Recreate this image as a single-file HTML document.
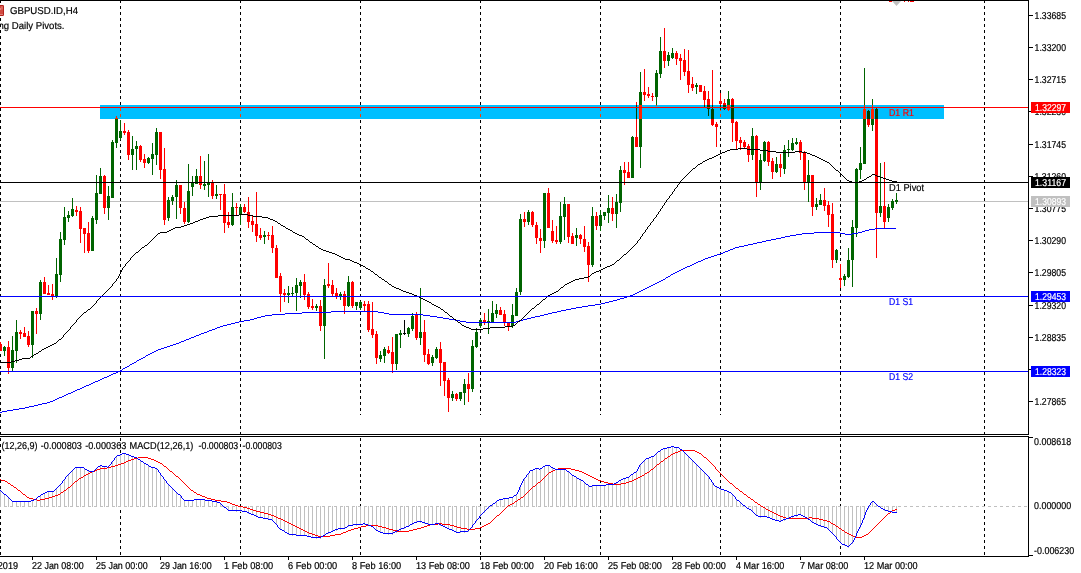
<!DOCTYPE html>
<html><head><meta charset="utf-8"><title>GBPUSD.ID,H4</title>
<style>
html,body{margin:0;padding:0;background:#fff;}
body{width:1081px;height:573px;overflow:hidden;font-family:"Liberation Sans",sans-serif;}
svg{display:block;will-change:transform;}
text{font-family:"Liberation Sans",sans-serif;stroke-width:0.2px;text-rendering:geometricPrecision;paint-order:stroke;}
</style></head><body>
<svg width="1081" height="573" viewBox="0 0 1081 573" shape-rendering="crispEdges" font-family="Liberation Sans, sans-serif">
<g id="grid"><rect x="0" y="1" width="1" height="2" fill="#000"/><rect x="0" y="6" width="1" height="3" fill="#000"/><rect x="0" y="12" width="1" height="3" fill="#000"/><rect x="0" y="18" width="1" height="3" fill="#000"/><rect x="0" y="24" width="1" height="3" fill="#000"/><rect x="0" y="30" width="1" height="3" fill="#000"/><rect x="0" y="36" width="1" height="3" fill="#000"/><rect x="0" y="42" width="1" height="3" fill="#000"/><rect x="0" y="48" width="1" height="3" fill="#000"/><rect x="0" y="54" width="1" height="3" fill="#000"/><rect x="0" y="60" width="1" height="3" fill="#000"/><rect x="0" y="66" width="1" height="3" fill="#000"/><rect x="0" y="72" width="1" height="3" fill="#000"/><rect x="0" y="78" width="1" height="3" fill="#000"/><rect x="0" y="84" width="1" height="3" fill="#000"/><rect x="0" y="90" width="1" height="3" fill="#000"/><rect x="0" y="96" width="1" height="3" fill="#000"/><rect x="0" y="102" width="1" height="3" fill="#000"/><rect x="0" y="108" width="1" height="3" fill="#000"/><rect x="0" y="114" width="1" height="3" fill="#000"/><rect x="0" y="120" width="1" height="3" fill="#000"/><rect x="0" y="126" width="1" height="3" fill="#000"/><rect x="0" y="132" width="1" height="3" fill="#000"/><rect x="0" y="138" width="1" height="3" fill="#000"/><rect x="0" y="144" width="1" height="3" fill="#000"/><rect x="0" y="150" width="1" height="3" fill="#000"/><rect x="0" y="156" width="1" height="3" fill="#000"/><rect x="0" y="162" width="1" height="3" fill="#000"/><rect x="0" y="168" width="1" height="3" fill="#000"/><rect x="0" y="174" width="1" height="3" fill="#000"/><rect x="0" y="180" width="1" height="3" fill="#000"/><rect x="0" y="186" width="1" height="3" fill="#000"/><rect x="0" y="192" width="1" height="3" fill="#000"/><rect x="0" y="198" width="1" height="3" fill="#000"/><rect x="0" y="204" width="1" height="3" fill="#000"/><rect x="0" y="210" width="1" height="3" fill="#000"/><rect x="0" y="216" width="1" height="3" fill="#000"/><rect x="0" y="222" width="1" height="3" fill="#000"/><rect x="0" y="228" width="1" height="3" fill="#000"/><rect x="0" y="234" width="1" height="3" fill="#000"/><rect x="0" y="240" width="1" height="3" fill="#000"/><rect x="0" y="246" width="1" height="3" fill="#000"/><rect x="0" y="252" width="1" height="3" fill="#000"/><rect x="0" y="258" width="1" height="3" fill="#000"/><rect x="0" y="264" width="1" height="3" fill="#000"/><rect x="0" y="270" width="1" height="3" fill="#000"/><rect x="0" y="276" width="1" height="3" fill="#000"/><rect x="0" y="282" width="1" height="3" fill="#000"/><rect x="0" y="288" width="1" height="3" fill="#000"/><rect x="0" y="294" width="1" height="3" fill="#000"/><rect x="0" y="300" width="1" height="3" fill="#000"/><rect x="0" y="306" width="1" height="3" fill="#000"/><rect x="0" y="312" width="1" height="3" fill="#000"/><rect x="0" y="318" width="1" height="3" fill="#000"/><rect x="0" y="324" width="1" height="3" fill="#000"/><rect x="0" y="330" width="1" height="3" fill="#000"/><rect x="0" y="336" width="1" height="3" fill="#000"/><rect x="0" y="342" width="1" height="3" fill="#000"/><rect x="0" y="348" width="1" height="3" fill="#000"/><rect x="0" y="354" width="1" height="3" fill="#000"/><rect x="0" y="360" width="1" height="3" fill="#000"/><rect x="0" y="366" width="1" height="3" fill="#000"/><rect x="0" y="372" width="1" height="3" fill="#000"/><rect x="0" y="378" width="1" height="3" fill="#000"/><rect x="0" y="384" width="1" height="3" fill="#000"/><rect x="0" y="390" width="1" height="3" fill="#000"/><rect x="0" y="396" width="1" height="3" fill="#000"/><rect x="0" y="402" width="1" height="3" fill="#000"/><rect x="0" y="408" width="1" height="3" fill="#000"/><rect x="0" y="414" width="1" height="3" fill="#000"/><rect x="0" y="420" width="1" height="3" fill="#000"/><rect x="0" y="426" width="1" height="3" fill="#000"/><rect x="0" y="432" width="1" height="2" fill="#000"/><rect x="120" y="1" width="1" height="2" fill="#000"/><rect x="120" y="6" width="1" height="3" fill="#000"/><rect x="120" y="12" width="1" height="3" fill="#000"/><rect x="120" y="18" width="1" height="3" fill="#000"/><rect x="120" y="24" width="1" height="3" fill="#000"/><rect x="120" y="30" width="1" height="3" fill="#000"/><rect x="120" y="36" width="1" height="3" fill="#000"/><rect x="120" y="42" width="1" height="3" fill="#000"/><rect x="120" y="48" width="1" height="3" fill="#000"/><rect x="120" y="54" width="1" height="3" fill="#000"/><rect x="120" y="60" width="1" height="3" fill="#000"/><rect x="120" y="66" width="1" height="3" fill="#000"/><rect x="120" y="72" width="1" height="3" fill="#000"/><rect x="120" y="78" width="1" height="3" fill="#000"/><rect x="120" y="84" width="1" height="3" fill="#000"/><rect x="120" y="90" width="1" height="3" fill="#000"/><rect x="120" y="96" width="1" height="3" fill="#000"/><rect x="120" y="102" width="1" height="3" fill="#000"/><rect x="120" y="108" width="1" height="3" fill="#000"/><rect x="120" y="114" width="1" height="3" fill="#000"/><rect x="120" y="120" width="1" height="3" fill="#000"/><rect x="120" y="126" width="1" height="3" fill="#000"/><rect x="120" y="132" width="1" height="3" fill="#000"/><rect x="120" y="138" width="1" height="3" fill="#000"/><rect x="120" y="144" width="1" height="3" fill="#000"/><rect x="120" y="150" width="1" height="3" fill="#000"/><rect x="120" y="156" width="1" height="3" fill="#000"/><rect x="120" y="162" width="1" height="3" fill="#000"/><rect x="120" y="168" width="1" height="3" fill="#000"/><rect x="120" y="174" width="1" height="3" fill="#000"/><rect x="120" y="180" width="1" height="3" fill="#000"/><rect x="120" y="186" width="1" height="3" fill="#000"/><rect x="120" y="192" width="1" height="3" fill="#000"/><rect x="120" y="198" width="1" height="3" fill="#000"/><rect x="120" y="204" width="1" height="3" fill="#000"/><rect x="120" y="210" width="1" height="3" fill="#000"/><rect x="120" y="216" width="1" height="3" fill="#000"/><rect x="120" y="222" width="1" height="3" fill="#000"/><rect x="120" y="228" width="1" height="3" fill="#000"/><rect x="120" y="234" width="1" height="3" fill="#000"/><rect x="120" y="240" width="1" height="3" fill="#000"/><rect x="120" y="246" width="1" height="3" fill="#000"/><rect x="120" y="252" width="1" height="3" fill="#000"/><rect x="120" y="258" width="1" height="3" fill="#000"/><rect x="120" y="264" width="1" height="3" fill="#000"/><rect x="120" y="270" width="1" height="3" fill="#000"/><rect x="120" y="276" width="1" height="3" fill="#000"/><rect x="120" y="282" width="1" height="3" fill="#000"/><rect x="120" y="288" width="1" height="3" fill="#000"/><rect x="120" y="294" width="1" height="3" fill="#000"/><rect x="120" y="300" width="1" height="3" fill="#000"/><rect x="120" y="306" width="1" height="3" fill="#000"/><rect x="120" y="312" width="1" height="3" fill="#000"/><rect x="120" y="318" width="1" height="3" fill="#000"/><rect x="120" y="324" width="1" height="3" fill="#000"/><rect x="120" y="330" width="1" height="3" fill="#000"/><rect x="120" y="336" width="1" height="3" fill="#000"/><rect x="120" y="342" width="1" height="3" fill="#000"/><rect x="120" y="348" width="1" height="3" fill="#000"/><rect x="120" y="354" width="1" height="3" fill="#000"/><rect x="120" y="360" width="1" height="3" fill="#000"/><rect x="120" y="366" width="1" height="3" fill="#000"/><rect x="120" y="372" width="1" height="3" fill="#000"/><rect x="120" y="378" width="1" height="3" fill="#000"/><rect x="120" y="384" width="1" height="3" fill="#000"/><rect x="120" y="390" width="1" height="3" fill="#000"/><rect x="120" y="396" width="1" height="3" fill="#000"/><rect x="120" y="402" width="1" height="3" fill="#000"/><rect x="120" y="408" width="1" height="3" fill="#000"/><rect x="120" y="414" width="1" height="3" fill="#000"/><rect x="120" y="420" width="1" height="3" fill="#000"/><rect x="120" y="426" width="1" height="3" fill="#000"/><rect x="120" y="432" width="1" height="2" fill="#000"/><rect x="240" y="1" width="1" height="2" fill="#000"/><rect x="240" y="6" width="1" height="3" fill="#000"/><rect x="240" y="12" width="1" height="3" fill="#000"/><rect x="240" y="18" width="1" height="3" fill="#000"/><rect x="240" y="24" width="1" height="3" fill="#000"/><rect x="240" y="30" width="1" height="3" fill="#000"/><rect x="240" y="36" width="1" height="3" fill="#000"/><rect x="240" y="42" width="1" height="3" fill="#000"/><rect x="240" y="48" width="1" height="3" fill="#000"/><rect x="240" y="54" width="1" height="3" fill="#000"/><rect x="240" y="60" width="1" height="3" fill="#000"/><rect x="240" y="66" width="1" height="3" fill="#000"/><rect x="240" y="72" width="1" height="3" fill="#000"/><rect x="240" y="78" width="1" height="3" fill="#000"/><rect x="240" y="84" width="1" height="3" fill="#000"/><rect x="240" y="90" width="1" height="3" fill="#000"/><rect x="240" y="96" width="1" height="3" fill="#000"/><rect x="240" y="102" width="1" height="3" fill="#000"/><rect x="240" y="108" width="1" height="3" fill="#000"/><rect x="240" y="114" width="1" height="3" fill="#000"/><rect x="240" y="120" width="1" height="3" fill="#000"/><rect x="240" y="126" width="1" height="3" fill="#000"/><rect x="240" y="132" width="1" height="3" fill="#000"/><rect x="240" y="138" width="1" height="3" fill="#000"/><rect x="240" y="144" width="1" height="3" fill="#000"/><rect x="240" y="150" width="1" height="3" fill="#000"/><rect x="240" y="156" width="1" height="3" fill="#000"/><rect x="240" y="162" width="1" height="3" fill="#000"/><rect x="240" y="168" width="1" height="3" fill="#000"/><rect x="240" y="174" width="1" height="3" fill="#000"/><rect x="240" y="180" width="1" height="3" fill="#000"/><rect x="240" y="186" width="1" height="3" fill="#000"/><rect x="240" y="192" width="1" height="3" fill="#000"/><rect x="240" y="198" width="1" height="3" fill="#000"/><rect x="240" y="204" width="1" height="3" fill="#000"/><rect x="240" y="210" width="1" height="3" fill="#000"/><rect x="240" y="216" width="1" height="3" fill="#000"/><rect x="240" y="222" width="1" height="3" fill="#000"/><rect x="240" y="228" width="1" height="3" fill="#000"/><rect x="240" y="234" width="1" height="3" fill="#000"/><rect x="240" y="240" width="1" height="3" fill="#000"/><rect x="240" y="246" width="1" height="3" fill="#000"/><rect x="240" y="252" width="1" height="3" fill="#000"/><rect x="240" y="258" width="1" height="3" fill="#000"/><rect x="240" y="264" width="1" height="3" fill="#000"/><rect x="240" y="270" width="1" height="3" fill="#000"/><rect x="240" y="276" width="1" height="3" fill="#000"/><rect x="240" y="282" width="1" height="3" fill="#000"/><rect x="240" y="288" width="1" height="3" fill="#000"/><rect x="240" y="294" width="1" height="3" fill="#000"/><rect x="240" y="300" width="1" height="3" fill="#000"/><rect x="240" y="306" width="1" height="3" fill="#000"/><rect x="240" y="312" width="1" height="3" fill="#000"/><rect x="240" y="318" width="1" height="3" fill="#000"/><rect x="240" y="324" width="1" height="3" fill="#000"/><rect x="240" y="330" width="1" height="3" fill="#000"/><rect x="240" y="336" width="1" height="3" fill="#000"/><rect x="240" y="342" width="1" height="3" fill="#000"/><rect x="240" y="348" width="1" height="3" fill="#000"/><rect x="240" y="354" width="1" height="3" fill="#000"/><rect x="240" y="360" width="1" height="3" fill="#000"/><rect x="240" y="366" width="1" height="3" fill="#000"/><rect x="240" y="372" width="1" height="3" fill="#000"/><rect x="240" y="378" width="1" height="3" fill="#000"/><rect x="240" y="384" width="1" height="3" fill="#000"/><rect x="240" y="390" width="1" height="3" fill="#000"/><rect x="240" y="396" width="1" height="3" fill="#000"/><rect x="240" y="402" width="1" height="3" fill="#000"/><rect x="240" y="408" width="1" height="3" fill="#000"/><rect x="240" y="414" width="1" height="3" fill="#000"/><rect x="240" y="420" width="1" height="3" fill="#000"/><rect x="240" y="426" width="1" height="3" fill="#000"/><rect x="240" y="432" width="1" height="2" fill="#000"/><rect x="360" y="1" width="1" height="2" fill="#000"/><rect x="360" y="6" width="1" height="3" fill="#000"/><rect x="360" y="12" width="1" height="3" fill="#000"/><rect x="360" y="18" width="1" height="3" fill="#000"/><rect x="360" y="24" width="1" height="3" fill="#000"/><rect x="360" y="30" width="1" height="3" fill="#000"/><rect x="360" y="36" width="1" height="3" fill="#000"/><rect x="360" y="42" width="1" height="3" fill="#000"/><rect x="360" y="48" width="1" height="3" fill="#000"/><rect x="360" y="54" width="1" height="3" fill="#000"/><rect x="360" y="60" width="1" height="3" fill="#000"/><rect x="360" y="66" width="1" height="3" fill="#000"/><rect x="360" y="72" width="1" height="3" fill="#000"/><rect x="360" y="78" width="1" height="3" fill="#000"/><rect x="360" y="84" width="1" height="3" fill="#000"/><rect x="360" y="90" width="1" height="3" fill="#000"/><rect x="360" y="96" width="1" height="3" fill="#000"/><rect x="360" y="102" width="1" height="3" fill="#000"/><rect x="360" y="108" width="1" height="3" fill="#000"/><rect x="360" y="114" width="1" height="3" fill="#000"/><rect x="360" y="120" width="1" height="3" fill="#000"/><rect x="360" y="126" width="1" height="3" fill="#000"/><rect x="360" y="132" width="1" height="3" fill="#000"/><rect x="360" y="138" width="1" height="3" fill="#000"/><rect x="360" y="144" width="1" height="3" fill="#000"/><rect x="360" y="150" width="1" height="3" fill="#000"/><rect x="360" y="156" width="1" height="3" fill="#000"/><rect x="360" y="162" width="1" height="3" fill="#000"/><rect x="360" y="168" width="1" height="3" fill="#000"/><rect x="360" y="174" width="1" height="3" fill="#000"/><rect x="360" y="180" width="1" height="3" fill="#000"/><rect x="360" y="186" width="1" height="3" fill="#000"/><rect x="360" y="192" width="1" height="3" fill="#000"/><rect x="360" y="198" width="1" height="3" fill="#000"/><rect x="360" y="204" width="1" height="3" fill="#000"/><rect x="360" y="210" width="1" height="3" fill="#000"/><rect x="360" y="216" width="1" height="3" fill="#000"/><rect x="360" y="222" width="1" height="3" fill="#000"/><rect x="360" y="228" width="1" height="3" fill="#000"/><rect x="360" y="234" width="1" height="3" fill="#000"/><rect x="360" y="240" width="1" height="3" fill="#000"/><rect x="360" y="246" width="1" height="3" fill="#000"/><rect x="360" y="252" width="1" height="3" fill="#000"/><rect x="360" y="258" width="1" height="3" fill="#000"/><rect x="360" y="264" width="1" height="3" fill="#000"/><rect x="360" y="270" width="1" height="3" fill="#000"/><rect x="360" y="276" width="1" height="3" fill="#000"/><rect x="360" y="282" width="1" height="3" fill="#000"/><rect x="360" y="288" width="1" height="3" fill="#000"/><rect x="360" y="294" width="1" height="3" fill="#000"/><rect x="360" y="300" width="1" height="3" fill="#000"/><rect x="360" y="306" width="1" height="3" fill="#000"/><rect x="360" y="312" width="1" height="3" fill="#000"/><rect x="360" y="318" width="1" height="3" fill="#000"/><rect x="360" y="324" width="1" height="3" fill="#000"/><rect x="360" y="330" width="1" height="3" fill="#000"/><rect x="360" y="336" width="1" height="3" fill="#000"/><rect x="360" y="342" width="1" height="3" fill="#000"/><rect x="360" y="348" width="1" height="3" fill="#000"/><rect x="360" y="354" width="1" height="3" fill="#000"/><rect x="360" y="360" width="1" height="3" fill="#000"/><rect x="360" y="366" width="1" height="3" fill="#000"/><rect x="360" y="372" width="1" height="3" fill="#000"/><rect x="360" y="378" width="1" height="3" fill="#000"/><rect x="360" y="384" width="1" height="3" fill="#000"/><rect x="360" y="390" width="1" height="3" fill="#000"/><rect x="360" y="396" width="1" height="3" fill="#000"/><rect x="360" y="402" width="1" height="3" fill="#000"/><rect x="360" y="408" width="1" height="3" fill="#000"/><rect x="360" y="414" width="1" height="1" fill="#000"/><rect x="480" y="1" width="1" height="2" fill="#000"/><rect x="480" y="6" width="1" height="3" fill="#000"/><rect x="480" y="12" width="1" height="3" fill="#000"/><rect x="480" y="18" width="1" height="3" fill="#000"/><rect x="480" y="24" width="1" height="3" fill="#000"/><rect x="480" y="30" width="1" height="3" fill="#000"/><rect x="480" y="36" width="1" height="3" fill="#000"/><rect x="480" y="42" width="1" height="3" fill="#000"/><rect x="480" y="48" width="1" height="3" fill="#000"/><rect x="480" y="54" width="1" height="3" fill="#000"/><rect x="480" y="60" width="1" height="3" fill="#000"/><rect x="480" y="66" width="1" height="3" fill="#000"/><rect x="480" y="72" width="1" height="3" fill="#000"/><rect x="480" y="78" width="1" height="3" fill="#000"/><rect x="480" y="84" width="1" height="3" fill="#000"/><rect x="480" y="90" width="1" height="3" fill="#000"/><rect x="480" y="96" width="1" height="3" fill="#000"/><rect x="480" y="102" width="1" height="3" fill="#000"/><rect x="480" y="108" width="1" height="3" fill="#000"/><rect x="480" y="114" width="1" height="3" fill="#000"/><rect x="480" y="120" width="1" height="3" fill="#000"/><rect x="480" y="126" width="1" height="3" fill="#000"/><rect x="480" y="132" width="1" height="3" fill="#000"/><rect x="480" y="138" width="1" height="3" fill="#000"/><rect x="480" y="144" width="1" height="3" fill="#000"/><rect x="480" y="150" width="1" height="3" fill="#000"/><rect x="480" y="156" width="1" height="3" fill="#000"/><rect x="480" y="162" width="1" height="3" fill="#000"/><rect x="480" y="168" width="1" height="3" fill="#000"/><rect x="480" y="174" width="1" height="3" fill="#000"/><rect x="480" y="180" width="1" height="3" fill="#000"/><rect x="480" y="186" width="1" height="3" fill="#000"/><rect x="480" y="192" width="1" height="3" fill="#000"/><rect x="480" y="198" width="1" height="3" fill="#000"/><rect x="480" y="204" width="1" height="3" fill="#000"/><rect x="480" y="210" width="1" height="3" fill="#000"/><rect x="480" y="216" width="1" height="3" fill="#000"/><rect x="480" y="222" width="1" height="3" fill="#000"/><rect x="480" y="228" width="1" height="3" fill="#000"/><rect x="480" y="234" width="1" height="3" fill="#000"/><rect x="480" y="240" width="1" height="3" fill="#000"/><rect x="480" y="246" width="1" height="3" fill="#000"/><rect x="480" y="252" width="1" height="3" fill="#000"/><rect x="480" y="258" width="1" height="3" fill="#000"/><rect x="480" y="264" width="1" height="3" fill="#000"/><rect x="480" y="270" width="1" height="3" fill="#000"/><rect x="480" y="276" width="1" height="3" fill="#000"/><rect x="480" y="282" width="1" height="3" fill="#000"/><rect x="480" y="288" width="1" height="3" fill="#000"/><rect x="480" y="294" width="1" height="3" fill="#000"/><rect x="480" y="300" width="1" height="3" fill="#000"/><rect x="480" y="306" width="1" height="3" fill="#000"/><rect x="480" y="312" width="1" height="3" fill="#000"/><rect x="480" y="318" width="1" height="3" fill="#000"/><rect x="480" y="324" width="1" height="3" fill="#000"/><rect x="480" y="330" width="1" height="3" fill="#000"/><rect x="480" y="336" width="1" height="3" fill="#000"/><rect x="480" y="342" width="1" height="3" fill="#000"/><rect x="480" y="348" width="1" height="3" fill="#000"/><rect x="480" y="354" width="1" height="3" fill="#000"/><rect x="480" y="360" width="1" height="3" fill="#000"/><rect x="480" y="366" width="1" height="3" fill="#000"/><rect x="480" y="372" width="1" height="3" fill="#000"/><rect x="480" y="378" width="1" height="3" fill="#000"/><rect x="480" y="384" width="1" height="3" fill="#000"/><rect x="480" y="390" width="1" height="3" fill="#000"/><rect x="480" y="396" width="1" height="3" fill="#000"/><rect x="480" y="402" width="1" height="3" fill="#000"/><rect x="480" y="408" width="1" height="3" fill="#000"/><rect x="480" y="414" width="1" height="1" fill="#000"/><rect x="600" y="1" width="1" height="2" fill="#000"/><rect x="600" y="6" width="1" height="3" fill="#000"/><rect x="600" y="12" width="1" height="3" fill="#000"/><rect x="600" y="18" width="1" height="3" fill="#000"/><rect x="600" y="24" width="1" height="3" fill="#000"/><rect x="600" y="30" width="1" height="3" fill="#000"/><rect x="600" y="36" width="1" height="3" fill="#000"/><rect x="600" y="42" width="1" height="3" fill="#000"/><rect x="600" y="48" width="1" height="3" fill="#000"/><rect x="600" y="54" width="1" height="3" fill="#000"/><rect x="600" y="60" width="1" height="3" fill="#000"/><rect x="600" y="66" width="1" height="3" fill="#000"/><rect x="600" y="72" width="1" height="3" fill="#000"/><rect x="600" y="78" width="1" height="3" fill="#000"/><rect x="600" y="84" width="1" height="3" fill="#000"/><rect x="600" y="90" width="1" height="3" fill="#000"/><rect x="600" y="96" width="1" height="3" fill="#000"/><rect x="600" y="102" width="1" height="3" fill="#000"/><rect x="600" y="108" width="1" height="3" fill="#000"/><rect x="600" y="114" width="1" height="3" fill="#000"/><rect x="600" y="120" width="1" height="3" fill="#000"/><rect x="600" y="126" width="1" height="3" fill="#000"/><rect x="600" y="132" width="1" height="3" fill="#000"/><rect x="600" y="138" width="1" height="3" fill="#000"/><rect x="600" y="144" width="1" height="3" fill="#000"/><rect x="600" y="150" width="1" height="3" fill="#000"/><rect x="600" y="156" width="1" height="3" fill="#000"/><rect x="600" y="162" width="1" height="3" fill="#000"/><rect x="600" y="168" width="1" height="3" fill="#000"/><rect x="600" y="174" width="1" height="3" fill="#000"/><rect x="600" y="180" width="1" height="3" fill="#000"/><rect x="600" y="186" width="1" height="3" fill="#000"/><rect x="600" y="192" width="1" height="3" fill="#000"/><rect x="600" y="198" width="1" height="3" fill="#000"/><rect x="600" y="204" width="1" height="3" fill="#000"/><rect x="600" y="210" width="1" height="3" fill="#000"/><rect x="600" y="216" width="1" height="3" fill="#000"/><rect x="600" y="222" width="1" height="3" fill="#000"/><rect x="600" y="228" width="1" height="3" fill="#000"/><rect x="600" y="234" width="1" height="3" fill="#000"/><rect x="600" y="240" width="1" height="3" fill="#000"/><rect x="600" y="246" width="1" height="3" fill="#000"/><rect x="600" y="252" width="1" height="3" fill="#000"/><rect x="600" y="258" width="1" height="3" fill="#000"/><rect x="600" y="264" width="1" height="3" fill="#000"/><rect x="600" y="270" width="1" height="3" fill="#000"/><rect x="600" y="276" width="1" height="3" fill="#000"/><rect x="600" y="282" width="1" height="3" fill="#000"/><rect x="600" y="288" width="1" height="3" fill="#000"/><rect x="600" y="294" width="1" height="3" fill="#000"/><rect x="600" y="300" width="1" height="3" fill="#000"/><rect x="600" y="306" width="1" height="3" fill="#000"/><rect x="600" y="312" width="1" height="3" fill="#000"/><rect x="600" y="318" width="1" height="3" fill="#000"/><rect x="600" y="324" width="1" height="3" fill="#000"/><rect x="600" y="330" width="1" height="3" fill="#000"/><rect x="600" y="336" width="1" height="3" fill="#000"/><rect x="600" y="342" width="1" height="3" fill="#000"/><rect x="600" y="348" width="1" height="3" fill="#000"/><rect x="600" y="354" width="1" height="3" fill="#000"/><rect x="600" y="360" width="1" height="3" fill="#000"/><rect x="600" y="366" width="1" height="3" fill="#000"/><rect x="600" y="372" width="1" height="3" fill="#000"/><rect x="600" y="378" width="1" height="3" fill="#000"/><rect x="600" y="384" width="1" height="3" fill="#000"/><rect x="600" y="390" width="1" height="3" fill="#000"/><rect x="600" y="396" width="1" height="3" fill="#000"/><rect x="600" y="402" width="1" height="3" fill="#000"/><rect x="600" y="408" width="1" height="3" fill="#000"/><rect x="600" y="414" width="1" height="1" fill="#000"/><rect x="720" y="1" width="1" height="2" fill="#000"/><rect x="720" y="6" width="1" height="3" fill="#000"/><rect x="720" y="12" width="1" height="3" fill="#000"/><rect x="720" y="18" width="1" height="3" fill="#000"/><rect x="720" y="24" width="1" height="3" fill="#000"/><rect x="720" y="30" width="1" height="3" fill="#000"/><rect x="720" y="36" width="1" height="3" fill="#000"/><rect x="720" y="42" width="1" height="3" fill="#000"/><rect x="720" y="48" width="1" height="3" fill="#000"/><rect x="720" y="54" width="1" height="3" fill="#000"/><rect x="720" y="60" width="1" height="3" fill="#000"/><rect x="720" y="66" width="1" height="3" fill="#000"/><rect x="720" y="72" width="1" height="3" fill="#000"/><rect x="720" y="78" width="1" height="3" fill="#000"/><rect x="720" y="84" width="1" height="3" fill="#000"/><rect x="720" y="90" width="1" height="3" fill="#000"/><rect x="720" y="96" width="1" height="3" fill="#000"/><rect x="720" y="102" width="1" height="3" fill="#000"/><rect x="720" y="108" width="1" height="3" fill="#000"/><rect x="720" y="114" width="1" height="3" fill="#000"/><rect x="720" y="120" width="1" height="3" fill="#000"/><rect x="720" y="126" width="1" height="3" fill="#000"/><rect x="720" y="132" width="1" height="3" fill="#000"/><rect x="720" y="138" width="1" height="3" fill="#000"/><rect x="720" y="144" width="1" height="3" fill="#000"/><rect x="720" y="150" width="1" height="3" fill="#000"/><rect x="720" y="156" width="1" height="3" fill="#000"/><rect x="720" y="162" width="1" height="3" fill="#000"/><rect x="720" y="168" width="1" height="3" fill="#000"/><rect x="720" y="174" width="1" height="3" fill="#000"/><rect x="720" y="180" width="1" height="3" fill="#000"/><rect x="720" y="186" width="1" height="3" fill="#000"/><rect x="720" y="192" width="1" height="3" fill="#000"/><rect x="720" y="198" width="1" height="3" fill="#000"/><rect x="720" y="204" width="1" height="3" fill="#000"/><rect x="720" y="210" width="1" height="3" fill="#000"/><rect x="720" y="216" width="1" height="3" fill="#000"/><rect x="720" y="222" width="1" height="3" fill="#000"/><rect x="720" y="228" width="1" height="3" fill="#000"/><rect x="720" y="234" width="1" height="3" fill="#000"/><rect x="720" y="240" width="1" height="3" fill="#000"/><rect x="720" y="246" width="1" height="3" fill="#000"/><rect x="720" y="252" width="1" height="3" fill="#000"/><rect x="720" y="258" width="1" height="3" fill="#000"/><rect x="720" y="264" width="1" height="3" fill="#000"/><rect x="720" y="270" width="1" height="3" fill="#000"/><rect x="720" y="276" width="1" height="3" fill="#000"/><rect x="720" y="282" width="1" height="3" fill="#000"/><rect x="720" y="288" width="1" height="3" fill="#000"/><rect x="720" y="294" width="1" height="3" fill="#000"/><rect x="720" y="300" width="1" height="3" fill="#000"/><rect x="720" y="306" width="1" height="3" fill="#000"/><rect x="720" y="312" width="1" height="3" fill="#000"/><rect x="720" y="318" width="1" height="3" fill="#000"/><rect x="720" y="324" width="1" height="3" fill="#000"/><rect x="720" y="330" width="1" height="3" fill="#000"/><rect x="720" y="336" width="1" height="3" fill="#000"/><rect x="720" y="342" width="1" height="3" fill="#000"/><rect x="720" y="348" width="1" height="3" fill="#000"/><rect x="720" y="354" width="1" height="3" fill="#000"/><rect x="720" y="360" width="1" height="3" fill="#000"/><rect x="720" y="366" width="1" height="3" fill="#000"/><rect x="720" y="372" width="1" height="3" fill="#000"/><rect x="720" y="378" width="1" height="3" fill="#000"/><rect x="720" y="384" width="1" height="3" fill="#000"/><rect x="720" y="390" width="1" height="3" fill="#000"/><rect x="720" y="396" width="1" height="3" fill="#000"/><rect x="720" y="402" width="1" height="3" fill="#000"/><rect x="720" y="408" width="1" height="3" fill="#000"/><rect x="720" y="414" width="1" height="1" fill="#000"/><rect x="840" y="1" width="1" height="2" fill="#000"/><rect x="840" y="6" width="1" height="3" fill="#000"/><rect x="840" y="12" width="1" height="3" fill="#000"/><rect x="840" y="18" width="1" height="3" fill="#000"/><rect x="840" y="24" width="1" height="3" fill="#000"/><rect x="840" y="30" width="1" height="3" fill="#000"/><rect x="840" y="36" width="1" height="3" fill="#000"/><rect x="840" y="42" width="1" height="3" fill="#000"/><rect x="840" y="48" width="1" height="3" fill="#000"/><rect x="840" y="54" width="1" height="3" fill="#000"/><rect x="840" y="60" width="1" height="3" fill="#000"/><rect x="840" y="66" width="1" height="3" fill="#000"/><rect x="840" y="72" width="1" height="3" fill="#000"/><rect x="840" y="78" width="1" height="3" fill="#000"/><rect x="840" y="84" width="1" height="3" fill="#000"/><rect x="840" y="90" width="1" height="3" fill="#000"/><rect x="840" y="96" width="1" height="3" fill="#000"/><rect x="840" y="102" width="1" height="3" fill="#000"/><rect x="840" y="108" width="1" height="3" fill="#000"/><rect x="840" y="114" width="1" height="3" fill="#000"/><rect x="840" y="120" width="1" height="3" fill="#000"/><rect x="840" y="126" width="1" height="3" fill="#000"/><rect x="840" y="132" width="1" height="3" fill="#000"/><rect x="840" y="138" width="1" height="3" fill="#000"/><rect x="840" y="144" width="1" height="3" fill="#000"/><rect x="840" y="150" width="1" height="3" fill="#000"/><rect x="840" y="156" width="1" height="3" fill="#000"/><rect x="840" y="162" width="1" height="3" fill="#000"/><rect x="840" y="168" width="1" height="3" fill="#000"/><rect x="840" y="174" width="1" height="3" fill="#000"/><rect x="840" y="180" width="1" height="3" fill="#000"/><rect x="840" y="186" width="1" height="3" fill="#000"/><rect x="840" y="192" width="1" height="3" fill="#000"/><rect x="840" y="198" width="1" height="3" fill="#000"/><rect x="840" y="204" width="1" height="3" fill="#000"/><rect x="840" y="210" width="1" height="3" fill="#000"/><rect x="840" y="216" width="1" height="3" fill="#000"/><rect x="840" y="222" width="1" height="3" fill="#000"/><rect x="840" y="228" width="1" height="3" fill="#000"/><rect x="840" y="234" width="1" height="3" fill="#000"/><rect x="840" y="240" width="1" height="3" fill="#000"/><rect x="840" y="246" width="1" height="3" fill="#000"/><rect x="840" y="252" width="1" height="3" fill="#000"/><rect x="840" y="258" width="1" height="3" fill="#000"/><rect x="840" y="264" width="1" height="3" fill="#000"/><rect x="840" y="270" width="1" height="3" fill="#000"/><rect x="840" y="276" width="1" height="3" fill="#000"/><rect x="840" y="282" width="1" height="3" fill="#000"/><rect x="840" y="288" width="1" height="3" fill="#000"/><rect x="840" y="294" width="1" height="3" fill="#000"/><rect x="840" y="300" width="1" height="3" fill="#000"/><rect x="840" y="306" width="1" height="3" fill="#000"/><rect x="840" y="312" width="1" height="3" fill="#000"/><rect x="840" y="318" width="1" height="3" fill="#000"/><rect x="840" y="324" width="1" height="3" fill="#000"/><rect x="840" y="330" width="1" height="3" fill="#000"/><rect x="840" y="336" width="1" height="3" fill="#000"/><rect x="840" y="342" width="1" height="3" fill="#000"/><rect x="840" y="348" width="1" height="3" fill="#000"/><rect x="840" y="354" width="1" height="3" fill="#000"/><rect x="840" y="360" width="1" height="3" fill="#000"/><rect x="840" y="366" width="1" height="3" fill="#000"/><rect x="840" y="372" width="1" height="3" fill="#000"/><rect x="840" y="378" width="1" height="3" fill="#000"/><rect x="840" y="384" width="1" height="3" fill="#000"/><rect x="840" y="390" width="1" height="3" fill="#000"/><rect x="840" y="396" width="1" height="3" fill="#000"/><rect x="840" y="402" width="1" height="3" fill="#000"/><rect x="840" y="408" width="1" height="3" fill="#000"/><rect x="840" y="414" width="1" height="3" fill="#000"/><rect x="840" y="420" width="1" height="3" fill="#000"/><rect x="840" y="426" width="1" height="3" fill="#000"/><rect x="840" y="432" width="1" height="2" fill="#000"/><rect x="984" y="1" width="1" height="2" fill="#000"/><rect x="984" y="6" width="1" height="3" fill="#000"/><rect x="984" y="12" width="1" height="3" fill="#000"/><rect x="984" y="18" width="1" height="3" fill="#000"/><rect x="984" y="24" width="1" height="3" fill="#000"/><rect x="984" y="30" width="1" height="3" fill="#000"/><rect x="984" y="36" width="1" height="3" fill="#000"/><rect x="984" y="42" width="1" height="3" fill="#000"/><rect x="984" y="48" width="1" height="3" fill="#000"/><rect x="984" y="54" width="1" height="3" fill="#000"/><rect x="984" y="60" width="1" height="3" fill="#000"/><rect x="984" y="66" width="1" height="3" fill="#000"/><rect x="984" y="72" width="1" height="3" fill="#000"/><rect x="984" y="78" width="1" height="3" fill="#000"/><rect x="984" y="84" width="1" height="3" fill="#000"/><rect x="984" y="90" width="1" height="3" fill="#000"/><rect x="984" y="96" width="1" height="3" fill="#000"/><rect x="984" y="102" width="1" height="3" fill="#000"/><rect x="984" y="108" width="1" height="3" fill="#000"/><rect x="984" y="114" width="1" height="3" fill="#000"/><rect x="984" y="120" width="1" height="3" fill="#000"/><rect x="984" y="126" width="1" height="3" fill="#000"/><rect x="984" y="132" width="1" height="3" fill="#000"/><rect x="984" y="138" width="1" height="3" fill="#000"/><rect x="984" y="144" width="1" height="3" fill="#000"/><rect x="984" y="150" width="1" height="3" fill="#000"/><rect x="984" y="156" width="1" height="3" fill="#000"/><rect x="984" y="162" width="1" height="3" fill="#000"/><rect x="984" y="168" width="1" height="3" fill="#000"/><rect x="984" y="174" width="1" height="3" fill="#000"/><rect x="984" y="180" width="1" height="3" fill="#000"/><rect x="984" y="186" width="1" height="3" fill="#000"/><rect x="984" y="192" width="1" height="3" fill="#000"/><rect x="984" y="198" width="1" height="3" fill="#000"/><rect x="984" y="204" width="1" height="3" fill="#000"/><rect x="984" y="210" width="1" height="3" fill="#000"/><rect x="984" y="216" width="1" height="3" fill="#000"/><rect x="984" y="222" width="1" height="3" fill="#000"/><rect x="984" y="228" width="1" height="3" fill="#000"/><rect x="984" y="234" width="1" height="3" fill="#000"/><rect x="984" y="240" width="1" height="3" fill="#000"/><rect x="984" y="246" width="1" height="3" fill="#000"/><rect x="984" y="252" width="1" height="3" fill="#000"/><rect x="984" y="258" width="1" height="3" fill="#000"/><rect x="984" y="264" width="1" height="3" fill="#000"/><rect x="984" y="270" width="1" height="3" fill="#000"/><rect x="984" y="276" width="1" height="3" fill="#000"/><rect x="984" y="282" width="1" height="3" fill="#000"/><rect x="984" y="288" width="1" height="3" fill="#000"/><rect x="984" y="294" width="1" height="3" fill="#000"/><rect x="984" y="300" width="1" height="3" fill="#000"/><rect x="984" y="306" width="1" height="3" fill="#000"/><rect x="984" y="312" width="1" height="3" fill="#000"/><rect x="984" y="318" width="1" height="3" fill="#000"/><rect x="984" y="324" width="1" height="3" fill="#000"/><rect x="984" y="330" width="1" height="3" fill="#000"/><rect x="984" y="336" width="1" height="3" fill="#000"/><rect x="984" y="342" width="1" height="3" fill="#000"/><rect x="984" y="348" width="1" height="3" fill="#000"/><rect x="984" y="354" width="1" height="3" fill="#000"/><rect x="984" y="360" width="1" height="3" fill="#000"/><rect x="984" y="366" width="1" height="3" fill="#000"/><rect x="984" y="372" width="1" height="3" fill="#000"/><rect x="984" y="378" width="1" height="3" fill="#000"/><rect x="984" y="384" width="1" height="3" fill="#000"/><rect x="984" y="390" width="1" height="3" fill="#000"/><rect x="984" y="396" width="1" height="3" fill="#000"/><rect x="984" y="402" width="1" height="3" fill="#000"/><rect x="984" y="408" width="1" height="3" fill="#000"/><rect x="984" y="414" width="1" height="3" fill="#000"/><rect x="984" y="420" width="1" height="3" fill="#000"/><rect x="984" y="426" width="1" height="3" fill="#000"/><rect x="984" y="432" width="1" height="2" fill="#000"/></g>
<g id="subgrid"><rect x="0" y="438" width="1" height="3" fill="#000"/><rect x="0" y="444" width="1" height="3" fill="#000"/><rect x="0" y="450" width="1" height="3" fill="#000"/><rect x="0" y="456" width="1" height="3" fill="#000"/><rect x="0" y="462" width="1" height="3" fill="#000"/><rect x="0" y="468" width="1" height="3" fill="#000"/><rect x="0" y="474" width="1" height="3" fill="#000"/><rect x="0" y="480" width="1" height="3" fill="#000"/><rect x="0" y="486" width="1" height="3" fill="#000"/><rect x="0" y="492" width="1" height="3" fill="#000"/><rect x="0" y="498" width="1" height="3" fill="#000"/><rect x="0" y="504" width="1" height="3" fill="#000"/><rect x="0" y="510" width="1" height="3" fill="#000"/><rect x="0" y="516" width="1" height="3" fill="#000"/><rect x="0" y="522" width="1" height="3" fill="#000"/><rect x="0" y="528" width="1" height="3" fill="#000"/><rect x="0" y="534" width="1" height="3" fill="#000"/><rect x="0" y="540" width="1" height="3" fill="#000"/><rect x="0" y="546" width="1" height="3" fill="#000"/><rect x="0" y="552" width="1" height="3" fill="#000"/><rect x="120" y="438" width="1" height="3" fill="#000"/><rect x="120" y="444" width="1" height="3" fill="#000"/><rect x="120" y="450" width="1" height="3" fill="#000"/><rect x="120" y="456" width="1" height="3" fill="#000"/><rect x="120" y="462" width="1" height="3" fill="#000"/><rect x="120" y="468" width="1" height="3" fill="#000"/><rect x="120" y="474" width="1" height="3" fill="#000"/><rect x="120" y="480" width="1" height="3" fill="#000"/><rect x="120" y="486" width="1" height="3" fill="#000"/><rect x="120" y="492" width="1" height="3" fill="#000"/><rect x="120" y="498" width="1" height="3" fill="#000"/><rect x="120" y="504" width="1" height="3" fill="#000"/><rect x="120" y="510" width="1" height="3" fill="#000"/><rect x="120" y="516" width="1" height="3" fill="#000"/><rect x="120" y="522" width="1" height="3" fill="#000"/><rect x="120" y="528" width="1" height="3" fill="#000"/><rect x="120" y="534" width="1" height="3" fill="#000"/><rect x="120" y="540" width="1" height="3" fill="#000"/><rect x="120" y="546" width="1" height="3" fill="#000"/><rect x="120" y="552" width="1" height="3" fill="#000"/><rect x="240" y="438" width="1" height="3" fill="#000"/><rect x="240" y="444" width="1" height="3" fill="#000"/><rect x="240" y="450" width="1" height="3" fill="#000"/><rect x="240" y="456" width="1" height="3" fill="#000"/><rect x="240" y="462" width="1" height="3" fill="#000"/><rect x="240" y="468" width="1" height="3" fill="#000"/><rect x="240" y="474" width="1" height="3" fill="#000"/><rect x="240" y="480" width="1" height="3" fill="#000"/><rect x="240" y="486" width="1" height="3" fill="#000"/><rect x="240" y="492" width="1" height="3" fill="#000"/><rect x="240" y="498" width="1" height="3" fill="#000"/><rect x="240" y="504" width="1" height="3" fill="#000"/><rect x="240" y="510" width="1" height="3" fill="#000"/><rect x="240" y="516" width="1" height="3" fill="#000"/><rect x="240" y="522" width="1" height="3" fill="#000"/><rect x="240" y="528" width="1" height="3" fill="#000"/><rect x="240" y="534" width="1" height="3" fill="#000"/><rect x="240" y="540" width="1" height="3" fill="#000"/><rect x="240" y="546" width="1" height="3" fill="#000"/><rect x="240" y="552" width="1" height="3" fill="#000"/><rect x="360" y="438" width="1" height="3" fill="#000"/><rect x="360" y="444" width="1" height="3" fill="#000"/><rect x="360" y="450" width="1" height="3" fill="#000"/><rect x="360" y="456" width="1" height="3" fill="#000"/><rect x="360" y="462" width="1" height="3" fill="#000"/><rect x="360" y="468" width="1" height="3" fill="#000"/><rect x="360" y="474" width="1" height="3" fill="#000"/><rect x="360" y="480" width="1" height="3" fill="#000"/><rect x="360" y="486" width="1" height="3" fill="#000"/><rect x="360" y="492" width="1" height="3" fill="#000"/><rect x="360" y="498" width="1" height="3" fill="#000"/><rect x="360" y="504" width="1" height="3" fill="#000"/><rect x="360" y="510" width="1" height="3" fill="#000"/><rect x="360" y="516" width="1" height="3" fill="#000"/><rect x="360" y="522" width="1" height="3" fill="#000"/><rect x="360" y="528" width="1" height="3" fill="#000"/><rect x="360" y="534" width="1" height="3" fill="#000"/><rect x="360" y="540" width="1" height="3" fill="#000"/><rect x="360" y="546" width="1" height="3" fill="#000"/><rect x="360" y="552" width="1" height="3" fill="#000"/><rect x="480" y="438" width="1" height="3" fill="#000"/><rect x="480" y="444" width="1" height="3" fill="#000"/><rect x="480" y="450" width="1" height="3" fill="#000"/><rect x="480" y="456" width="1" height="3" fill="#000"/><rect x="480" y="462" width="1" height="3" fill="#000"/><rect x="480" y="468" width="1" height="3" fill="#000"/><rect x="480" y="474" width="1" height="3" fill="#000"/><rect x="480" y="480" width="1" height="3" fill="#000"/><rect x="480" y="486" width="1" height="3" fill="#000"/><rect x="480" y="492" width="1" height="3" fill="#000"/><rect x="480" y="498" width="1" height="3" fill="#000"/><rect x="480" y="504" width="1" height="3" fill="#000"/><rect x="480" y="510" width="1" height="3" fill="#000"/><rect x="480" y="516" width="1" height="3" fill="#000"/><rect x="480" y="522" width="1" height="3" fill="#000"/><rect x="480" y="528" width="1" height="3" fill="#000"/><rect x="480" y="534" width="1" height="3" fill="#000"/><rect x="480" y="540" width="1" height="3" fill="#000"/><rect x="480" y="546" width="1" height="3" fill="#000"/><rect x="480" y="552" width="1" height="3" fill="#000"/><rect x="600" y="438" width="1" height="3" fill="#000"/><rect x="600" y="444" width="1" height="3" fill="#000"/><rect x="600" y="450" width="1" height="3" fill="#000"/><rect x="600" y="456" width="1" height="3" fill="#000"/><rect x="600" y="462" width="1" height="3" fill="#000"/><rect x="600" y="468" width="1" height="3" fill="#000"/><rect x="600" y="474" width="1" height="3" fill="#000"/><rect x="600" y="480" width="1" height="3" fill="#000"/><rect x="600" y="486" width="1" height="3" fill="#000"/><rect x="600" y="492" width="1" height="3" fill="#000"/><rect x="600" y="498" width="1" height="3" fill="#000"/><rect x="600" y="504" width="1" height="3" fill="#000"/><rect x="600" y="510" width="1" height="3" fill="#000"/><rect x="600" y="516" width="1" height="3" fill="#000"/><rect x="600" y="522" width="1" height="3" fill="#000"/><rect x="600" y="528" width="1" height="3" fill="#000"/><rect x="600" y="534" width="1" height="3" fill="#000"/><rect x="600" y="540" width="1" height="3" fill="#000"/><rect x="600" y="546" width="1" height="3" fill="#000"/><rect x="600" y="552" width="1" height="3" fill="#000"/><rect x="720" y="438" width="1" height="3" fill="#000"/><rect x="720" y="444" width="1" height="3" fill="#000"/><rect x="720" y="450" width="1" height="3" fill="#000"/><rect x="720" y="456" width="1" height="3" fill="#000"/><rect x="720" y="462" width="1" height="3" fill="#000"/><rect x="720" y="468" width="1" height="3" fill="#000"/><rect x="720" y="474" width="1" height="3" fill="#000"/><rect x="720" y="480" width="1" height="3" fill="#000"/><rect x="720" y="486" width="1" height="3" fill="#000"/><rect x="720" y="492" width="1" height="3" fill="#000"/><rect x="720" y="498" width="1" height="3" fill="#000"/><rect x="720" y="504" width="1" height="3" fill="#000"/><rect x="720" y="510" width="1" height="3" fill="#000"/><rect x="720" y="516" width="1" height="3" fill="#000"/><rect x="720" y="522" width="1" height="3" fill="#000"/><rect x="720" y="528" width="1" height="3" fill="#000"/><rect x="720" y="534" width="1" height="3" fill="#000"/><rect x="720" y="540" width="1" height="3" fill="#000"/><rect x="720" y="546" width="1" height="3" fill="#000"/><rect x="720" y="552" width="1" height="3" fill="#000"/><rect x="840" y="438" width="1" height="3" fill="#000"/><rect x="840" y="444" width="1" height="3" fill="#000"/><rect x="840" y="450" width="1" height="3" fill="#000"/><rect x="840" y="456" width="1" height="3" fill="#000"/><rect x="840" y="462" width="1" height="3" fill="#000"/><rect x="840" y="468" width="1" height="3" fill="#000"/><rect x="840" y="474" width="1" height="3" fill="#000"/><rect x="840" y="480" width="1" height="3" fill="#000"/><rect x="840" y="486" width="1" height="3" fill="#000"/><rect x="840" y="492" width="1" height="3" fill="#000"/><rect x="840" y="498" width="1" height="3" fill="#000"/><rect x="840" y="504" width="1" height="3" fill="#000"/><rect x="840" y="510" width="1" height="3" fill="#000"/><rect x="840" y="516" width="1" height="3" fill="#000"/><rect x="840" y="522" width="1" height="3" fill="#000"/><rect x="840" y="528" width="1" height="3" fill="#000"/><rect x="840" y="534" width="1" height="3" fill="#000"/><rect x="840" y="540" width="1" height="3" fill="#000"/><rect x="840" y="546" width="1" height="3" fill="#000"/><rect x="840" y="552" width="1" height="3" fill="#000"/><rect x="984" y="438" width="1" height="3" fill="#000"/><rect x="984" y="444" width="1" height="3" fill="#000"/><rect x="984" y="450" width="1" height="3" fill="#000"/><rect x="984" y="456" width="1" height="3" fill="#000"/><rect x="984" y="462" width="1" height="3" fill="#000"/><rect x="984" y="468" width="1" height="3" fill="#000"/><rect x="984" y="474" width="1" height="3" fill="#000"/><rect x="984" y="480" width="1" height="3" fill="#000"/><rect x="984" y="486" width="1" height="3" fill="#000"/><rect x="984" y="492" width="1" height="3" fill="#000"/><rect x="984" y="498" width="1" height="3" fill="#000"/><rect x="984" y="504" width="1" height="3" fill="#000"/><rect x="984" y="510" width="1" height="3" fill="#000"/><rect x="984" y="516" width="1" height="3" fill="#000"/><rect x="984" y="522" width="1" height="3" fill="#000"/><rect x="984" y="528" width="1" height="3" fill="#000"/><rect x="984" y="534" width="1" height="3" fill="#000"/><rect x="984" y="540" width="1" height="3" fill="#000"/><rect x="984" y="546" width="1" height="3" fill="#000"/><rect x="984" y="552" width="1" height="3" fill="#000"/></g>
<rect x="0" y="201" width="1028" height="1" fill="#c0c0c0"/>
<g id="candles"><rect x="0" y="342" width="1" height="9" fill="#ff0000"/>
<rect x="-1" y="344" width="3" height="7" fill="#ff0000"/>
<rect x="4" y="346" width="1" height="10" fill="#006400"/>
<rect x="3" y="347" width="3" height="4" fill="#006400"/>
<rect x="8" y="341" width="1" height="33" fill="#ff0000"/>
<rect x="7" y="347" width="3" height="21" fill="#ff0000"/>
<rect x="12" y="336" width="1" height="35" fill="#006400"/>
<rect x="11" y="350" width="3" height="18" fill="#006400"/>
<rect x="16" y="320" width="1" height="43" fill="#006400"/>
<rect x="15" y="332" width="3" height="19" fill="#006400"/>
<rect x="20" y="330" width="1" height="9" fill="#ff0000"/>
<rect x="19" y="332" width="3" height="2" fill="#ff0000"/>
<rect x="24" y="327" width="1" height="10" fill="#ff0000"/>
<rect x="23" y="333" width="3" height="4" fill="#ff0000"/>
<rect x="28" y="331" width="1" height="16" fill="#ff0000"/>
<rect x="27" y="336" width="3" height="9" fill="#ff0000"/>
<rect x="32" y="311" width="1" height="47" fill="#006400"/>
<rect x="31" y="311" width="3" height="34" fill="#006400"/>
<rect x="36" y="308" width="1" height="26" fill="#ff0000"/>
<rect x="35" y="311" width="3" height="3" fill="#ff0000"/>
<rect x="40" y="280" width="1" height="40" fill="#006400"/>
<rect x="39" y="282" width="3" height="32" fill="#006400"/>
<rect x="44" y="277" width="1" height="17" fill="#ff0000"/>
<rect x="43" y="282" width="3" height="12" fill="#ff0000"/>
<rect x="48" y="285" width="1" height="10" fill="#ff0000"/>
<rect x="47" y="293" width="3" height="2" fill="#ff0000"/>
<rect x="52" y="284" width="1" height="16" fill="#ff0000"/>
<rect x="51" y="294" width="3" height="2" fill="#ff0000"/>
<rect x="56" y="258" width="1" height="40" fill="#006400"/>
<rect x="55" y="274" width="3" height="22" fill="#006400"/>
<rect x="60" y="232" width="1" height="50" fill="#006400"/>
<rect x="59" y="239" width="3" height="36" fill="#006400"/>
<rect x="64" y="207" width="1" height="38" fill="#006400"/>
<rect x="63" y="217" width="3" height="23" fill="#006400"/>
<rect x="68" y="211" width="1" height="11" fill="#006400"/>
<rect x="67" y="215" width="3" height="3" fill="#006400"/>
<rect x="72" y="198" width="1" height="19" fill="#006400"/>
<rect x="71" y="209" width="3" height="7" fill="#006400"/>
<rect x="76" y="206" width="1" height="10" fill="#ff0000"/>
<rect x="75" y="210" width="3" height="2" fill="#ff0000"/>
<rect x="80" y="207" width="1" height="36" fill="#ff0000"/>
<rect x="79" y="211" width="3" height="18" fill="#ff0000"/>
<rect x="84" y="228" width="1" height="25" fill="#ff0000"/>
<rect x="83" y="228" width="3" height="6" fill="#ff0000"/>
<rect x="88" y="222" width="1" height="31" fill="#ff0000"/>
<rect x="87" y="233" width="3" height="18" fill="#ff0000"/>
<rect x="92" y="216" width="1" height="35" fill="#006400"/>
<rect x="91" y="218" width="3" height="33" fill="#006400"/>
<rect x="96" y="175" width="1" height="49" fill="#006400"/>
<rect x="95" y="193" width="3" height="27" fill="#006400"/>
<rect x="100" y="168" width="1" height="26" fill="#006400"/>
<rect x="99" y="176" width="3" height="18" fill="#006400"/>
<rect x="104" y="175" width="1" height="39" fill="#ff0000"/>
<rect x="103" y="176" width="3" height="32" fill="#ff0000"/>
<rect x="108" y="186" width="1" height="34" fill="#006400"/>
<rect x="107" y="196" width="3" height="12" fill="#006400"/>
<rect x="112" y="140" width="1" height="58" fill="#006400"/>
<rect x="111" y="142" width="3" height="56" fill="#006400"/>
<rect x="116" y="116" width="1" height="32" fill="#006400"/>
<rect x="115" y="118" width="3" height="25" fill="#006400"/>
<rect x="120" y="120" width="1" height="20" fill="#006400"/>
<rect x="119" y="131" width="3" height="7" fill="#006400"/>
<rect x="124" y="123" width="1" height="12" fill="#ff0000"/>
<rect x="123" y="131" width="3" height="2" fill="#ff0000"/>
<rect x="128" y="130" width="1" height="30" fill="#ff0000"/>
<rect x="127" y="132" width="3" height="23" fill="#ff0000"/>
<rect x="132" y="136" width="1" height="34" fill="#006400"/>
<rect x="131" y="149" width="3" height="6" fill="#006400"/>
<rect x="136" y="141" width="1" height="29" fill="#006400"/>
<rect x="135" y="146" width="3" height="3" fill="#006400"/>
<rect x="140" y="145" width="1" height="17" fill="#ff0000"/>
<rect x="139" y="146" width="3" height="14" fill="#ff0000"/>
<rect x="144" y="154" width="1" height="14" fill="#ff0000"/>
<rect x="143" y="159" width="3" height="4" fill="#ff0000"/>
<rect x="148" y="157" width="1" height="7" fill="#006400"/>
<rect x="147" y="158" width="3" height="5" fill="#006400"/>
<rect x="152" y="143" width="1" height="32" fill="#006400"/>
<rect x="151" y="154" width="3" height="5" fill="#006400"/>
<rect x="156" y="128" width="1" height="37" fill="#006400"/>
<rect x="155" y="132" width="3" height="23" fill="#006400"/>
<rect x="160" y="132" width="1" height="47" fill="#ff0000"/>
<rect x="159" y="132" width="3" height="38" fill="#ff0000"/>
<rect x="164" y="148" width="1" height="77" fill="#ff0000"/>
<rect x="163" y="169" width="3" height="51" fill="#ff0000"/>
<rect x="168" y="197" width="1" height="24" fill="#006400"/>
<rect x="167" y="200" width="3" height="18" fill="#006400"/>
<rect x="172" y="195" width="1" height="10" fill="#006400"/>
<rect x="171" y="197" width="3" height="4" fill="#006400"/>
<rect x="176" y="180" width="1" height="39" fill="#006400"/>
<rect x="175" y="185" width="3" height="12" fill="#006400"/>
<rect x="180" y="185" width="1" height="29" fill="#ff0000"/>
<rect x="179" y="185" width="3" height="23" fill="#ff0000"/>
<rect x="184" y="202" width="1" height="22" fill="#ff0000"/>
<rect x="183" y="208" width="3" height="14" fill="#ff0000"/>
<rect x="188" y="164" width="1" height="59" fill="#006400"/>
<rect x="187" y="191" width="3" height="31" fill="#006400"/>
<rect x="192" y="176" width="1" height="20" fill="#006400"/>
<rect x="191" y="183" width="3" height="4" fill="#006400"/>
<rect x="196" y="169" width="1" height="15" fill="#006400"/>
<rect x="195" y="176" width="3" height="8" fill="#006400"/>
<rect x="200" y="156" width="1" height="33" fill="#ff0000"/>
<rect x="199" y="176" width="3" height="9" fill="#ff0000"/>
<rect x="204" y="161" width="1" height="29" fill="#006400"/>
<rect x="203" y="184" width="3" height="2" fill="#006400"/>
<rect x="208" y="154" width="1" height="43" fill="#006400"/>
<rect x="207" y="183" width="3" height="2" fill="#006400"/>
<rect x="212" y="180" width="1" height="19" fill="#ff0000"/>
<rect x="211" y="183" width="3" height="13" fill="#ff0000"/>
<rect x="216" y="185" width="1" height="14" fill="#006400"/>
<rect x="215" y="194" width="3" height="2" fill="#006400"/>
<rect x="220" y="194" width="1" height="16" fill="#ff0000"/>
<rect x="219" y="194" width="3" height="1" fill="#ff0000"/>
<rect x="224" y="184" width="1" height="49" fill="#ff0000"/>
<rect x="223" y="194" width="3" height="29" fill="#ff0000"/>
<rect x="228" y="212" width="1" height="16" fill="#ff0000"/>
<rect x="227" y="222" width="3" height="3" fill="#ff0000"/>
<rect x="232" y="193" width="1" height="33" fill="#006400"/>
<rect x="231" y="207" width="3" height="18" fill="#006400"/>
<rect x="236" y="203" width="1" height="12" fill="#ff0000"/>
<rect x="235" y="207" width="3" height="1" fill="#ff0000"/>
<rect x="240" y="204" width="1" height="21" fill="#006400"/>
<rect x="239" y="207" width="3" height="7" fill="#006400"/>
<rect x="244" y="204" width="1" height="9" fill="#ff0000"/>
<rect x="243" y="207" width="3" height="5" fill="#ff0000"/>
<rect x="248" y="197" width="1" height="31" fill="#ff0000"/>
<rect x="247" y="212" width="3" height="10" fill="#ff0000"/>
<rect x="252" y="216" width="1" height="16" fill="#ff0000"/>
<rect x="251" y="221" width="3" height="4" fill="#ff0000"/>
<rect x="256" y="192" width="1" height="50" fill="#ff0000"/>
<rect x="255" y="224" width="3" height="12" fill="#ff0000"/>
<rect x="260" y="228" width="1" height="12" fill="#ff0000"/>
<rect x="259" y="235" width="3" height="3" fill="#ff0000"/>
<rect x="264" y="231" width="1" height="13" fill="#006400"/>
<rect x="263" y="235" width="3" height="2" fill="#006400"/>
<rect x="268" y="232" width="1" height="8" fill="#ff0000"/>
<rect x="267" y="235" width="3" height="1" fill="#ff0000"/>
<rect x="272" y="226" width="1" height="27" fill="#ff0000"/>
<rect x="271" y="235" width="3" height="13" fill="#ff0000"/>
<rect x="276" y="245" width="1" height="33" fill="#ff0000"/>
<rect x="275" y="248" width="3" height="30" fill="#ff0000"/>
<rect x="280" y="273" width="1" height="39" fill="#ff0000"/>
<rect x="279" y="276" width="3" height="18" fill="#ff0000"/>
<rect x="284" y="289" width="1" height="13" fill="#ff0000"/>
<rect x="283" y="293" width="3" height="2" fill="#ff0000"/>
<rect x="288" y="286" width="1" height="17" fill="#006400"/>
<rect x="287" y="293" width="3" height="2" fill="#006400"/>
<rect x="292" y="287" width="1" height="9" fill="#006400"/>
<rect x="291" y="293" width="3" height="1" fill="#006400"/>
<rect x="296" y="278" width="1" height="33" fill="#006400"/>
<rect x="295" y="285" width="3" height="8" fill="#006400"/>
<rect x="300" y="280" width="1" height="18" fill="#006400"/>
<rect x="299" y="282" width="3" height="4" fill="#006400"/>
<rect x="304" y="274" width="1" height="26" fill="#ff0000"/>
<rect x="303" y="282" width="3" height="13" fill="#ff0000"/>
<rect x="308" y="292" width="1" height="17" fill="#ff0000"/>
<rect x="307" y="294" width="3" height="13" fill="#ff0000"/>
<rect x="312" y="299" width="1" height="11" fill="#ff0000"/>
<rect x="311" y="306" width="3" height="2" fill="#ff0000"/>
<rect x="316" y="304" width="1" height="7" fill="#006400"/>
<rect x="315" y="306" width="3" height="2" fill="#006400"/>
<rect x="320" y="300" width="1" height="31" fill="#ff0000"/>
<rect x="319" y="306" width="3" height="20" fill="#ff0000"/>
<rect x="324" y="279" width="1" height="80" fill="#006400"/>
<rect x="323" y="285" width="3" height="41" fill="#006400"/>
<rect x="328" y="263" width="1" height="25" fill="#ff0000"/>
<rect x="327" y="284" width="3" height="2" fill="#ff0000"/>
<rect x="332" y="280" width="1" height="16" fill="#ff0000"/>
<rect x="331" y="285" width="3" height="9" fill="#ff0000"/>
<rect x="336" y="288" width="1" height="11" fill="#ff0000"/>
<rect x="335" y="293" width="3" height="3" fill="#ff0000"/>
<rect x="340" y="292" width="1" height="8" fill="#006400"/>
<rect x="339" y="294" width="3" height="2" fill="#006400"/>
<rect x="344" y="291" width="1" height="23" fill="#ff0000"/>
<rect x="343" y="294" width="3" height="12" fill="#ff0000"/>
<rect x="348" y="276" width="1" height="31" fill="#006400"/>
<rect x="347" y="282" width="3" height="24" fill="#006400"/>
<rect x="352" y="281" width="1" height="27" fill="#ff0000"/>
<rect x="351" y="282" width="3" height="24" fill="#ff0000"/>
<rect x="356" y="302" width="1" height="8" fill="#006400"/>
<rect x="355" y="302" width="3" height="4" fill="#006400"/>
<rect x="360" y="301" width="1" height="9" fill="#006400"/>
<rect x="359" y="302" width="3" height="6" fill="#006400"/>
<rect x="364" y="301" width="1" height="11" fill="#ff0000"/>
<rect x="363" y="304" width="3" height="2" fill="#ff0000"/>
<rect x="368" y="301" width="1" height="31" fill="#ff0000"/>
<rect x="367" y="304" width="3" height="26" fill="#ff0000"/>
<rect x="372" y="302" width="1" height="36" fill="#ff0000"/>
<rect x="371" y="329" width="3" height="6" fill="#ff0000"/>
<rect x="376" y="331" width="1" height="33" fill="#ff0000"/>
<rect x="375" y="334" width="3" height="24" fill="#ff0000"/>
<rect x="380" y="351" width="1" height="11" fill="#006400"/>
<rect x="379" y="355" width="3" height="4" fill="#006400"/>
<rect x="384" y="347" width="1" height="16" fill="#006400"/>
<rect x="383" y="349" width="3" height="7" fill="#006400"/>
<rect x="388" y="346" width="1" height="8" fill="#ff0000"/>
<rect x="387" y="350" width="3" height="3" fill="#ff0000"/>
<rect x="392" y="337" width="1" height="36" fill="#ff0000"/>
<rect x="391" y="352" width="3" height="12" fill="#ff0000"/>
<rect x="396" y="334" width="1" height="36" fill="#006400"/>
<rect x="395" y="334" width="3" height="30" fill="#006400"/>
<rect x="400" y="330" width="1" height="18" fill="#006400"/>
<rect x="399" y="333" width="3" height="2" fill="#006400"/>
<rect x="404" y="320" width="1" height="15" fill="#000"/>
<rect x="403" y="333" width="3" height="1" fill="#000"/>
<rect x="408" y="327" width="1" height="10" fill="#006400"/>
<rect x="407" y="328" width="3" height="6" fill="#006400"/>
<rect x="412" y="313" width="1" height="18" fill="#006400"/>
<rect x="411" y="316" width="3" height="13" fill="#006400"/>
<rect x="416" y="312" width="1" height="28" fill="#ff0000"/>
<rect x="415" y="315" width="3" height="23" fill="#ff0000"/>
<rect x="420" y="288" width="1" height="57" fill="#006400"/>
<rect x="419" y="332" width="3" height="6" fill="#006400"/>
<rect x="424" y="320" width="1" height="42" fill="#ff0000"/>
<rect x="423" y="332" width="3" height="23" fill="#ff0000"/>
<rect x="428" y="349" width="1" height="16" fill="#ff0000"/>
<rect x="427" y="354" width="3" height="10" fill="#ff0000"/>
<rect x="432" y="355" width="1" height="11" fill="#006400"/>
<rect x="431" y="357" width="3" height="6" fill="#006400"/>
<rect x="436" y="347" width="1" height="12" fill="#006400"/>
<rect x="435" y="349" width="3" height="9" fill="#006400"/>
<rect x="440" y="342" width="1" height="44" fill="#ff0000"/>
<rect x="439" y="349" width="3" height="14" fill="#ff0000"/>
<rect x="444" y="362" width="1" height="34" fill="#ff0000"/>
<rect x="443" y="362" width="3" height="19" fill="#ff0000"/>
<rect x="448" y="378" width="1" height="34" fill="#ff0000"/>
<rect x="447" y="380" width="3" height="18" fill="#ff0000"/>
<rect x="452" y="391" width="1" height="10" fill="#006400"/>
<rect x="451" y="394" width="3" height="4" fill="#006400"/>
<rect x="456" y="393" width="1" height="8" fill="#ff0000"/>
<rect x="455" y="394" width="3" height="5" fill="#ff0000"/>
<rect x="460" y="392" width="1" height="9" fill="#006400"/>
<rect x="459" y="392" width="3" height="7" fill="#006400"/>
<rect x="464" y="379" width="1" height="26" fill="#006400"/>
<rect x="463" y="384" width="3" height="9" fill="#006400"/>
<rect x="468" y="373" width="1" height="29" fill="#ff0000"/>
<rect x="467" y="384" width="3" height="5" fill="#ff0000"/>
<rect x="472" y="340" width="1" height="52" fill="#006400"/>
<rect x="471" y="346" width="3" height="43" fill="#006400"/>
<rect x="476" y="328" width="1" height="20" fill="#006400"/>
<rect x="475" y="332" width="3" height="15" fill="#006400"/>
<rect x="480" y="318" width="1" height="10" fill="#006400"/>
<rect x="479" y="320" width="3" height="6" fill="#006400"/>
<rect x="484" y="313" width="1" height="12" fill="#ff0000"/>
<rect x="483" y="320" width="3" height="3" fill="#ff0000"/>
<rect x="488" y="309" width="1" height="25" fill="#006400"/>
<rect x="487" y="321" width="3" height="2" fill="#006400"/>
<rect x="492" y="301" width="1" height="21" fill="#006400"/>
<rect x="491" y="313" width="3" height="9" fill="#006400"/>
<rect x="496" y="304" width="1" height="14" fill="#006400"/>
<rect x="495" y="310" width="3" height="4" fill="#006400"/>
<rect x="500" y="307" width="1" height="8" fill="#ff0000"/>
<rect x="499" y="310" width="3" height="5" fill="#ff0000"/>
<rect x="504" y="310" width="1" height="16" fill="#ff0000"/>
<rect x="503" y="314" width="3" height="9" fill="#ff0000"/>
<rect x="508" y="323" width="1" height="8" fill="#ff0000"/>
<rect x="507" y="323" width="3" height="3" fill="#ff0000"/>
<rect x="512" y="304" width="1" height="24" fill="#006400"/>
<rect x="511" y="315" width="3" height="11" fill="#006400"/>
<rect x="516" y="288" width="1" height="28" fill="#006400"/>
<rect x="515" y="292" width="3" height="24" fill="#006400"/>
<rect x="520" y="214" width="1" height="81" fill="#006400"/>
<rect x="519" y="219" width="3" height="73" fill="#006400"/>
<rect x="524" y="212" width="1" height="15" fill="#ff0000"/>
<rect x="523" y="219" width="3" height="3" fill="#ff0000"/>
<rect x="528" y="210" width="1" height="15" fill="#006400"/>
<rect x="527" y="212" width="3" height="10" fill="#006400"/>
<rect x="532" y="211" width="1" height="16" fill="#ff0000"/>
<rect x="531" y="212" width="3" height="13" fill="#ff0000"/>
<rect x="536" y="222" width="1" height="22" fill="#ff0000"/>
<rect x="535" y="225" width="3" height="13" fill="#ff0000"/>
<rect x="540" y="229" width="1" height="24" fill="#ff0000"/>
<rect x="539" y="238" width="3" height="3" fill="#ff0000"/>
<rect x="544" y="193" width="1" height="55" fill="#006400"/>
<rect x="543" y="193" width="3" height="48" fill="#006400"/>
<rect x="548" y="188" width="1" height="40" fill="#ff0000"/>
<rect x="547" y="193" width="3" height="35" fill="#ff0000"/>
<rect x="552" y="220" width="1" height="23" fill="#ff0000"/>
<rect x="551" y="231" width="3" height="10" fill="#ff0000"/>
<rect x="556" y="226" width="1" height="18" fill="#ff0000"/>
<rect x="555" y="240" width="3" height="2" fill="#ff0000"/>
<rect x="560" y="202" width="1" height="42" fill="#006400"/>
<rect x="559" y="216" width="3" height="26" fill="#006400"/>
<rect x="564" y="197" width="1" height="43" fill="#006400"/>
<rect x="563" y="204" width="3" height="13" fill="#006400"/>
<rect x="568" y="204" width="1" height="39" fill="#ff0000"/>
<rect x="567" y="204" width="3" height="33" fill="#ff0000"/>
<rect x="572" y="233" width="1" height="11" fill="#ff0000"/>
<rect x="571" y="236" width="3" height="8" fill="#ff0000"/>
<rect x="576" y="228" width="1" height="18" fill="#006400"/>
<rect x="575" y="235" width="3" height="3" fill="#006400"/>
<rect x="580" y="234" width="1" height="10" fill="#ff0000"/>
<rect x="579" y="235" width="3" height="4" fill="#ff0000"/>
<rect x="584" y="226" width="1" height="26" fill="#ff0000"/>
<rect x="583" y="239" width="3" height="8" fill="#ff0000"/>
<rect x="588" y="242" width="1" height="40" fill="#ff0000"/>
<rect x="587" y="246" width="3" height="19" fill="#ff0000"/>
<rect x="592" y="207" width="1" height="60" fill="#006400"/>
<rect x="591" y="216" width="3" height="49" fill="#006400"/>
<rect x="596" y="212" width="1" height="18" fill="#ff0000"/>
<rect x="595" y="216" width="3" height="10" fill="#ff0000"/>
<rect x="600" y="210" width="1" height="21" fill="#006400"/>
<rect x="599" y="215" width="3" height="11" fill="#006400"/>
<rect x="604" y="212" width="1" height="8" fill="#006400"/>
<rect x="603" y="212" width="3" height="4" fill="#006400"/>
<rect x="608" y="195" width="1" height="28" fill="#006400"/>
<rect x="607" y="208" width="3" height="5" fill="#006400"/>
<rect x="612" y="197" width="1" height="24" fill="#ff0000"/>
<rect x="611" y="208" width="3" height="6" fill="#ff0000"/>
<rect x="616" y="194" width="1" height="34" fill="#006400"/>
<rect x="615" y="202" width="3" height="12" fill="#006400"/>
<rect x="620" y="166" width="1" height="46" fill="#006400"/>
<rect x="619" y="170" width="3" height="33" fill="#006400"/>
<rect x="624" y="162" width="1" height="23" fill="#ff0000"/>
<rect x="623" y="170" width="3" height="3" fill="#ff0000"/>
<rect x="628" y="162" width="1" height="16" fill="#ff0000"/>
<rect x="627" y="172" width="3" height="6" fill="#ff0000"/>
<rect x="632" y="136" width="1" height="42" fill="#006400"/>
<rect x="631" y="137" width="3" height="41" fill="#006400"/>
<rect x="636" y="102" width="1" height="45" fill="#ff0000"/>
<rect x="635" y="137" width="3" height="10" fill="#ff0000"/>
<rect x="640" y="72" width="1" height="96" fill="#006400"/>
<rect x="639" y="92" width="3" height="55" fill="#006400"/>
<rect x="644" y="69" width="1" height="32" fill="#ff0000"/>
<rect x="643" y="92" width="3" height="3" fill="#ff0000"/>
<rect x="648" y="87" width="1" height="11" fill="#ff0000"/>
<rect x="647" y="94" width="3" height="2" fill="#ff0000"/>
<rect x="652" y="93" width="1" height="8" fill="#ff0000"/>
<rect x="651" y="96" width="3" height="1" fill="#ff0000"/>
<rect x="656" y="70" width="1" height="36" fill="#006400"/>
<rect x="655" y="73" width="3" height="24" fill="#006400"/>
<rect x="660" y="37" width="1" height="41" fill="#006400"/>
<rect x="659" y="51" width="3" height="23" fill="#006400"/>
<rect x="664" y="28" width="1" height="40" fill="#ff0000"/>
<rect x="663" y="51" width="3" height="10" fill="#ff0000"/>
<rect x="668" y="52" width="1" height="14" fill="#006400"/>
<rect x="667" y="55" width="3" height="6" fill="#006400"/>
<rect x="672" y="48" width="1" height="11" fill="#006400"/>
<rect x="671" y="53" width="3" height="5" fill="#006400"/>
<rect x="676" y="51" width="1" height="14" fill="#ff0000"/>
<rect x="675" y="53" width="3" height="6" fill="#ff0000"/>
<rect x="680" y="54" width="1" height="26" fill="#ff0000"/>
<rect x="679" y="58" width="3" height="3" fill="#ff0000"/>
<rect x="684" y="49" width="1" height="27" fill="#ff0000"/>
<rect x="683" y="60" width="3" height="12" fill="#ff0000"/>
<rect x="688" y="50" width="1" height="43" fill="#ff0000"/>
<rect x="687" y="71" width="3" height="14" fill="#ff0000"/>
<rect x="692" y="77" width="1" height="14" fill="#ff0000"/>
<rect x="691" y="84" width="3" height="4" fill="#ff0000"/>
<rect x="696" y="83" width="1" height="11" fill="#006400"/>
<rect x="695" y="85" width="3" height="2" fill="#006400"/>
<rect x="700" y="85" width="1" height="7" fill="#ff0000"/>
<rect x="699" y="85" width="3" height="7" fill="#ff0000"/>
<rect x="704" y="86" width="1" height="21" fill="#ff0000"/>
<rect x="703" y="91" width="3" height="9" fill="#ff0000"/>
<rect x="708" y="91" width="1" height="25" fill="#ff0000"/>
<rect x="707" y="99" width="3" height="10" fill="#ff0000"/>
<rect x="712" y="70" width="1" height="56" fill="#ff0000"/>
<rect x="711" y="109" width="3" height="16" fill="#ff0000"/>
<rect x="716" y="122" width="1" height="25" fill="#ff0000"/>
<rect x="715" y="124" width="3" height="3" fill="#ff0000"/>
<rect x="720" y="93" width="1" height="17" fill="#ff0000"/>
<rect x="719" y="101" width="3" height="3" fill="#ff0000"/>
<rect x="724" y="99" width="1" height="11" fill="#ff0000"/>
<rect x="723" y="103" width="3" height="6" fill="#ff0000"/>
<rect x="728" y="91" width="1" height="20" fill="#006400"/>
<rect x="727" y="99" width="3" height="11" fill="#006400"/>
<rect x="732" y="98" width="1" height="44" fill="#ff0000"/>
<rect x="731" y="99" width="3" height="24" fill="#ff0000"/>
<rect x="736" y="121" width="1" height="29" fill="#ff0000"/>
<rect x="735" y="122" width="3" height="19" fill="#ff0000"/>
<rect x="740" y="137" width="1" height="13" fill="#ff0000"/>
<rect x="739" y="140" width="3" height="3" fill="#ff0000"/>
<rect x="744" y="140" width="1" height="9" fill="#ff0000"/>
<rect x="743" y="142" width="3" height="5" fill="#ff0000"/>
<rect x="748" y="144" width="1" height="18" fill="#ff0000"/>
<rect x="747" y="146" width="3" height="9" fill="#ff0000"/>
<rect x="752" y="128" width="1" height="32" fill="#006400"/>
<rect x="751" y="136" width="3" height="19" fill="#006400"/>
<rect x="756" y="135" width="1" height="62" fill="#ff0000"/>
<rect x="755" y="136" width="3" height="46" fill="#ff0000"/>
<rect x="760" y="154" width="1" height="36" fill="#006400"/>
<rect x="759" y="160" width="3" height="22" fill="#006400"/>
<rect x="764" y="141" width="1" height="21" fill="#006400"/>
<rect x="763" y="142" width="3" height="19" fill="#006400"/>
<rect x="768" y="141" width="1" height="25" fill="#ff0000"/>
<rect x="767" y="142" width="3" height="20" fill="#ff0000"/>
<rect x="772" y="158" width="1" height="21" fill="#ff0000"/>
<rect x="771" y="161" width="3" height="11" fill="#ff0000"/>
<rect x="776" y="157" width="1" height="16" fill="#006400"/>
<rect x="775" y="164" width="3" height="8" fill="#006400"/>
<rect x="780" y="154" width="1" height="23" fill="#ff0000"/>
<rect x="779" y="164" width="3" height="4" fill="#ff0000"/>
<rect x="784" y="145" width="1" height="29" fill="#006400"/>
<rect x="783" y="150" width="3" height="19" fill="#006400"/>
<rect x="788" y="140" width="1" height="17" fill="#006400"/>
<rect x="787" y="149" width="3" height="1" fill="#006400"/>
<rect x="792" y="138" width="1" height="13" fill="#006400"/>
<rect x="791" y="143" width="3" height="7" fill="#006400"/>
<rect x="796" y="138" width="1" height="7" fill="#006400"/>
<rect x="795" y="142" width="3" height="2" fill="#006400"/>
<rect x="800" y="140" width="1" height="20" fill="#ff0000"/>
<rect x="799" y="142" width="3" height="11" fill="#ff0000"/>
<rect x="804" y="151" width="1" height="39" fill="#ff0000"/>
<rect x="803" y="152" width="3" height="30" fill="#ff0000"/>
<rect x="808" y="160" width="1" height="42" fill="#006400"/>
<rect x="807" y="175" width="3" height="7" fill="#006400"/>
<rect x="812" y="175" width="1" height="41" fill="#ff0000"/>
<rect x="811" y="175" width="3" height="32" fill="#ff0000"/>
<rect x="816" y="198" width="1" height="12" fill="#006400"/>
<rect x="815" y="204" width="3" height="3" fill="#006400"/>
<rect x="820" y="194" width="1" height="11" fill="#006400"/>
<rect x="819" y="200" width="3" height="5" fill="#006400"/>
<rect x="824" y="188" width="1" height="23" fill="#ff0000"/>
<rect x="823" y="200" width="3" height="6" fill="#ff0000"/>
<rect x="828" y="201" width="1" height="26" fill="#ff0000"/>
<rect x="827" y="205" width="3" height="10" fill="#ff0000"/>
<rect x="832" y="203" width="1" height="65" fill="#ff0000"/>
<rect x="831" y="214" width="3" height="46" fill="#ff0000"/>
<rect x="836" y="249" width="1" height="14" fill="#006400"/>
<rect x="835" y="250" width="3" height="10" fill="#006400"/>
<rect x="840" y="264" width="1" height="24" fill="#ff0000"/>
<rect x="839" y="278" width="3" height="2" fill="#ff0000"/>
<rect x="844" y="274" width="1" height="12" fill="#006400"/>
<rect x="843" y="276" width="3" height="4" fill="#006400"/>
<rect x="848" y="248" width="1" height="30" fill="#006400"/>
<rect x="847" y="260" width="3" height="17" fill="#006400"/>
<rect x="852" y="220" width="1" height="67" fill="#006400"/>
<rect x="851" y="227" width="3" height="33" fill="#006400"/>
<rect x="856" y="168" width="1" height="69" fill="#006400"/>
<rect x="855" y="169" width="3" height="59" fill="#006400"/>
<rect x="860" y="147" width="1" height="32" fill="#006400"/>
<rect x="859" y="163" width="3" height="7" fill="#006400"/>
<rect x="864" y="68" width="1" height="96" fill="#006400"/>
<rect x="863" y="109" width="3" height="55" fill="#006400"/>
<rect x="868" y="110" width="1" height="17" fill="#ff0000"/>
<rect x="867" y="111" width="3" height="14" fill="#ff0000"/>
<rect x="872" y="99" width="1" height="32" fill="#006400"/>
<rect x="871" y="109" width="3" height="16" fill="#006400"/>
<rect x="876" y="108" width="1" height="150" fill="#ff0000"/>
<rect x="875" y="109" width="3" height="104" fill="#ff0000"/>
<rect x="880" y="163" width="1" height="54" fill="#006400"/>
<rect x="879" y="206" width="3" height="7" fill="#006400"/>
<rect x="884" y="162" width="1" height="66" fill="#ff0000"/>
<rect x="883" y="206" width="3" height="16" fill="#ff0000"/>
<rect x="888" y="204" width="1" height="18" fill="#006400"/>
<rect x="887" y="207" width="3" height="11" fill="#006400"/>
<rect x="892" y="199" width="1" height="11" fill="#006400"/>
<rect x="891" y="201" width="3" height="7" fill="#006400"/>
<rect x="896" y="193" width="1" height="11" fill="#006400"/>
<rect x="895" y="200" width="3" height="2" fill="#006400"/></g>
<path d="M0.5,412v1M1.5,412v1M2.5,411v1M3.5,411v1M4.5,411v1M5.5,411v1M6.5,411v1M7.5,410v1M8.5,410v1M9.5,410v1M10.5,410v1M11.5,410v1M12.5,410v1M13.5,409v1M14.5,409v1M15.5,409v1M16.5,409v1M17.5,409v1M18.5,409v1M19.5,408v1M20.5,408v1M21.5,408v1M22.5,408v1M23.5,408v1M24.5,408v1M25.5,407v1M26.5,407v1M27.5,407v1M28.5,407v1M29.5,406v1M30.5,406v1M31.5,406v1M32.5,406v1M33.5,406v1M34.5,405v1M35.5,405v1M36.5,405v1M37.5,405v1M38.5,404v1M39.5,404v1M40.5,404v1M41.5,404v1M42.5,403v1M43.5,403v1M44.5,403v1M45.5,403v1M46.5,403v1M47.5,402v1M48.5,402v1M49.5,402v1M50.5,401v1M51.5,401v1M52.5,401v1M53.5,400v1M54.5,400v1M55.5,399v1M56.5,399v1M57.5,398v1M58.5,398v1M59.5,397v1M60.5,397v1M61.5,397v1M62.5,396v1M63.5,396v1M64.5,395v1M65.5,395v1M66.5,394v1M67.5,394v1M68.5,393v1M69.5,393v1M70.5,393v1M71.5,392v1M72.5,392v1M73.5,391v1M74.5,391v1M75.5,390v1M76.5,390v1M77.5,389v1M78.5,389v1M79.5,389v1M80.5,388v1M81.5,388v1M82.5,387v1M83.5,387v1M84.5,386v1M85.5,386v1M86.5,385v1M87.5,385v1M88.5,385v1M89.5,384v1M90.5,384v1M91.5,383v1M92.5,383v1M93.5,382v1M94.5,382v1M95.5,381v1M96.5,381v1M97.5,381v1M98.5,380v1M99.5,380v1M100.5,379v1M101.5,379v1M102.5,378v1M103.5,378v1M104.5,377v1M105.5,377v1M106.5,377v1M107.5,376v1M108.5,376v1M109.5,375v1M110.5,375v1M111.5,374v1M112.5,374v1M113.5,373v1M114.5,373v1M115.5,373v1M116.5,372v1M117.5,372v1M118.5,371v1M119.5,371v1M120.5,370v1M121.5,370v1M122.5,369v1M123.5,368v1M124.5,368v1M125.5,367v1M126.5,367v1M127.5,366v1M128.5,366v1M129.5,365v1M130.5,364v1M131.5,364v1M132.5,363v1M133.5,363v1M134.5,362v1M135.5,362v1M136.5,361v1M137.5,360v1M138.5,360v1M139.5,359v1M140.5,359v1M141.5,358v1M142.5,358v1M143.5,357v1M144.5,357v1M145.5,356v1M146.5,355v1M147.5,355v1M148.5,354v1M149.5,354v1M150.5,353v1M151.5,353v1M152.5,352v1M153.5,352v1M154.5,351v1M155.5,351v1M156.5,350v1M157.5,350v1M158.5,349v1M159.5,349v1M160.5,349v1M161.5,348v1M162.5,348v1M163.5,348v1M164.5,347v1M165.5,347v1M166.5,347v1M167.5,346v1M168.5,346v1M169.5,346v1M170.5,345v1M171.5,345v1M172.5,345v1M173.5,344v1M174.5,344v1M175.5,344v1M176.5,343v1M177.5,343v1M178.5,343v1M179.5,342v1M180.5,342v1M181.5,341v1M182.5,341v1M183.5,341v1M184.5,340v1M185.5,340v1M186.5,339v1M187.5,339v1M188.5,339v1M189.5,338v1M190.5,338v1M191.5,337v1M192.5,337v1M193.5,337v1M194.5,336v1M195.5,336v1M196.5,335v1M197.5,335v1M198.5,335v1M199.5,334v1M200.5,334v1M201.5,333v1M202.5,333v1M203.5,333v1M204.5,332v1M205.5,332v1M206.5,332v1M207.5,331v1M208.5,331v1M209.5,330v1M210.5,330v1M211.5,330v1M212.5,329v1M213.5,329v1M214.5,329v1M215.5,328v1M216.5,328v1M217.5,327v1M218.5,327v1M219.5,327v1M220.5,326v1M221.5,326v1M222.5,326v1M223.5,325v1M224.5,325v1M225.5,325v1M226.5,325v1M227.5,324v1M228.5,324v1M229.5,324v1M230.5,324v1M231.5,323v1M232.5,323v1M233.5,323v1M234.5,323v1M235.5,322v1M236.5,322v1M237.5,322v1M238.5,322v1M239.5,321v1M240.5,321v1M241.5,321v1M242.5,321v1M243.5,321v1M244.5,320v1M245.5,320v1M246.5,320v1M247.5,320v1M248.5,320v1M249.5,320v1M250.5,319v1M251.5,319v1M252.5,319v1M253.5,319v1M254.5,318v1M255.5,318v1M256.5,318v1M257.5,317v1M258.5,317v1M259.5,317v1M260.5,317v1M261.5,316v1M262.5,316v1M263.5,316v1M264.5,316v1M265.5,315v1M266.5,315v1M267.5,315v1M268.5,315v1M269.5,315v1M270.5,315v1M271.5,315v1M272.5,314v1M273.5,314v1M274.5,314v1M275.5,314v1M276.5,314v1M277.5,314v1M278.5,314v1M279.5,314v1M280.5,314v1M281.5,314v1M282.5,314v1M283.5,314v1M284.5,314v1M285.5,313v1M286.5,313v1M287.5,313v1M288.5,313v1M289.5,313v1M290.5,313v1M291.5,313v1M292.5,313v1M293.5,313v1M294.5,313v1M295.5,313v1M296.5,313v1M297.5,313v1M298.5,313v1M299.5,313v1M300.5,313v1M301.5,313v1M302.5,312v1M303.5,312v1M304.5,312v1M305.5,312v1M306.5,312v1M307.5,312v1M308.5,312v1M309.5,312v1M310.5,312v1M311.5,312v1M312.5,312v1M313.5,312v1M314.5,312v1M315.5,312v1M316.5,312v1M317.5,312v1M318.5,312v1M319.5,312v1M320.5,312v1M321.5,312v1M322.5,312v1M323.5,312v1M324.5,312v1M325.5,312v1M326.5,312v1M327.5,312v1M328.5,312v1M329.5,312v1M330.5,312v1M331.5,311v1M332.5,311v1M333.5,311v1M334.5,311v1M335.5,311v1M336.5,311v1M337.5,311v1M338.5,311v1M339.5,311v1M340.5,311v1M341.5,311v1M342.5,311v1M343.5,311v1M344.5,311v1M345.5,311v1M346.5,311v1M347.5,311v1M348.5,311v1M349.5,311v1M350.5,311v1M351.5,311v1M352.5,311v1M353.5,311v1M354.5,311v1M355.5,311v1M356.5,311v1M357.5,311v1M358.5,311v1M359.5,311v1M360.5,311v1M361.5,311v1M362.5,311v1M363.5,311v1M364.5,311v1M365.5,311v1M366.5,311v1M367.5,311v1M368.5,311v1M369.5,311v1M370.5,311v1M371.5,311v1M372.5,311v1M373.5,311v1M374.5,311v1M375.5,311v1M376.5,311v1M377.5,311v1M378.5,312v1M379.5,312v1M380.5,312v1M381.5,312v1M382.5,312v1M383.5,312v1M384.5,313v1M385.5,313v1M386.5,313v1M387.5,313v1M388.5,313v1M389.5,314v1M390.5,314v1M391.5,314v1M392.5,314v1M393.5,314v1M394.5,314v1M395.5,314v1M396.5,314v1M397.5,314v1M398.5,314v1M399.5,314v1M400.5,314v1M401.5,314v1M402.5,314v1M403.5,314v1M404.5,314v1M405.5,314v1M406.5,314v1M407.5,314v1M408.5,314v1M409.5,314v1M410.5,314v1M411.5,314v1M412.5,314v1M413.5,314v1M414.5,314v1M415.5,314v1M416.5,314v1M417.5,314v1M418.5,314v1M419.5,314v1M420.5,314v1M421.5,314v1M422.5,314v1M423.5,315v1M424.5,315v1M425.5,315v1M426.5,315v1M427.5,315v1M428.5,315v1M429.5,315v1M430.5,316v1M431.5,316v1M432.5,316v1M433.5,316v1M434.5,316v1M435.5,316v1M436.5,316v1M437.5,317v1M438.5,317v1M439.5,317v1M440.5,317v1M441.5,317v1M442.5,317v1M443.5,318v1M444.5,318v1M445.5,318v1M446.5,318v1M447.5,318v1M448.5,318v1M449.5,319v1M450.5,319v1M451.5,319v1M452.5,319v1M453.5,319v1M454.5,319v1M455.5,320v1M456.5,320v1M457.5,320v1M458.5,320v1M459.5,320v1M460.5,321v1M461.5,321v1M462.5,321v1M463.5,321v1M464.5,321v1M465.5,321v1M466.5,322v1M467.5,322v1M468.5,322v1M469.5,322v1M470.5,322v1M471.5,322v1M472.5,322v1M473.5,322v1M474.5,322v1M475.5,322v1M476.5,322v1M477.5,322v1M478.5,322v1M479.5,322v1M480.5,322v1M481.5,322v1M482.5,322v1M483.5,322v1M484.5,322v1M485.5,322v1M486.5,322v1M487.5,322v1M488.5,322v1M489.5,322v1M490.5,322v1M491.5,322v1M492.5,322v1M493.5,322v1M494.5,322v1M495.5,322v1M496.5,322v1M497.5,322v1M498.5,322v1M499.5,322v1M500.5,322v1M501.5,322v1M502.5,322v1M503.5,322v1M504.5,322v1M505.5,322v1M506.5,322v1M507.5,322v1M508.5,322v1M509.5,322v1M510.5,322v1M511.5,322v1M512.5,322v1M513.5,322v1M514.5,322v1M515.5,322v1M516.5,321v1M517.5,321v1M518.5,321v1M519.5,320v1M520.5,320v1M521.5,320v1M522.5,320v1M523.5,319v1M524.5,319v1M525.5,319v1M526.5,319v1M527.5,318v1M528.5,318v1M529.5,318v1M530.5,318v1M531.5,317v1M532.5,317v1M533.5,317v1M534.5,317v1M535.5,316v1M536.5,316v1M537.5,316v1M538.5,316v1M539.5,316v1M540.5,315v1M541.5,315v1M542.5,315v1M543.5,315v1M544.5,314v1M545.5,314v1M546.5,314v1M547.5,314v1M548.5,313v1M549.5,313v1M550.5,313v1M551.5,313v1M552.5,312v1M553.5,312v1M554.5,312v1M555.5,312v1M556.5,312v1M557.5,311v1M558.5,311v1M559.5,311v1M560.5,311v1M561.5,310v1M562.5,310v1M563.5,310v1M564.5,310v1M565.5,310v1M566.5,309v1M567.5,309v1M568.5,309v1M569.5,309v1M570.5,309v1M571.5,308v1M572.5,308v1M573.5,308v1M574.5,308v1M575.5,308v1M576.5,307v1M577.5,307v1M578.5,307v1M579.5,307v1M580.5,307v1M581.5,307v1M582.5,306v1M583.5,306v1M584.5,306v1M585.5,306v1M586.5,306v1M587.5,306v1M588.5,305v1M589.5,305v1M590.5,305v1M591.5,305v1M592.5,305v1M593.5,305v1M594.5,305v1M595.5,304v1M596.5,304v1M597.5,304v1M598.5,304v1M599.5,304v1M600.5,304v1M601.5,303v1M602.5,303v1M603.5,303v1M604.5,303v1M605.5,302v1M606.5,302v1M607.5,302v1M608.5,302v1M609.5,301v1M610.5,301v1M611.5,301v1M612.5,301v1M613.5,300v1M614.5,300v1M615.5,300v1M616.5,300v1M617.5,299v1M618.5,299v1M619.5,299v1M620.5,298v1M621.5,298v1M622.5,298v1M623.5,298v1M624.5,297v1M625.5,297v1M626.5,297v1M627.5,296v1M628.5,296v1M629.5,296v1M630.5,295v1M631.5,295v1M632.5,295v1M633.5,294v1M634.5,294v1M635.5,293v1M636.5,293v1M637.5,292v1M638.5,292v1M639.5,291v1M640.5,291v1M641.5,290v1M642.5,290v1M643.5,289v1M644.5,289v1M645.5,288v1M646.5,288v1M647.5,287v1M648.5,287v1M649.5,286v1M650.5,286v1M651.5,285v1M652.5,285v1M653.5,284v1M654.5,284v1M655.5,283v1M656.5,283v1M657.5,282v1M658.5,282v1M659.5,281v1M660.5,281v1M661.5,280v1M662.5,280v1M663.5,279v1M664.5,279v1M665.5,278v1M666.5,277v1M667.5,277v1M668.5,276v1M669.5,276v1M670.5,275v1M671.5,274v1M672.5,274v1M673.5,273v1M674.5,273v1M675.5,272v1M676.5,272v1M677.5,271v1M678.5,271v1M679.5,270v1M680.5,270v1M681.5,269v1M682.5,269v1M683.5,268v1M684.5,268v1M685.5,267v1M686.5,267v1M687.5,266v1M688.5,266v1M689.5,266v1M690.5,265v1M691.5,265v1M692.5,264v1M693.5,264v1M694.5,263v1M695.5,263v1M696.5,262v1M697.5,262v1M698.5,261v1M699.5,261v1M700.5,261v1M701.5,260v1M702.5,260v1M703.5,259v1M704.5,259v1M705.5,258v1M706.5,258v1M707.5,258v1M708.5,257v1M709.5,257v1M710.5,257v1M711.5,256v1M712.5,256v1M713.5,256v1M714.5,255v1M715.5,255v1M716.5,255v1M717.5,254v1M718.5,254v1M719.5,254v1M720.5,253v1M721.5,253v1M722.5,253v1M723.5,252v1M724.5,252v1M725.5,251v1M726.5,251v1M727.5,251v1M728.5,250v1M729.5,250v1M730.5,249v1M731.5,249v1M732.5,249v1M733.5,248v1M734.5,248v1M735.5,247v1M736.5,247v1M737.5,247v1M738.5,247v1M739.5,246v1M740.5,246v1M741.5,246v1M742.5,246v1M743.5,246v1M744.5,245v1M745.5,245v1M746.5,245v1M747.5,245v1M748.5,244v1M749.5,244v1M750.5,244v1M751.5,244v1M752.5,244v1M753.5,243v1M754.5,243v1M755.5,243v1M756.5,243v1M757.5,242v1M758.5,242v1M759.5,242v1M760.5,242v1M761.5,242v1M762.5,241v1M763.5,241v1M764.5,241v1M765.5,241v1M766.5,240v1M767.5,240v1M768.5,240v1M769.5,240v1M770.5,240v1M771.5,239v1M772.5,239v1M773.5,239v1M774.5,239v1M775.5,239v1M776.5,238v1M777.5,238v1M778.5,238v1M779.5,238v1M780.5,238v1M781.5,237v1M782.5,237v1M783.5,237v1M784.5,237v1M785.5,236v1M786.5,236v1M787.5,236v1M788.5,236v1M789.5,236v1M790.5,235v1M791.5,235v1M792.5,235v1M793.5,235v1M794.5,235v1M795.5,235v1M796.5,234v1M797.5,234v1M798.5,234v1M799.5,234v1M800.5,234v1M801.5,234v1M802.5,233v1M803.5,233v1M804.5,233v1M805.5,233v1M806.5,233v1M807.5,233v1M808.5,233v1M809.5,233v1M810.5,233v1M811.5,233v1M812.5,233v1M813.5,233v1M814.5,232v1M815.5,232v1M816.5,232v1M817.5,232v1M818.5,232v1M819.5,232v1M820.5,232v1M821.5,232v1M822.5,232v1M823.5,232v1M824.5,232v1M825.5,232v1M826.5,232v1M827.5,232v1M828.5,232v1M829.5,232v1M830.5,232v1M831.5,232v1M832.5,232v1M833.5,232v1M834.5,232v1M835.5,232v1M836.5,232v1M837.5,232v1M838.5,232v1M839.5,232v1M840.5,233v1M841.5,233v1M842.5,233v1M843.5,233v1M844.5,233v1M845.5,234v1M846.5,234v1M847.5,234v1M848.5,234v1M849.5,234v1M850.5,234v1M851.5,234v1M852.5,233v1M853.5,233v1M854.5,233v1M855.5,233v1M856.5,233v1M857.5,233v1M858.5,232v1M859.5,232v1M860.5,232v1M861.5,232v1M862.5,231v1M863.5,231v1M864.5,231v1M865.5,230v1M866.5,230v1M867.5,230v1M868.5,230v1M869.5,229v1M870.5,229v1M871.5,229v1M872.5,229v1M873.5,229v1M874.5,229v1M875.5,228v1M876.5,228v1M877.5,228v1M878.5,228v1M879.5,228v1M880.5,228v1M881.5,228v1M882.5,228v1M883.5,228v1M884.5,228v1M885.5,228v1M886.5,228v1M887.5,228v1M888.5,228v1M889.5,228v1M890.5,228v1M891.5,228v1M892.5,228v1M893.5,228v1M894.5,228v1M895.5,228v1" fill="none" stroke="#0000ff" stroke-width="1"/>
<path d="M0.5,362v1M1.5,362v1M2.5,362v1M3.5,362v1M4.5,362v1M5.5,362v1M6.5,362v1M7.5,362v1M8.5,362v1M9.5,362v1M10.5,362v1M11.5,361v1M12.5,361v1M13.5,361v1M14.5,361v1M15.5,360v1M16.5,360v1M17.5,360v1M18.5,360v1M19.5,359v1M20.5,359v1M21.5,359v1M22.5,358v1M23.5,358v1M24.5,358v1M25.5,358v1M26.5,358v1M27.5,358v1M28.5,358v1M29.5,358v1M30.5,357v1M31.5,356v1M32.5,356v1M33.5,355v1M34.5,354v1M35.5,354v1M36.5,353v1M37.5,353v1M38.5,352v1M39.5,351v1M40.5,351v1M41.5,350v1M42.5,349v1M43.5,349v1M44.5,348v1M45.5,348v1M46.5,347v1M47.5,347v1M48.5,346v1M49.5,346v1M50.5,345v1M51.5,345v1M52.5,344v1M53.5,344v1M54.5,343v1M55.5,343v1M56.5,342v1M57.5,341v1M58.5,340v1M59.5,339v1M60.5,339v1M61.5,338v1M62.5,337v1M63.5,335v2M64.5,334v1M65.5,333v1M66.5,332v1M67.5,331v1M68.5,330v1M69.5,329v1M70.5,327v2M71.5,326v1M72.5,325v1M73.5,324v1M74.5,323v1M75.5,322v1M76.5,320v2M77.5,319v1M78.5,318v1M79.5,317v1M80.5,316v1M81.5,315v1M82.5,314v1M83.5,313v1M84.5,312v1M85.5,312v1M86.5,311v1M87.5,310v1M88.5,309v1M89.5,309v1M90.5,308v1M91.5,307v1M92.5,306v1M93.5,305v1M94.5,304v1M95.5,303v1M96.5,301v2M97.5,300v1M98.5,299v1M99.5,298v1M100.5,297v1M101.5,296v1M102.5,295v1M103.5,294v1M104.5,293v1M105.5,292v1M106.5,291v1M107.5,290v1M108.5,289v1M109.5,288v1M110.5,287v1M111.5,286v1M112.5,284v2M113.5,283v1M114.5,282v1M115.5,281v1M116.5,279v2M117.5,278v1M118.5,276v2M119.5,274v2M120.5,272v2M121.5,270v2M122.5,268v2M123.5,267v1M124.5,266v1M125.5,264v2M126.5,263v1M127.5,262v1M128.5,261v1M129.5,260v1M130.5,258v2M131.5,257v1M132.5,256v1M133.5,255v1M134.5,254v1M135.5,253v1M136.5,252v1M137.5,252v1M138.5,251v1M139.5,250v1M140.5,249v1M141.5,248v1M142.5,247v1M143.5,247v1M144.5,246v1M145.5,245v1M146.5,245v1M147.5,244v1M148.5,243v1M149.5,242v1M150.5,241v1M151.5,240v1M152.5,239v1M153.5,238v1M154.5,237v1M155.5,236v1M156.5,235v1M157.5,234v1M158.5,233v1M159.5,233v1M160.5,232v1M161.5,232v1M162.5,232v1M163.5,232v1M164.5,232v1M165.5,232v1M166.5,232v1M167.5,231v1M168.5,231v1M169.5,230v1M170.5,230v1M171.5,229v1M172.5,229v1M173.5,228v1M174.5,228v1M175.5,227v1M176.5,227v1M177.5,227v1M178.5,227v1M179.5,227v1M180.5,227v1M181.5,226v1M182.5,226v1M183.5,226v1M184.5,225v1M185.5,225v1M186.5,225v1M187.5,224v1M188.5,224v1M189.5,224v1M190.5,223v1M191.5,223v1M192.5,223v1M193.5,222v1M194.5,222v1M195.5,221v1M196.5,221v1M197.5,221v1M198.5,220v1M199.5,220v1M200.5,219v1M201.5,219v1M202.5,219v1M203.5,218v1M204.5,218v1M205.5,218v1M206.5,217v1M207.5,217v1M208.5,217v1M209.5,216v1M210.5,216v1M211.5,216v1M212.5,216v1M213.5,216v1M214.5,216v1M215.5,216v1M216.5,216v1M217.5,216v1M218.5,215v1M219.5,215v1M220.5,215v1M221.5,215v1M222.5,215v1M223.5,215v1M224.5,215v1M225.5,215v1M226.5,215v1M227.5,215v1M228.5,215v1M229.5,215v1M230.5,215v1M231.5,215v1M232.5,215v1M233.5,215v1M234.5,215v1M235.5,215v1M236.5,215v1M237.5,215v1M238.5,215v1M239.5,214v1M240.5,214v1M241.5,214v1M242.5,214v1M243.5,214v1M244.5,214v1M245.5,214v1M246.5,214v1M247.5,214v1M248.5,215v1M249.5,215v1M250.5,215v1M251.5,215v1M252.5,215v1M253.5,216v1M254.5,216v1M255.5,216v1M256.5,216v1M257.5,216v1M258.5,216v1M259.5,216v1M260.5,216v1M261.5,216v1M262.5,217v1M263.5,217v1M264.5,217v1M265.5,217v1M266.5,217v1M267.5,217v1M268.5,218v1M269.5,218v1M270.5,219v1M271.5,219v1M272.5,219v1M273.5,220v1M274.5,220v1M275.5,221v1M276.5,221v1M277.5,222v1M278.5,223v1M279.5,223v1M280.5,224v1M281.5,225v1M282.5,225v1M283.5,226v1M284.5,226v1M285.5,227v1M286.5,228v1M287.5,228v1M288.5,229v1M289.5,229v1M290.5,230v1M291.5,230v1M292.5,231v1M293.5,232v1M294.5,232v1M295.5,233v1M296.5,233v1M297.5,234v1M298.5,234v1M299.5,235v1M300.5,235v1M301.5,235v1M302.5,236v1M303.5,236v1M304.5,237v1M305.5,238v1M306.5,239v1M307.5,239v1M308.5,240v1M309.5,241v1M310.5,242v1M311.5,242v1M312.5,243v1M313.5,244v1M314.5,244v1M315.5,245v1M316.5,246v1M317.5,246v1M318.5,247v1M319.5,248v1M320.5,248v1M321.5,249v1M322.5,249v1M323.5,250v1M324.5,250v1M325.5,250v1M326.5,251v1M327.5,251v1M328.5,251v1M329.5,252v1M330.5,252v1M331.5,252v1M332.5,253v1M333.5,253v1M334.5,253v1M335.5,254v1M336.5,254v1M337.5,255v1M338.5,255v1M339.5,256v1M340.5,256v1M341.5,257v1M342.5,257v1M343.5,258v1M344.5,258v1M345.5,259v1M346.5,259v1M347.5,259v1M348.5,259v1M349.5,259v1M350.5,260v1M351.5,260v1M352.5,261v1M353.5,261v1M354.5,262v1M355.5,262v1M356.5,262v1M357.5,263v1M358.5,263v1M359.5,264v1M360.5,264v1M361.5,265v1M362.5,265v1M363.5,266v1M364.5,266v1M365.5,267v1M366.5,268v1M367.5,268v1M368.5,269v1M369.5,269v1M370.5,270v1M371.5,271v1M372.5,271v1M373.5,272v1M374.5,273v1M375.5,274v1M376.5,274v1M377.5,275v1M378.5,276v1M379.5,277v1M380.5,277v1M381.5,278v1M382.5,279v1M383.5,279v1M384.5,280v1M385.5,281v1M386.5,281v1M387.5,282v1M388.5,283v1M389.5,284v1M390.5,284v1M391.5,285v1M392.5,286v1M393.5,286v1M394.5,287v1M395.5,287v1M396.5,288v1M397.5,288v1M398.5,288v1M399.5,289v1M400.5,289v1M401.5,290v1M402.5,290v1M403.5,291v1M404.5,291v1M405.5,291v1M406.5,292v1M407.5,292v1M408.5,292v1M409.5,293v1M410.5,293v1M411.5,293v1M412.5,294v1M413.5,294v1M414.5,295v1M415.5,295v1M416.5,295v1M417.5,296v1M418.5,296v1M419.5,297v1M420.5,297v1M421.5,298v1M422.5,298v1M423.5,299v1M424.5,299v1M425.5,300v1M426.5,300v1M427.5,301v1M428.5,301v1M429.5,302v1M430.5,302v1M431.5,303v1M432.5,304v1M433.5,304v1M434.5,305v1M435.5,305v1M436.5,306v1M437.5,306v1M438.5,307v1M439.5,307v1M440.5,308v1M441.5,309v1M442.5,309v1M443.5,310v1M444.5,311v1M445.5,312v1M446.5,312v1M447.5,313v1M448.5,314v1M449.5,315v1M450.5,316v1M451.5,316v1M452.5,317v1M453.5,318v1M454.5,319v1M455.5,319v1M456.5,320v1M457.5,321v1M458.5,322v1M459.5,322v1M460.5,323v1M461.5,324v1M462.5,325v1M463.5,325v1M464.5,326v1M465.5,326v1M466.5,327v1M467.5,327v1M468.5,327v1M469.5,328v1M470.5,328v1M471.5,329v1M472.5,329v1M473.5,329v1M474.5,329v1M475.5,329v1M476.5,329v1M477.5,329v1M478.5,329v1M479.5,329v1M480.5,329v1M481.5,329v1M482.5,329v1M483.5,328v1M484.5,328v1M485.5,328v1M486.5,328v1M487.5,328v1M488.5,328v1M489.5,328v1M490.5,327v1M491.5,327v1M492.5,327v1M493.5,327v1M494.5,327v1M495.5,327v1M496.5,327v1M497.5,327v1M498.5,327v1M499.5,327v1M500.5,327v1M501.5,327v1M502.5,327v1M503.5,327v1M504.5,327v1M505.5,326v1M506.5,326v1M507.5,326v1M508.5,326v1M509.5,326v1M510.5,326v1M511.5,326v1M512.5,326v1M513.5,325v1M514.5,325v1M515.5,324v1M516.5,323v1M517.5,322v1M518.5,321v1M519.5,321v1M520.5,320v1M521.5,319v1M522.5,318v1M523.5,317v1M524.5,316v1M525.5,315v1M526.5,314v1M527.5,313v1M528.5,312v1M529.5,311v1M530.5,310v1M531.5,309v1M532.5,308v1M533.5,308v1M534.5,307v1M535.5,306v1M536.5,305v1M537.5,304v1M538.5,304v1M539.5,303v1M540.5,302v1M541.5,301v1M542.5,300v1M543.5,299v1M544.5,299v1M545.5,298v1M546.5,297v1M547.5,296v1M548.5,295v1M549.5,295v1M550.5,294v1M551.5,294v1M552.5,293v1M553.5,293v1M554.5,292v1M555.5,292v1M556.5,291v1M557.5,291v1M558.5,290v1M559.5,289v1M560.5,288v1M561.5,287v1M562.5,287v1M563.5,286v1M564.5,285v1M565.5,284v1M566.5,284v1M567.5,283v1M568.5,283v1M569.5,282v1M570.5,282v1M571.5,281v1M572.5,281v1M573.5,280v1M574.5,280v1M575.5,279v1M576.5,279v1M577.5,279v1M578.5,279v1M579.5,278v1M580.5,278v1M581.5,278v1M582.5,278v1M583.5,278v1M584.5,277v1M585.5,277v1M586.5,277v1M587.5,277v1M588.5,276v1M589.5,276v1M590.5,275v1M591.5,274v1M592.5,273v1M593.5,273v1M594.5,272v1M595.5,272v1M596.5,271v1M597.5,271v1M598.5,271v1M599.5,270v1M600.5,270v1M601.5,269v1M602.5,269v1M603.5,268v1M604.5,268v1M605.5,267v1M606.5,267v1M607.5,266v1M608.5,266v1M609.5,266v1M610.5,265v1M611.5,265v1M612.5,264v1M613.5,264v1M614.5,263v1M615.5,262v1M616.5,261v1M617.5,260v1M618.5,260v1M619.5,259v1M620.5,258v1M621.5,257v1M622.5,256v1M623.5,255v1M624.5,254v1M625.5,254v1M626.5,253v1M627.5,252v1M628.5,251v1M629.5,250v1M630.5,249v1M631.5,248v1M632.5,247v1M633.5,246v1M634.5,245v1M635.5,244v1M636.5,243v1M637.5,241v2M638.5,240v1M639.5,239v1M640.5,237v2M641.5,236v1M642.5,234v2M643.5,233v1M644.5,232v1M645.5,230v2M646.5,229v1M647.5,227v2M648.5,226v1M649.5,225v1M650.5,223v2M651.5,222v1M652.5,221v1M653.5,219v2M654.5,218v1M655.5,217v1M656.5,215v2M657.5,214v1M658.5,212v2M659.5,211v1M660.5,209v2M661.5,208v1M662.5,206v2M663.5,205v1M664.5,203v2M665.5,202v1M666.5,200v2M667.5,199v1M668.5,198v1M669.5,196v2M670.5,195v1M671.5,194v1M672.5,192v2M673.5,191v1M674.5,189v2M675.5,188v1M676.5,187v1M677.5,185v2M678.5,184v1M679.5,182v2M680.5,181v1M681.5,180v1M682.5,179v1M683.5,178v1M684.5,177v1M685.5,176v1M686.5,175v1M687.5,174v1M688.5,173v1M689.5,172v1M690.5,171v1M691.5,170v1M692.5,169v1M693.5,168v1M694.5,168v1M695.5,167v1M696.5,166v1M697.5,165v1M698.5,164v1M699.5,164v1M700.5,163v1M701.5,163v1M702.5,162v1M703.5,161v1M704.5,161v1M705.5,160v1M706.5,160v1M707.5,159v1M708.5,159v1M709.5,158v1M710.5,158v1M711.5,158v1M712.5,157v1M713.5,157v1M714.5,156v1M715.5,156v1M716.5,155v1M717.5,155v1M718.5,154v1M719.5,154v1M720.5,153v1M721.5,153v1M722.5,152v1M723.5,152v1M724.5,152v1M725.5,151v1M726.5,151v1M727.5,150v1M728.5,150v1M729.5,150v1M730.5,149v1M731.5,149v1M732.5,149v1M733.5,149v1M734.5,149v1M735.5,149v1M736.5,149v1M737.5,149v1M738.5,148v1M739.5,148v1M740.5,148v1M741.5,148v1M742.5,148v1M743.5,148v1M744.5,148v1M745.5,148v1M746.5,148v1M747.5,149v1M748.5,149v1M749.5,149v1M750.5,149v1M751.5,149v1M752.5,149v1M753.5,149v1M754.5,149v1M755.5,149v1M756.5,149v1M757.5,149v1M758.5,149v1M759.5,149v1M760.5,150v1M761.5,150v1M762.5,150v1M763.5,150v1M764.5,150v1M765.5,150v1M766.5,150v1M767.5,150v1M768.5,151v1M769.5,151v1M770.5,151v1M771.5,151v1M772.5,151v1M773.5,151v1M774.5,151v1M775.5,151v1M776.5,152v1M777.5,152v1M778.5,152v1M779.5,152v1M780.5,152v1M781.5,152v1M782.5,152v1M783.5,152v1M784.5,152v1M785.5,152v1M786.5,152v1M787.5,152v1M788.5,152v1M789.5,152v1M790.5,152v1M791.5,152v1M792.5,152v1M793.5,152v1M794.5,152v1M795.5,151v1M796.5,151v1M797.5,151v1M798.5,151v1M799.5,151v1M800.5,151v1M801.5,151v1M802.5,152v1M803.5,152v1M804.5,152v1M805.5,152v1M806.5,152v1M807.5,153v1M808.5,153v1M809.5,153v1M810.5,154v1M811.5,154v1M812.5,155v1M813.5,155v1M814.5,155v1M815.5,156v1M816.5,156v1M817.5,157v1M818.5,157v1M819.5,158v1M820.5,158v1M821.5,159v1M822.5,159v1M823.5,160v1M824.5,160v1M825.5,161v1M826.5,161v1M827.5,162v1M828.5,162v1M829.5,163v1M830.5,164v1M831.5,165v1M832.5,166v1M833.5,167v1M834.5,168v1M835.5,169v1M836.5,170v1M837.5,170v1M838.5,171v1M839.5,172v1M840.5,173v1M841.5,174v1M842.5,175v1M843.5,176v1M844.5,177v1M845.5,178v1M846.5,179v1M847.5,180v1M848.5,180v1M849.5,181v1M850.5,181v1M851.5,181v1M852.5,182v1M853.5,182v1M854.5,182v1M855.5,182v1M856.5,182v1M857.5,182v1M858.5,182v1M859.5,181v1M860.5,181v1M861.5,181v1M862.5,180v1M863.5,180v1M864.5,179v1M865.5,179v1M866.5,178v1M867.5,177v1M868.5,177v1M869.5,176v1M870.5,176v1M871.5,175v1M872.5,174v1M873.5,174v1M874.5,174v1M875.5,175v1M876.5,175v1M877.5,176v1M878.5,176v1M879.5,176v1M880.5,177v1M881.5,177v1M882.5,177v1M883.5,178v1M884.5,178v1M885.5,178v1M886.5,179v1M887.5,179v1M888.5,179v1M889.5,180v1M890.5,180v1M891.5,180v1M892.5,181v1M893.5,181v1M894.5,181v1M895.5,181v1M896.5,181v1" fill="none" stroke="#000" stroke-width="1"/>
<rect x="100" y="105" width="844" height="14" fill="#00bfff"/>
<clipPath id="bandclip"><rect x="100" y="105" width="844" height="14"/></clipPath>
<g clip-path="url(#bandclip)"><rect x="0" y="1" width="1" height="2" fill="#ff4000"/><rect x="0" y="6" width="1" height="3" fill="#ff4000"/><rect x="0" y="12" width="1" height="3" fill="#ff4000"/><rect x="0" y="18" width="1" height="3" fill="#ff4000"/><rect x="0" y="24" width="1" height="3" fill="#ff4000"/><rect x="0" y="30" width="1" height="3" fill="#ff4000"/><rect x="0" y="36" width="1" height="3" fill="#ff4000"/><rect x="0" y="42" width="1" height="3" fill="#ff4000"/><rect x="0" y="48" width="1" height="3" fill="#ff4000"/><rect x="0" y="54" width="1" height="3" fill="#ff4000"/><rect x="0" y="60" width="1" height="3" fill="#ff4000"/><rect x="0" y="66" width="1" height="3" fill="#ff4000"/><rect x="0" y="72" width="1" height="3" fill="#ff4000"/><rect x="0" y="78" width="1" height="3" fill="#ff4000"/><rect x="0" y="84" width="1" height="3" fill="#ff4000"/><rect x="0" y="90" width="1" height="3" fill="#ff4000"/><rect x="0" y="96" width="1" height="3" fill="#ff4000"/><rect x="0" y="102" width="1" height="3" fill="#ff4000"/><rect x="0" y="108" width="1" height="3" fill="#ff4000"/><rect x="0" y="114" width="1" height="3" fill="#ff4000"/><rect x="0" y="120" width="1" height="3" fill="#ff4000"/><rect x="0" y="126" width="1" height="3" fill="#ff4000"/><rect x="0" y="132" width="1" height="3" fill="#ff4000"/><rect x="0" y="138" width="1" height="3" fill="#ff4000"/><rect x="0" y="144" width="1" height="3" fill="#ff4000"/><rect x="0" y="150" width="1" height="3" fill="#ff4000"/><rect x="0" y="156" width="1" height="3" fill="#ff4000"/><rect x="0" y="162" width="1" height="3" fill="#ff4000"/><rect x="0" y="168" width="1" height="3" fill="#ff4000"/><rect x="0" y="174" width="1" height="3" fill="#ff4000"/><rect x="0" y="180" width="1" height="3" fill="#ff4000"/><rect x="0" y="186" width="1" height="3" fill="#ff4000"/><rect x="0" y="192" width="1" height="3" fill="#ff4000"/><rect x="0" y="198" width="1" height="3" fill="#ff4000"/><rect x="0" y="204" width="1" height="3" fill="#ff4000"/><rect x="0" y="210" width="1" height="3" fill="#ff4000"/><rect x="0" y="216" width="1" height="3" fill="#ff4000"/><rect x="0" y="222" width="1" height="3" fill="#ff4000"/><rect x="0" y="228" width="1" height="3" fill="#ff4000"/><rect x="0" y="234" width="1" height="3" fill="#ff4000"/><rect x="0" y="240" width="1" height="3" fill="#ff4000"/><rect x="0" y="246" width="1" height="3" fill="#ff4000"/><rect x="0" y="252" width="1" height="3" fill="#ff4000"/><rect x="0" y="258" width="1" height="3" fill="#ff4000"/><rect x="0" y="264" width="1" height="3" fill="#ff4000"/><rect x="0" y="270" width="1" height="3" fill="#ff4000"/><rect x="0" y="276" width="1" height="3" fill="#ff4000"/><rect x="0" y="282" width="1" height="3" fill="#ff4000"/><rect x="0" y="288" width="1" height="3" fill="#ff4000"/><rect x="0" y="294" width="1" height="3" fill="#ff4000"/><rect x="0" y="300" width="1" height="3" fill="#ff4000"/><rect x="0" y="306" width="1" height="3" fill="#ff4000"/><rect x="0" y="312" width="1" height="3" fill="#ff4000"/><rect x="0" y="318" width="1" height="3" fill="#ff4000"/><rect x="0" y="324" width="1" height="3" fill="#ff4000"/><rect x="0" y="330" width="1" height="3" fill="#ff4000"/><rect x="0" y="336" width="1" height="3" fill="#ff4000"/><rect x="0" y="342" width="1" height="3" fill="#ff4000"/><rect x="0" y="348" width="1" height="3" fill="#ff4000"/><rect x="0" y="354" width="1" height="3" fill="#ff4000"/><rect x="0" y="360" width="1" height="3" fill="#ff4000"/><rect x="0" y="366" width="1" height="3" fill="#ff4000"/><rect x="0" y="372" width="1" height="3" fill="#ff4000"/><rect x="0" y="378" width="1" height="3" fill="#ff4000"/><rect x="0" y="384" width="1" height="3" fill="#ff4000"/><rect x="0" y="390" width="1" height="3" fill="#ff4000"/><rect x="0" y="396" width="1" height="3" fill="#ff4000"/><rect x="0" y="402" width="1" height="3" fill="#ff4000"/><rect x="0" y="408" width="1" height="3" fill="#ff4000"/><rect x="0" y="414" width="1" height="3" fill="#ff4000"/><rect x="0" y="420" width="1" height="3" fill="#ff4000"/><rect x="0" y="426" width="1" height="3" fill="#ff4000"/><rect x="0" y="432" width="1" height="2" fill="#ff4000"/><rect x="120" y="1" width="1" height="2" fill="#ff4000"/><rect x="120" y="6" width="1" height="3" fill="#ff4000"/><rect x="120" y="12" width="1" height="3" fill="#ff4000"/><rect x="120" y="18" width="1" height="3" fill="#ff4000"/><rect x="120" y="24" width="1" height="3" fill="#ff4000"/><rect x="120" y="30" width="1" height="3" fill="#ff4000"/><rect x="120" y="36" width="1" height="3" fill="#ff4000"/><rect x="120" y="42" width="1" height="3" fill="#ff4000"/><rect x="120" y="48" width="1" height="3" fill="#ff4000"/><rect x="120" y="54" width="1" height="3" fill="#ff4000"/><rect x="120" y="60" width="1" height="3" fill="#ff4000"/><rect x="120" y="66" width="1" height="3" fill="#ff4000"/><rect x="120" y="72" width="1" height="3" fill="#ff4000"/><rect x="120" y="78" width="1" height="3" fill="#ff4000"/><rect x="120" y="84" width="1" height="3" fill="#ff4000"/><rect x="120" y="90" width="1" height="3" fill="#ff4000"/><rect x="120" y="96" width="1" height="3" fill="#ff4000"/><rect x="120" y="102" width="1" height="3" fill="#ff4000"/><rect x="120" y="108" width="1" height="3" fill="#ff4000"/><rect x="120" y="114" width="1" height="3" fill="#ff4000"/><rect x="120" y="120" width="1" height="3" fill="#ff4000"/><rect x="120" y="126" width="1" height="3" fill="#ff4000"/><rect x="120" y="132" width="1" height="3" fill="#ff4000"/><rect x="120" y="138" width="1" height="3" fill="#ff4000"/><rect x="120" y="144" width="1" height="3" fill="#ff4000"/><rect x="120" y="150" width="1" height="3" fill="#ff4000"/><rect x="120" y="156" width="1" height="3" fill="#ff4000"/><rect x="120" y="162" width="1" height="3" fill="#ff4000"/><rect x="120" y="168" width="1" height="3" fill="#ff4000"/><rect x="120" y="174" width="1" height="3" fill="#ff4000"/><rect x="120" y="180" width="1" height="3" fill="#ff4000"/><rect x="120" y="186" width="1" height="3" fill="#ff4000"/><rect x="120" y="192" width="1" height="3" fill="#ff4000"/><rect x="120" y="198" width="1" height="3" fill="#ff4000"/><rect x="120" y="204" width="1" height="3" fill="#ff4000"/><rect x="120" y="210" width="1" height="3" fill="#ff4000"/><rect x="120" y="216" width="1" height="3" fill="#ff4000"/><rect x="120" y="222" width="1" height="3" fill="#ff4000"/><rect x="120" y="228" width="1" height="3" fill="#ff4000"/><rect x="120" y="234" width="1" height="3" fill="#ff4000"/><rect x="120" y="240" width="1" height="3" fill="#ff4000"/><rect x="120" y="246" width="1" height="3" fill="#ff4000"/><rect x="120" y="252" width="1" height="3" fill="#ff4000"/><rect x="120" y="258" width="1" height="3" fill="#ff4000"/><rect x="120" y="264" width="1" height="3" fill="#ff4000"/><rect x="120" y="270" width="1" height="3" fill="#ff4000"/><rect x="120" y="276" width="1" height="3" fill="#ff4000"/><rect x="120" y="282" width="1" height="3" fill="#ff4000"/><rect x="120" y="288" width="1" height="3" fill="#ff4000"/><rect x="120" y="294" width="1" height="3" fill="#ff4000"/><rect x="120" y="300" width="1" height="3" fill="#ff4000"/><rect x="120" y="306" width="1" height="3" fill="#ff4000"/><rect x="120" y="312" width="1" height="3" fill="#ff4000"/><rect x="120" y="318" width="1" height="3" fill="#ff4000"/><rect x="120" y="324" width="1" height="3" fill="#ff4000"/><rect x="120" y="330" width="1" height="3" fill="#ff4000"/><rect x="120" y="336" width="1" height="3" fill="#ff4000"/><rect x="120" y="342" width="1" height="3" fill="#ff4000"/><rect x="120" y="348" width="1" height="3" fill="#ff4000"/><rect x="120" y="354" width="1" height="3" fill="#ff4000"/><rect x="120" y="360" width="1" height="3" fill="#ff4000"/><rect x="120" y="366" width="1" height="3" fill="#ff4000"/><rect x="120" y="372" width="1" height="3" fill="#ff4000"/><rect x="120" y="378" width="1" height="3" fill="#ff4000"/><rect x="120" y="384" width="1" height="3" fill="#ff4000"/><rect x="120" y="390" width="1" height="3" fill="#ff4000"/><rect x="120" y="396" width="1" height="3" fill="#ff4000"/><rect x="120" y="402" width="1" height="3" fill="#ff4000"/><rect x="120" y="408" width="1" height="3" fill="#ff4000"/><rect x="120" y="414" width="1" height="3" fill="#ff4000"/><rect x="120" y="420" width="1" height="3" fill="#ff4000"/><rect x="120" y="426" width="1" height="3" fill="#ff4000"/><rect x="120" y="432" width="1" height="2" fill="#ff4000"/><rect x="240" y="1" width="1" height="2" fill="#ff4000"/><rect x="240" y="6" width="1" height="3" fill="#ff4000"/><rect x="240" y="12" width="1" height="3" fill="#ff4000"/><rect x="240" y="18" width="1" height="3" fill="#ff4000"/><rect x="240" y="24" width="1" height="3" fill="#ff4000"/><rect x="240" y="30" width="1" height="3" fill="#ff4000"/><rect x="240" y="36" width="1" height="3" fill="#ff4000"/><rect x="240" y="42" width="1" height="3" fill="#ff4000"/><rect x="240" y="48" width="1" height="3" fill="#ff4000"/><rect x="240" y="54" width="1" height="3" fill="#ff4000"/><rect x="240" y="60" width="1" height="3" fill="#ff4000"/><rect x="240" y="66" width="1" height="3" fill="#ff4000"/><rect x="240" y="72" width="1" height="3" fill="#ff4000"/><rect x="240" y="78" width="1" height="3" fill="#ff4000"/><rect x="240" y="84" width="1" height="3" fill="#ff4000"/><rect x="240" y="90" width="1" height="3" fill="#ff4000"/><rect x="240" y="96" width="1" height="3" fill="#ff4000"/><rect x="240" y="102" width="1" height="3" fill="#ff4000"/><rect x="240" y="108" width="1" height="3" fill="#ff4000"/><rect x="240" y="114" width="1" height="3" fill="#ff4000"/><rect x="240" y="120" width="1" height="3" fill="#ff4000"/><rect x="240" y="126" width="1" height="3" fill="#ff4000"/><rect x="240" y="132" width="1" height="3" fill="#ff4000"/><rect x="240" y="138" width="1" height="3" fill="#ff4000"/><rect x="240" y="144" width="1" height="3" fill="#ff4000"/><rect x="240" y="150" width="1" height="3" fill="#ff4000"/><rect x="240" y="156" width="1" height="3" fill="#ff4000"/><rect x="240" y="162" width="1" height="3" fill="#ff4000"/><rect x="240" y="168" width="1" height="3" fill="#ff4000"/><rect x="240" y="174" width="1" height="3" fill="#ff4000"/><rect x="240" y="180" width="1" height="3" fill="#ff4000"/><rect x="240" y="186" width="1" height="3" fill="#ff4000"/><rect x="240" y="192" width="1" height="3" fill="#ff4000"/><rect x="240" y="198" width="1" height="3" fill="#ff4000"/><rect x="240" y="204" width="1" height="3" fill="#ff4000"/><rect x="240" y="210" width="1" height="3" fill="#ff4000"/><rect x="240" y="216" width="1" height="3" fill="#ff4000"/><rect x="240" y="222" width="1" height="3" fill="#ff4000"/><rect x="240" y="228" width="1" height="3" fill="#ff4000"/><rect x="240" y="234" width="1" height="3" fill="#ff4000"/><rect x="240" y="240" width="1" height="3" fill="#ff4000"/><rect x="240" y="246" width="1" height="3" fill="#ff4000"/><rect x="240" y="252" width="1" height="3" fill="#ff4000"/><rect x="240" y="258" width="1" height="3" fill="#ff4000"/><rect x="240" y="264" width="1" height="3" fill="#ff4000"/><rect x="240" y="270" width="1" height="3" fill="#ff4000"/><rect x="240" y="276" width="1" height="3" fill="#ff4000"/><rect x="240" y="282" width="1" height="3" fill="#ff4000"/><rect x="240" y="288" width="1" height="3" fill="#ff4000"/><rect x="240" y="294" width="1" height="3" fill="#ff4000"/><rect x="240" y="300" width="1" height="3" fill="#ff4000"/><rect x="240" y="306" width="1" height="3" fill="#ff4000"/><rect x="240" y="312" width="1" height="3" fill="#ff4000"/><rect x="240" y="318" width="1" height="3" fill="#ff4000"/><rect x="240" y="324" width="1" height="3" fill="#ff4000"/><rect x="240" y="330" width="1" height="3" fill="#ff4000"/><rect x="240" y="336" width="1" height="3" fill="#ff4000"/><rect x="240" y="342" width="1" height="3" fill="#ff4000"/><rect x="240" y="348" width="1" height="3" fill="#ff4000"/><rect x="240" y="354" width="1" height="3" fill="#ff4000"/><rect x="240" y="360" width="1" height="3" fill="#ff4000"/><rect x="240" y="366" width="1" height="3" fill="#ff4000"/><rect x="240" y="372" width="1" height="3" fill="#ff4000"/><rect x="240" y="378" width="1" height="3" fill="#ff4000"/><rect x="240" y="384" width="1" height="3" fill="#ff4000"/><rect x="240" y="390" width="1" height="3" fill="#ff4000"/><rect x="240" y="396" width="1" height="3" fill="#ff4000"/><rect x="240" y="402" width="1" height="3" fill="#ff4000"/><rect x="240" y="408" width="1" height="3" fill="#ff4000"/><rect x="240" y="414" width="1" height="3" fill="#ff4000"/><rect x="240" y="420" width="1" height="3" fill="#ff4000"/><rect x="240" y="426" width="1" height="3" fill="#ff4000"/><rect x="240" y="432" width="1" height="2" fill="#ff4000"/><rect x="360" y="1" width="1" height="2" fill="#ff4000"/><rect x="360" y="6" width="1" height="3" fill="#ff4000"/><rect x="360" y="12" width="1" height="3" fill="#ff4000"/><rect x="360" y="18" width="1" height="3" fill="#ff4000"/><rect x="360" y="24" width="1" height="3" fill="#ff4000"/><rect x="360" y="30" width="1" height="3" fill="#ff4000"/><rect x="360" y="36" width="1" height="3" fill="#ff4000"/><rect x="360" y="42" width="1" height="3" fill="#ff4000"/><rect x="360" y="48" width="1" height="3" fill="#ff4000"/><rect x="360" y="54" width="1" height="3" fill="#ff4000"/><rect x="360" y="60" width="1" height="3" fill="#ff4000"/><rect x="360" y="66" width="1" height="3" fill="#ff4000"/><rect x="360" y="72" width="1" height="3" fill="#ff4000"/><rect x="360" y="78" width="1" height="3" fill="#ff4000"/><rect x="360" y="84" width="1" height="3" fill="#ff4000"/><rect x="360" y="90" width="1" height="3" fill="#ff4000"/><rect x="360" y="96" width="1" height="3" fill="#ff4000"/><rect x="360" y="102" width="1" height="3" fill="#ff4000"/><rect x="360" y="108" width="1" height="3" fill="#ff4000"/><rect x="360" y="114" width="1" height="3" fill="#ff4000"/><rect x="360" y="120" width="1" height="3" fill="#ff4000"/><rect x="360" y="126" width="1" height="3" fill="#ff4000"/><rect x="360" y="132" width="1" height="3" fill="#ff4000"/><rect x="360" y="138" width="1" height="3" fill="#ff4000"/><rect x="360" y="144" width="1" height="3" fill="#ff4000"/><rect x="360" y="150" width="1" height="3" fill="#ff4000"/><rect x="360" y="156" width="1" height="3" fill="#ff4000"/><rect x="360" y="162" width="1" height="3" fill="#ff4000"/><rect x="360" y="168" width="1" height="3" fill="#ff4000"/><rect x="360" y="174" width="1" height="3" fill="#ff4000"/><rect x="360" y="180" width="1" height="3" fill="#ff4000"/><rect x="360" y="186" width="1" height="3" fill="#ff4000"/><rect x="360" y="192" width="1" height="3" fill="#ff4000"/><rect x="360" y="198" width="1" height="3" fill="#ff4000"/><rect x="360" y="204" width="1" height="3" fill="#ff4000"/><rect x="360" y="210" width="1" height="3" fill="#ff4000"/><rect x="360" y="216" width="1" height="3" fill="#ff4000"/><rect x="360" y="222" width="1" height="3" fill="#ff4000"/><rect x="360" y="228" width="1" height="3" fill="#ff4000"/><rect x="360" y="234" width="1" height="3" fill="#ff4000"/><rect x="360" y="240" width="1" height="3" fill="#ff4000"/><rect x="360" y="246" width="1" height="3" fill="#ff4000"/><rect x="360" y="252" width="1" height="3" fill="#ff4000"/><rect x="360" y="258" width="1" height="3" fill="#ff4000"/><rect x="360" y="264" width="1" height="3" fill="#ff4000"/><rect x="360" y="270" width="1" height="3" fill="#ff4000"/><rect x="360" y="276" width="1" height="3" fill="#ff4000"/><rect x="360" y="282" width="1" height="3" fill="#ff4000"/><rect x="360" y="288" width="1" height="3" fill="#ff4000"/><rect x="360" y="294" width="1" height="3" fill="#ff4000"/><rect x="360" y="300" width="1" height="3" fill="#ff4000"/><rect x="360" y="306" width="1" height="3" fill="#ff4000"/><rect x="360" y="312" width="1" height="3" fill="#ff4000"/><rect x="360" y="318" width="1" height="3" fill="#ff4000"/><rect x="360" y="324" width="1" height="3" fill="#ff4000"/><rect x="360" y="330" width="1" height="3" fill="#ff4000"/><rect x="360" y="336" width="1" height="3" fill="#ff4000"/><rect x="360" y="342" width="1" height="3" fill="#ff4000"/><rect x="360" y="348" width="1" height="3" fill="#ff4000"/><rect x="360" y="354" width="1" height="3" fill="#ff4000"/><rect x="360" y="360" width="1" height="3" fill="#ff4000"/><rect x="360" y="366" width="1" height="3" fill="#ff4000"/><rect x="360" y="372" width="1" height="3" fill="#ff4000"/><rect x="360" y="378" width="1" height="3" fill="#ff4000"/><rect x="360" y="384" width="1" height="3" fill="#ff4000"/><rect x="360" y="390" width="1" height="3" fill="#ff4000"/><rect x="360" y="396" width="1" height="3" fill="#ff4000"/><rect x="360" y="402" width="1" height="3" fill="#ff4000"/><rect x="360" y="408" width="1" height="3" fill="#ff4000"/><rect x="360" y="414" width="1" height="1" fill="#ff4000"/><rect x="480" y="1" width="1" height="2" fill="#ff4000"/><rect x="480" y="6" width="1" height="3" fill="#ff4000"/><rect x="480" y="12" width="1" height="3" fill="#ff4000"/><rect x="480" y="18" width="1" height="3" fill="#ff4000"/><rect x="480" y="24" width="1" height="3" fill="#ff4000"/><rect x="480" y="30" width="1" height="3" fill="#ff4000"/><rect x="480" y="36" width="1" height="3" fill="#ff4000"/><rect x="480" y="42" width="1" height="3" fill="#ff4000"/><rect x="480" y="48" width="1" height="3" fill="#ff4000"/><rect x="480" y="54" width="1" height="3" fill="#ff4000"/><rect x="480" y="60" width="1" height="3" fill="#ff4000"/><rect x="480" y="66" width="1" height="3" fill="#ff4000"/><rect x="480" y="72" width="1" height="3" fill="#ff4000"/><rect x="480" y="78" width="1" height="3" fill="#ff4000"/><rect x="480" y="84" width="1" height="3" fill="#ff4000"/><rect x="480" y="90" width="1" height="3" fill="#ff4000"/><rect x="480" y="96" width="1" height="3" fill="#ff4000"/><rect x="480" y="102" width="1" height="3" fill="#ff4000"/><rect x="480" y="108" width="1" height="3" fill="#ff4000"/><rect x="480" y="114" width="1" height="3" fill="#ff4000"/><rect x="480" y="120" width="1" height="3" fill="#ff4000"/><rect x="480" y="126" width="1" height="3" fill="#ff4000"/><rect x="480" y="132" width="1" height="3" fill="#ff4000"/><rect x="480" y="138" width="1" height="3" fill="#ff4000"/><rect x="480" y="144" width="1" height="3" fill="#ff4000"/><rect x="480" y="150" width="1" height="3" fill="#ff4000"/><rect x="480" y="156" width="1" height="3" fill="#ff4000"/><rect x="480" y="162" width="1" height="3" fill="#ff4000"/><rect x="480" y="168" width="1" height="3" fill="#ff4000"/><rect x="480" y="174" width="1" height="3" fill="#ff4000"/><rect x="480" y="180" width="1" height="3" fill="#ff4000"/><rect x="480" y="186" width="1" height="3" fill="#ff4000"/><rect x="480" y="192" width="1" height="3" fill="#ff4000"/><rect x="480" y="198" width="1" height="3" fill="#ff4000"/><rect x="480" y="204" width="1" height="3" fill="#ff4000"/><rect x="480" y="210" width="1" height="3" fill="#ff4000"/><rect x="480" y="216" width="1" height="3" fill="#ff4000"/><rect x="480" y="222" width="1" height="3" fill="#ff4000"/><rect x="480" y="228" width="1" height="3" fill="#ff4000"/><rect x="480" y="234" width="1" height="3" fill="#ff4000"/><rect x="480" y="240" width="1" height="3" fill="#ff4000"/><rect x="480" y="246" width="1" height="3" fill="#ff4000"/><rect x="480" y="252" width="1" height="3" fill="#ff4000"/><rect x="480" y="258" width="1" height="3" fill="#ff4000"/><rect x="480" y="264" width="1" height="3" fill="#ff4000"/><rect x="480" y="270" width="1" height="3" fill="#ff4000"/><rect x="480" y="276" width="1" height="3" fill="#ff4000"/><rect x="480" y="282" width="1" height="3" fill="#ff4000"/><rect x="480" y="288" width="1" height="3" fill="#ff4000"/><rect x="480" y="294" width="1" height="3" fill="#ff4000"/><rect x="480" y="300" width="1" height="3" fill="#ff4000"/><rect x="480" y="306" width="1" height="3" fill="#ff4000"/><rect x="480" y="312" width="1" height="3" fill="#ff4000"/><rect x="480" y="318" width="1" height="3" fill="#ff4000"/><rect x="480" y="324" width="1" height="3" fill="#ff4000"/><rect x="480" y="330" width="1" height="3" fill="#ff4000"/><rect x="480" y="336" width="1" height="3" fill="#ff4000"/><rect x="480" y="342" width="1" height="3" fill="#ff4000"/><rect x="480" y="348" width="1" height="3" fill="#ff4000"/><rect x="480" y="354" width="1" height="3" fill="#ff4000"/><rect x="480" y="360" width="1" height="3" fill="#ff4000"/><rect x="480" y="366" width="1" height="3" fill="#ff4000"/><rect x="480" y="372" width="1" height="3" fill="#ff4000"/><rect x="480" y="378" width="1" height="3" fill="#ff4000"/><rect x="480" y="384" width="1" height="3" fill="#ff4000"/><rect x="480" y="390" width="1" height="3" fill="#ff4000"/><rect x="480" y="396" width="1" height="3" fill="#ff4000"/><rect x="480" y="402" width="1" height="3" fill="#ff4000"/><rect x="480" y="408" width="1" height="3" fill="#ff4000"/><rect x="480" y="414" width="1" height="1" fill="#ff4000"/><rect x="600" y="1" width="1" height="2" fill="#ff4000"/><rect x="600" y="6" width="1" height="3" fill="#ff4000"/><rect x="600" y="12" width="1" height="3" fill="#ff4000"/><rect x="600" y="18" width="1" height="3" fill="#ff4000"/><rect x="600" y="24" width="1" height="3" fill="#ff4000"/><rect x="600" y="30" width="1" height="3" fill="#ff4000"/><rect x="600" y="36" width="1" height="3" fill="#ff4000"/><rect x="600" y="42" width="1" height="3" fill="#ff4000"/><rect x="600" y="48" width="1" height="3" fill="#ff4000"/><rect x="600" y="54" width="1" height="3" fill="#ff4000"/><rect x="600" y="60" width="1" height="3" fill="#ff4000"/><rect x="600" y="66" width="1" height="3" fill="#ff4000"/><rect x="600" y="72" width="1" height="3" fill="#ff4000"/><rect x="600" y="78" width="1" height="3" fill="#ff4000"/><rect x="600" y="84" width="1" height="3" fill="#ff4000"/><rect x="600" y="90" width="1" height="3" fill="#ff4000"/><rect x="600" y="96" width="1" height="3" fill="#ff4000"/><rect x="600" y="102" width="1" height="3" fill="#ff4000"/><rect x="600" y="108" width="1" height="3" fill="#ff4000"/><rect x="600" y="114" width="1" height="3" fill="#ff4000"/><rect x="600" y="120" width="1" height="3" fill="#ff4000"/><rect x="600" y="126" width="1" height="3" fill="#ff4000"/><rect x="600" y="132" width="1" height="3" fill="#ff4000"/><rect x="600" y="138" width="1" height="3" fill="#ff4000"/><rect x="600" y="144" width="1" height="3" fill="#ff4000"/><rect x="600" y="150" width="1" height="3" fill="#ff4000"/><rect x="600" y="156" width="1" height="3" fill="#ff4000"/><rect x="600" y="162" width="1" height="3" fill="#ff4000"/><rect x="600" y="168" width="1" height="3" fill="#ff4000"/><rect x="600" y="174" width="1" height="3" fill="#ff4000"/><rect x="600" y="180" width="1" height="3" fill="#ff4000"/><rect x="600" y="186" width="1" height="3" fill="#ff4000"/><rect x="600" y="192" width="1" height="3" fill="#ff4000"/><rect x="600" y="198" width="1" height="3" fill="#ff4000"/><rect x="600" y="204" width="1" height="3" fill="#ff4000"/><rect x="600" y="210" width="1" height="3" fill="#ff4000"/><rect x="600" y="216" width="1" height="3" fill="#ff4000"/><rect x="600" y="222" width="1" height="3" fill="#ff4000"/><rect x="600" y="228" width="1" height="3" fill="#ff4000"/><rect x="600" y="234" width="1" height="3" fill="#ff4000"/><rect x="600" y="240" width="1" height="3" fill="#ff4000"/><rect x="600" y="246" width="1" height="3" fill="#ff4000"/><rect x="600" y="252" width="1" height="3" fill="#ff4000"/><rect x="600" y="258" width="1" height="3" fill="#ff4000"/><rect x="600" y="264" width="1" height="3" fill="#ff4000"/><rect x="600" y="270" width="1" height="3" fill="#ff4000"/><rect x="600" y="276" width="1" height="3" fill="#ff4000"/><rect x="600" y="282" width="1" height="3" fill="#ff4000"/><rect x="600" y="288" width="1" height="3" fill="#ff4000"/><rect x="600" y="294" width="1" height="3" fill="#ff4000"/><rect x="600" y="300" width="1" height="3" fill="#ff4000"/><rect x="600" y="306" width="1" height="3" fill="#ff4000"/><rect x="600" y="312" width="1" height="3" fill="#ff4000"/><rect x="600" y="318" width="1" height="3" fill="#ff4000"/><rect x="600" y="324" width="1" height="3" fill="#ff4000"/><rect x="600" y="330" width="1" height="3" fill="#ff4000"/><rect x="600" y="336" width="1" height="3" fill="#ff4000"/><rect x="600" y="342" width="1" height="3" fill="#ff4000"/><rect x="600" y="348" width="1" height="3" fill="#ff4000"/><rect x="600" y="354" width="1" height="3" fill="#ff4000"/><rect x="600" y="360" width="1" height="3" fill="#ff4000"/><rect x="600" y="366" width="1" height="3" fill="#ff4000"/><rect x="600" y="372" width="1" height="3" fill="#ff4000"/><rect x="600" y="378" width="1" height="3" fill="#ff4000"/><rect x="600" y="384" width="1" height="3" fill="#ff4000"/><rect x="600" y="390" width="1" height="3" fill="#ff4000"/><rect x="600" y="396" width="1" height="3" fill="#ff4000"/><rect x="600" y="402" width="1" height="3" fill="#ff4000"/><rect x="600" y="408" width="1" height="3" fill="#ff4000"/><rect x="600" y="414" width="1" height="1" fill="#ff4000"/><rect x="720" y="1" width="1" height="2" fill="#ff4000"/><rect x="720" y="6" width="1" height="3" fill="#ff4000"/><rect x="720" y="12" width="1" height="3" fill="#ff4000"/><rect x="720" y="18" width="1" height="3" fill="#ff4000"/><rect x="720" y="24" width="1" height="3" fill="#ff4000"/><rect x="720" y="30" width="1" height="3" fill="#ff4000"/><rect x="720" y="36" width="1" height="3" fill="#ff4000"/><rect x="720" y="42" width="1" height="3" fill="#ff4000"/><rect x="720" y="48" width="1" height="3" fill="#ff4000"/><rect x="720" y="54" width="1" height="3" fill="#ff4000"/><rect x="720" y="60" width="1" height="3" fill="#ff4000"/><rect x="720" y="66" width="1" height="3" fill="#ff4000"/><rect x="720" y="72" width="1" height="3" fill="#ff4000"/><rect x="720" y="78" width="1" height="3" fill="#ff4000"/><rect x="720" y="84" width="1" height="3" fill="#ff4000"/><rect x="720" y="90" width="1" height="3" fill="#ff4000"/><rect x="720" y="96" width="1" height="3" fill="#ff4000"/><rect x="720" y="102" width="1" height="3" fill="#ff4000"/><rect x="720" y="108" width="1" height="3" fill="#ff4000"/><rect x="720" y="114" width="1" height="3" fill="#ff4000"/><rect x="720" y="120" width="1" height="3" fill="#ff4000"/><rect x="720" y="126" width="1" height="3" fill="#ff4000"/><rect x="720" y="132" width="1" height="3" fill="#ff4000"/><rect x="720" y="138" width="1" height="3" fill="#ff4000"/><rect x="720" y="144" width="1" height="3" fill="#ff4000"/><rect x="720" y="150" width="1" height="3" fill="#ff4000"/><rect x="720" y="156" width="1" height="3" fill="#ff4000"/><rect x="720" y="162" width="1" height="3" fill="#ff4000"/><rect x="720" y="168" width="1" height="3" fill="#ff4000"/><rect x="720" y="174" width="1" height="3" fill="#ff4000"/><rect x="720" y="180" width="1" height="3" fill="#ff4000"/><rect x="720" y="186" width="1" height="3" fill="#ff4000"/><rect x="720" y="192" width="1" height="3" fill="#ff4000"/><rect x="720" y="198" width="1" height="3" fill="#ff4000"/><rect x="720" y="204" width="1" height="3" fill="#ff4000"/><rect x="720" y="210" width="1" height="3" fill="#ff4000"/><rect x="720" y="216" width="1" height="3" fill="#ff4000"/><rect x="720" y="222" width="1" height="3" fill="#ff4000"/><rect x="720" y="228" width="1" height="3" fill="#ff4000"/><rect x="720" y="234" width="1" height="3" fill="#ff4000"/><rect x="720" y="240" width="1" height="3" fill="#ff4000"/><rect x="720" y="246" width="1" height="3" fill="#ff4000"/><rect x="720" y="252" width="1" height="3" fill="#ff4000"/><rect x="720" y="258" width="1" height="3" fill="#ff4000"/><rect x="720" y="264" width="1" height="3" fill="#ff4000"/><rect x="720" y="270" width="1" height="3" fill="#ff4000"/><rect x="720" y="276" width="1" height="3" fill="#ff4000"/><rect x="720" y="282" width="1" height="3" fill="#ff4000"/><rect x="720" y="288" width="1" height="3" fill="#ff4000"/><rect x="720" y="294" width="1" height="3" fill="#ff4000"/><rect x="720" y="300" width="1" height="3" fill="#ff4000"/><rect x="720" y="306" width="1" height="3" fill="#ff4000"/><rect x="720" y="312" width="1" height="3" fill="#ff4000"/><rect x="720" y="318" width="1" height="3" fill="#ff4000"/><rect x="720" y="324" width="1" height="3" fill="#ff4000"/><rect x="720" y="330" width="1" height="3" fill="#ff4000"/><rect x="720" y="336" width="1" height="3" fill="#ff4000"/><rect x="720" y="342" width="1" height="3" fill="#ff4000"/><rect x="720" y="348" width="1" height="3" fill="#ff4000"/><rect x="720" y="354" width="1" height="3" fill="#ff4000"/><rect x="720" y="360" width="1" height="3" fill="#ff4000"/><rect x="720" y="366" width="1" height="3" fill="#ff4000"/><rect x="720" y="372" width="1" height="3" fill="#ff4000"/><rect x="720" y="378" width="1" height="3" fill="#ff4000"/><rect x="720" y="384" width="1" height="3" fill="#ff4000"/><rect x="720" y="390" width="1" height="3" fill="#ff4000"/><rect x="720" y="396" width="1" height="3" fill="#ff4000"/><rect x="720" y="402" width="1" height="3" fill="#ff4000"/><rect x="720" y="408" width="1" height="3" fill="#ff4000"/><rect x="720" y="414" width="1" height="1" fill="#ff4000"/><rect x="840" y="1" width="1" height="2" fill="#ff4000"/><rect x="840" y="6" width="1" height="3" fill="#ff4000"/><rect x="840" y="12" width="1" height="3" fill="#ff4000"/><rect x="840" y="18" width="1" height="3" fill="#ff4000"/><rect x="840" y="24" width="1" height="3" fill="#ff4000"/><rect x="840" y="30" width="1" height="3" fill="#ff4000"/><rect x="840" y="36" width="1" height="3" fill="#ff4000"/><rect x="840" y="42" width="1" height="3" fill="#ff4000"/><rect x="840" y="48" width="1" height="3" fill="#ff4000"/><rect x="840" y="54" width="1" height="3" fill="#ff4000"/><rect x="840" y="60" width="1" height="3" fill="#ff4000"/><rect x="840" y="66" width="1" height="3" fill="#ff4000"/><rect x="840" y="72" width="1" height="3" fill="#ff4000"/><rect x="840" y="78" width="1" height="3" fill="#ff4000"/><rect x="840" y="84" width="1" height="3" fill="#ff4000"/><rect x="840" y="90" width="1" height="3" fill="#ff4000"/><rect x="840" y="96" width="1" height="3" fill="#ff4000"/><rect x="840" y="102" width="1" height="3" fill="#ff4000"/><rect x="840" y="108" width="1" height="3" fill="#ff4000"/><rect x="840" y="114" width="1" height="3" fill="#ff4000"/><rect x="840" y="120" width="1" height="3" fill="#ff4000"/><rect x="840" y="126" width="1" height="3" fill="#ff4000"/><rect x="840" y="132" width="1" height="3" fill="#ff4000"/><rect x="840" y="138" width="1" height="3" fill="#ff4000"/><rect x="840" y="144" width="1" height="3" fill="#ff4000"/><rect x="840" y="150" width="1" height="3" fill="#ff4000"/><rect x="840" y="156" width="1" height="3" fill="#ff4000"/><rect x="840" y="162" width="1" height="3" fill="#ff4000"/><rect x="840" y="168" width="1" height="3" fill="#ff4000"/><rect x="840" y="174" width="1" height="3" fill="#ff4000"/><rect x="840" y="180" width="1" height="3" fill="#ff4000"/><rect x="840" y="186" width="1" height="3" fill="#ff4000"/><rect x="840" y="192" width="1" height="3" fill="#ff4000"/><rect x="840" y="198" width="1" height="3" fill="#ff4000"/><rect x="840" y="204" width="1" height="3" fill="#ff4000"/><rect x="840" y="210" width="1" height="3" fill="#ff4000"/><rect x="840" y="216" width="1" height="3" fill="#ff4000"/><rect x="840" y="222" width="1" height="3" fill="#ff4000"/><rect x="840" y="228" width="1" height="3" fill="#ff4000"/><rect x="840" y="234" width="1" height="3" fill="#ff4000"/><rect x="840" y="240" width="1" height="3" fill="#ff4000"/><rect x="840" y="246" width="1" height="3" fill="#ff4000"/><rect x="840" y="252" width="1" height="3" fill="#ff4000"/><rect x="840" y="258" width="1" height="3" fill="#ff4000"/><rect x="840" y="264" width="1" height="3" fill="#ff4000"/><rect x="840" y="270" width="1" height="3" fill="#ff4000"/><rect x="840" y="276" width="1" height="3" fill="#ff4000"/><rect x="840" y="282" width="1" height="3" fill="#ff4000"/><rect x="840" y="288" width="1" height="3" fill="#ff4000"/><rect x="840" y="294" width="1" height="3" fill="#ff4000"/><rect x="840" y="300" width="1" height="3" fill="#ff4000"/><rect x="840" y="306" width="1" height="3" fill="#ff4000"/><rect x="840" y="312" width="1" height="3" fill="#ff4000"/><rect x="840" y="318" width="1" height="3" fill="#ff4000"/><rect x="840" y="324" width="1" height="3" fill="#ff4000"/><rect x="840" y="330" width="1" height="3" fill="#ff4000"/><rect x="840" y="336" width="1" height="3" fill="#ff4000"/><rect x="840" y="342" width="1" height="3" fill="#ff4000"/><rect x="840" y="348" width="1" height="3" fill="#ff4000"/><rect x="840" y="354" width="1" height="3" fill="#ff4000"/><rect x="840" y="360" width="1" height="3" fill="#ff4000"/><rect x="840" y="366" width="1" height="3" fill="#ff4000"/><rect x="840" y="372" width="1" height="3" fill="#ff4000"/><rect x="840" y="378" width="1" height="3" fill="#ff4000"/><rect x="840" y="384" width="1" height="3" fill="#ff4000"/><rect x="840" y="390" width="1" height="3" fill="#ff4000"/><rect x="840" y="396" width="1" height="3" fill="#ff4000"/><rect x="840" y="402" width="1" height="3" fill="#ff4000"/><rect x="840" y="408" width="1" height="3" fill="#ff4000"/><rect x="840" y="414" width="1" height="3" fill="#ff4000"/><rect x="840" y="420" width="1" height="3" fill="#ff4000"/><rect x="840" y="426" width="1" height="3" fill="#ff4000"/><rect x="840" y="432" width="1" height="2" fill="#ff4000"/><rect x="984" y="1" width="1" height="2" fill="#ff4000"/><rect x="984" y="6" width="1" height="3" fill="#ff4000"/><rect x="984" y="12" width="1" height="3" fill="#ff4000"/><rect x="984" y="18" width="1" height="3" fill="#ff4000"/><rect x="984" y="24" width="1" height="3" fill="#ff4000"/><rect x="984" y="30" width="1" height="3" fill="#ff4000"/><rect x="984" y="36" width="1" height="3" fill="#ff4000"/><rect x="984" y="42" width="1" height="3" fill="#ff4000"/><rect x="984" y="48" width="1" height="3" fill="#ff4000"/><rect x="984" y="54" width="1" height="3" fill="#ff4000"/><rect x="984" y="60" width="1" height="3" fill="#ff4000"/><rect x="984" y="66" width="1" height="3" fill="#ff4000"/><rect x="984" y="72" width="1" height="3" fill="#ff4000"/><rect x="984" y="78" width="1" height="3" fill="#ff4000"/><rect x="984" y="84" width="1" height="3" fill="#ff4000"/><rect x="984" y="90" width="1" height="3" fill="#ff4000"/><rect x="984" y="96" width="1" height="3" fill="#ff4000"/><rect x="984" y="102" width="1" height="3" fill="#ff4000"/><rect x="984" y="108" width="1" height="3" fill="#ff4000"/><rect x="984" y="114" width="1" height="3" fill="#ff4000"/><rect x="984" y="120" width="1" height="3" fill="#ff4000"/><rect x="984" y="126" width="1" height="3" fill="#ff4000"/><rect x="984" y="132" width="1" height="3" fill="#ff4000"/><rect x="984" y="138" width="1" height="3" fill="#ff4000"/><rect x="984" y="144" width="1" height="3" fill="#ff4000"/><rect x="984" y="150" width="1" height="3" fill="#ff4000"/><rect x="984" y="156" width="1" height="3" fill="#ff4000"/><rect x="984" y="162" width="1" height="3" fill="#ff4000"/><rect x="984" y="168" width="1" height="3" fill="#ff4000"/><rect x="984" y="174" width="1" height="3" fill="#ff4000"/><rect x="984" y="180" width="1" height="3" fill="#ff4000"/><rect x="984" y="186" width="1" height="3" fill="#ff4000"/><rect x="984" y="192" width="1" height="3" fill="#ff4000"/><rect x="984" y="198" width="1" height="3" fill="#ff4000"/><rect x="984" y="204" width="1" height="3" fill="#ff4000"/><rect x="984" y="210" width="1" height="3" fill="#ff4000"/><rect x="984" y="216" width="1" height="3" fill="#ff4000"/><rect x="984" y="222" width="1" height="3" fill="#ff4000"/><rect x="984" y="228" width="1" height="3" fill="#ff4000"/><rect x="984" y="234" width="1" height="3" fill="#ff4000"/><rect x="984" y="240" width="1" height="3" fill="#ff4000"/><rect x="984" y="246" width="1" height="3" fill="#ff4000"/><rect x="984" y="252" width="1" height="3" fill="#ff4000"/><rect x="984" y="258" width="1" height="3" fill="#ff4000"/><rect x="984" y="264" width="1" height="3" fill="#ff4000"/><rect x="984" y="270" width="1" height="3" fill="#ff4000"/><rect x="984" y="276" width="1" height="3" fill="#ff4000"/><rect x="984" y="282" width="1" height="3" fill="#ff4000"/><rect x="984" y="288" width="1" height="3" fill="#ff4000"/><rect x="984" y="294" width="1" height="3" fill="#ff4000"/><rect x="984" y="300" width="1" height="3" fill="#ff4000"/><rect x="984" y="306" width="1" height="3" fill="#ff4000"/><rect x="984" y="312" width="1" height="3" fill="#ff4000"/><rect x="984" y="318" width="1" height="3" fill="#ff4000"/><rect x="984" y="324" width="1" height="3" fill="#ff4000"/><rect x="984" y="330" width="1" height="3" fill="#ff4000"/><rect x="984" y="336" width="1" height="3" fill="#ff4000"/><rect x="984" y="342" width="1" height="3" fill="#ff4000"/><rect x="984" y="348" width="1" height="3" fill="#ff4000"/><rect x="984" y="354" width="1" height="3" fill="#ff4000"/><rect x="984" y="360" width="1" height="3" fill="#ff4000"/><rect x="984" y="366" width="1" height="3" fill="#ff4000"/><rect x="984" y="372" width="1" height="3" fill="#ff4000"/><rect x="984" y="378" width="1" height="3" fill="#ff4000"/><rect x="984" y="384" width="1" height="3" fill="#ff4000"/><rect x="984" y="390" width="1" height="3" fill="#ff4000"/><rect x="984" y="396" width="1" height="3" fill="#ff4000"/><rect x="984" y="402" width="1" height="3" fill="#ff4000"/><rect x="984" y="408" width="1" height="3" fill="#ff4000"/><rect x="984" y="414" width="1" height="3" fill="#ff4000"/><rect x="984" y="420" width="1" height="3" fill="#ff4000"/><rect x="984" y="426" width="1" height="3" fill="#ff4000"/><rect x="984" y="432" width="1" height="2" fill="#ff4000"/><rect x="0" y="342" width="1" height="9" fill="#004000"/>
<rect x="-1" y="344" width="3" height="7" fill="#004000"/>
<rect x="4" y="346" width="1" height="10" fill="#ff2400"/>
<rect x="3" y="347" width="3" height="4" fill="#ff2400"/>
<rect x="8" y="341" width="1" height="33" fill="#004000"/>
<rect x="7" y="347" width="3" height="21" fill="#004000"/>
<rect x="12" y="336" width="1" height="35" fill="#ff2400"/>
<rect x="11" y="350" width="3" height="18" fill="#ff2400"/>
<rect x="16" y="320" width="1" height="43" fill="#ff2400"/>
<rect x="15" y="332" width="3" height="19" fill="#ff2400"/>
<rect x="20" y="330" width="1" height="9" fill="#004000"/>
<rect x="19" y="332" width="3" height="2" fill="#004000"/>
<rect x="24" y="327" width="1" height="10" fill="#004000"/>
<rect x="23" y="333" width="3" height="4" fill="#004000"/>
<rect x="28" y="331" width="1" height="16" fill="#004000"/>
<rect x="27" y="336" width="3" height="9" fill="#004000"/>
<rect x="32" y="311" width="1" height="47" fill="#ff2400"/>
<rect x="31" y="311" width="3" height="34" fill="#ff2400"/>
<rect x="36" y="308" width="1" height="26" fill="#004000"/>
<rect x="35" y="311" width="3" height="3" fill="#004000"/>
<rect x="40" y="280" width="1" height="40" fill="#ff2400"/>
<rect x="39" y="282" width="3" height="32" fill="#ff2400"/>
<rect x="44" y="277" width="1" height="17" fill="#004000"/>
<rect x="43" y="282" width="3" height="12" fill="#004000"/>
<rect x="48" y="285" width="1" height="10" fill="#004000"/>
<rect x="47" y="293" width="3" height="2" fill="#004000"/>
<rect x="52" y="284" width="1" height="16" fill="#004000"/>
<rect x="51" y="294" width="3" height="2" fill="#004000"/>
<rect x="56" y="258" width="1" height="40" fill="#ff2400"/>
<rect x="55" y="274" width="3" height="22" fill="#ff2400"/>
<rect x="60" y="232" width="1" height="50" fill="#ff2400"/>
<rect x="59" y="239" width="3" height="36" fill="#ff2400"/>
<rect x="64" y="207" width="1" height="38" fill="#ff2400"/>
<rect x="63" y="217" width="3" height="23" fill="#ff2400"/>
<rect x="68" y="211" width="1" height="11" fill="#ff2400"/>
<rect x="67" y="215" width="3" height="3" fill="#ff2400"/>
<rect x="72" y="198" width="1" height="19" fill="#ff2400"/>
<rect x="71" y="209" width="3" height="7" fill="#ff2400"/>
<rect x="76" y="206" width="1" height="10" fill="#004000"/>
<rect x="75" y="210" width="3" height="2" fill="#004000"/>
<rect x="80" y="207" width="1" height="36" fill="#004000"/>
<rect x="79" y="211" width="3" height="18" fill="#004000"/>
<rect x="84" y="228" width="1" height="25" fill="#004000"/>
<rect x="83" y="228" width="3" height="6" fill="#004000"/>
<rect x="88" y="222" width="1" height="31" fill="#004000"/>
<rect x="87" y="233" width="3" height="18" fill="#004000"/>
<rect x="92" y="216" width="1" height="35" fill="#ff2400"/>
<rect x="91" y="218" width="3" height="33" fill="#ff2400"/>
<rect x="96" y="175" width="1" height="49" fill="#ff2400"/>
<rect x="95" y="193" width="3" height="27" fill="#ff2400"/>
<rect x="100" y="168" width="1" height="26" fill="#ff2400"/>
<rect x="99" y="176" width="3" height="18" fill="#ff2400"/>
<rect x="104" y="175" width="1" height="39" fill="#004000"/>
<rect x="103" y="176" width="3" height="32" fill="#004000"/>
<rect x="108" y="186" width="1" height="34" fill="#ff2400"/>
<rect x="107" y="196" width="3" height="12" fill="#ff2400"/>
<rect x="112" y="140" width="1" height="58" fill="#ff2400"/>
<rect x="111" y="142" width="3" height="56" fill="#ff2400"/>
<rect x="116" y="116" width="1" height="32" fill="#ff2400"/>
<rect x="115" y="118" width="3" height="25" fill="#ff2400"/>
<rect x="120" y="120" width="1" height="20" fill="#ff2400"/>
<rect x="119" y="131" width="3" height="7" fill="#ff2400"/>
<rect x="124" y="123" width="1" height="12" fill="#004000"/>
<rect x="123" y="131" width="3" height="2" fill="#004000"/>
<rect x="128" y="130" width="1" height="30" fill="#004000"/>
<rect x="127" y="132" width="3" height="23" fill="#004000"/>
<rect x="132" y="136" width="1" height="34" fill="#ff2400"/>
<rect x="131" y="149" width="3" height="6" fill="#ff2400"/>
<rect x="136" y="141" width="1" height="29" fill="#ff2400"/>
<rect x="135" y="146" width="3" height="3" fill="#ff2400"/>
<rect x="140" y="145" width="1" height="17" fill="#004000"/>
<rect x="139" y="146" width="3" height="14" fill="#004000"/>
<rect x="144" y="154" width="1" height="14" fill="#004000"/>
<rect x="143" y="159" width="3" height="4" fill="#004000"/>
<rect x="148" y="157" width="1" height="7" fill="#ff2400"/>
<rect x="147" y="158" width="3" height="5" fill="#ff2400"/>
<rect x="152" y="143" width="1" height="32" fill="#ff2400"/>
<rect x="151" y="154" width="3" height="5" fill="#ff2400"/>
<rect x="156" y="128" width="1" height="37" fill="#ff2400"/>
<rect x="155" y="132" width="3" height="23" fill="#ff2400"/>
<rect x="160" y="132" width="1" height="47" fill="#004000"/>
<rect x="159" y="132" width="3" height="38" fill="#004000"/>
<rect x="164" y="148" width="1" height="77" fill="#004000"/>
<rect x="163" y="169" width="3" height="51" fill="#004000"/>
<rect x="168" y="197" width="1" height="24" fill="#ff2400"/>
<rect x="167" y="200" width="3" height="18" fill="#ff2400"/>
<rect x="172" y="195" width="1" height="10" fill="#ff2400"/>
<rect x="171" y="197" width="3" height="4" fill="#ff2400"/>
<rect x="176" y="180" width="1" height="39" fill="#ff2400"/>
<rect x="175" y="185" width="3" height="12" fill="#ff2400"/>
<rect x="180" y="185" width="1" height="29" fill="#004000"/>
<rect x="179" y="185" width="3" height="23" fill="#004000"/>
<rect x="184" y="202" width="1" height="22" fill="#004000"/>
<rect x="183" y="208" width="3" height="14" fill="#004000"/>
<rect x="188" y="164" width="1" height="59" fill="#ff2400"/>
<rect x="187" y="191" width="3" height="31" fill="#ff2400"/>
<rect x="192" y="176" width="1" height="20" fill="#ff2400"/>
<rect x="191" y="183" width="3" height="4" fill="#ff2400"/>
<rect x="196" y="169" width="1" height="15" fill="#ff2400"/>
<rect x="195" y="176" width="3" height="8" fill="#ff2400"/>
<rect x="200" y="156" width="1" height="33" fill="#004000"/>
<rect x="199" y="176" width="3" height="9" fill="#004000"/>
<rect x="204" y="161" width="1" height="29" fill="#ff2400"/>
<rect x="203" y="184" width="3" height="2" fill="#ff2400"/>
<rect x="208" y="154" width="1" height="43" fill="#ff2400"/>
<rect x="207" y="183" width="3" height="2" fill="#ff2400"/>
<rect x="212" y="180" width="1" height="19" fill="#004000"/>
<rect x="211" y="183" width="3" height="13" fill="#004000"/>
<rect x="216" y="185" width="1" height="14" fill="#ff2400"/>
<rect x="215" y="194" width="3" height="2" fill="#ff2400"/>
<rect x="220" y="194" width="1" height="16" fill="#004000"/>
<rect x="219" y="194" width="3" height="1" fill="#004000"/>
<rect x="224" y="184" width="1" height="49" fill="#004000"/>
<rect x="223" y="194" width="3" height="29" fill="#004000"/>
<rect x="228" y="212" width="1" height="16" fill="#004000"/>
<rect x="227" y="222" width="3" height="3" fill="#004000"/>
<rect x="232" y="193" width="1" height="33" fill="#ff2400"/>
<rect x="231" y="207" width="3" height="18" fill="#ff2400"/>
<rect x="236" y="203" width="1" height="12" fill="#004000"/>
<rect x="235" y="207" width="3" height="1" fill="#004000"/>
<rect x="240" y="204" width="1" height="21" fill="#ff2400"/>
<rect x="239" y="207" width="3" height="7" fill="#ff2400"/>
<rect x="244" y="204" width="1" height="9" fill="#004000"/>
<rect x="243" y="207" width="3" height="5" fill="#004000"/>
<rect x="248" y="197" width="1" height="31" fill="#004000"/>
<rect x="247" y="212" width="3" height="10" fill="#004000"/>
<rect x="252" y="216" width="1" height="16" fill="#004000"/>
<rect x="251" y="221" width="3" height="4" fill="#004000"/>
<rect x="256" y="192" width="1" height="50" fill="#004000"/>
<rect x="255" y="224" width="3" height="12" fill="#004000"/>
<rect x="260" y="228" width="1" height="12" fill="#004000"/>
<rect x="259" y="235" width="3" height="3" fill="#004000"/>
<rect x="264" y="231" width="1" height="13" fill="#ff2400"/>
<rect x="263" y="235" width="3" height="2" fill="#ff2400"/>
<rect x="268" y="232" width="1" height="8" fill="#004000"/>
<rect x="267" y="235" width="3" height="1" fill="#004000"/>
<rect x="272" y="226" width="1" height="27" fill="#004000"/>
<rect x="271" y="235" width="3" height="13" fill="#004000"/>
<rect x="276" y="245" width="1" height="33" fill="#004000"/>
<rect x="275" y="248" width="3" height="30" fill="#004000"/>
<rect x="280" y="273" width="1" height="39" fill="#004000"/>
<rect x="279" y="276" width="3" height="18" fill="#004000"/>
<rect x="284" y="289" width="1" height="13" fill="#004000"/>
<rect x="283" y="293" width="3" height="2" fill="#004000"/>
<rect x="288" y="286" width="1" height="17" fill="#ff2400"/>
<rect x="287" y="293" width="3" height="2" fill="#ff2400"/>
<rect x="292" y="287" width="1" height="9" fill="#ff2400"/>
<rect x="291" y="293" width="3" height="1" fill="#ff2400"/>
<rect x="296" y="278" width="1" height="33" fill="#ff2400"/>
<rect x="295" y="285" width="3" height="8" fill="#ff2400"/>
<rect x="300" y="280" width="1" height="18" fill="#ff2400"/>
<rect x="299" y="282" width="3" height="4" fill="#ff2400"/>
<rect x="304" y="274" width="1" height="26" fill="#004000"/>
<rect x="303" y="282" width="3" height="13" fill="#004000"/>
<rect x="308" y="292" width="1" height="17" fill="#004000"/>
<rect x="307" y="294" width="3" height="13" fill="#004000"/>
<rect x="312" y="299" width="1" height="11" fill="#004000"/>
<rect x="311" y="306" width="3" height="2" fill="#004000"/>
<rect x="316" y="304" width="1" height="7" fill="#ff2400"/>
<rect x="315" y="306" width="3" height="2" fill="#ff2400"/>
<rect x="320" y="300" width="1" height="31" fill="#004000"/>
<rect x="319" y="306" width="3" height="20" fill="#004000"/>
<rect x="324" y="279" width="1" height="80" fill="#ff2400"/>
<rect x="323" y="285" width="3" height="41" fill="#ff2400"/>
<rect x="328" y="263" width="1" height="25" fill="#004000"/>
<rect x="327" y="284" width="3" height="2" fill="#004000"/>
<rect x="332" y="280" width="1" height="16" fill="#004000"/>
<rect x="331" y="285" width="3" height="9" fill="#004000"/>
<rect x="336" y="288" width="1" height="11" fill="#004000"/>
<rect x="335" y="293" width="3" height="3" fill="#004000"/>
<rect x="340" y="292" width="1" height="8" fill="#ff2400"/>
<rect x="339" y="294" width="3" height="2" fill="#ff2400"/>
<rect x="344" y="291" width="1" height="23" fill="#004000"/>
<rect x="343" y="294" width="3" height="12" fill="#004000"/>
<rect x="348" y="276" width="1" height="31" fill="#ff2400"/>
<rect x="347" y="282" width="3" height="24" fill="#ff2400"/>
<rect x="352" y="281" width="1" height="27" fill="#004000"/>
<rect x="351" y="282" width="3" height="24" fill="#004000"/>
<rect x="356" y="302" width="1" height="8" fill="#ff2400"/>
<rect x="355" y="302" width="3" height="4" fill="#ff2400"/>
<rect x="360" y="301" width="1" height="9" fill="#ff2400"/>
<rect x="359" y="302" width="3" height="6" fill="#ff2400"/>
<rect x="364" y="301" width="1" height="11" fill="#004000"/>
<rect x="363" y="304" width="3" height="2" fill="#004000"/>
<rect x="368" y="301" width="1" height="31" fill="#004000"/>
<rect x="367" y="304" width="3" height="26" fill="#004000"/>
<rect x="372" y="302" width="1" height="36" fill="#004000"/>
<rect x="371" y="329" width="3" height="6" fill="#004000"/>
<rect x="376" y="331" width="1" height="33" fill="#004000"/>
<rect x="375" y="334" width="3" height="24" fill="#004000"/>
<rect x="380" y="351" width="1" height="11" fill="#ff2400"/>
<rect x="379" y="355" width="3" height="4" fill="#ff2400"/>
<rect x="384" y="347" width="1" height="16" fill="#ff2400"/>
<rect x="383" y="349" width="3" height="7" fill="#ff2400"/>
<rect x="388" y="346" width="1" height="8" fill="#004000"/>
<rect x="387" y="350" width="3" height="3" fill="#004000"/>
<rect x="392" y="337" width="1" height="36" fill="#004000"/>
<rect x="391" y="352" width="3" height="12" fill="#004000"/>
<rect x="396" y="334" width="1" height="36" fill="#ff2400"/>
<rect x="395" y="334" width="3" height="30" fill="#ff2400"/>
<rect x="400" y="330" width="1" height="18" fill="#ff2400"/>
<rect x="399" y="333" width="3" height="2" fill="#ff2400"/>
<rect x="404" y="320" width="1" height="15" fill="#ff4000"/>
<rect x="403" y="333" width="3" height="1" fill="#ff4000"/>
<rect x="408" y="327" width="1" height="10" fill="#ff2400"/>
<rect x="407" y="328" width="3" height="6" fill="#ff2400"/>
<rect x="412" y="313" width="1" height="18" fill="#ff2400"/>
<rect x="411" y="316" width="3" height="13" fill="#ff2400"/>
<rect x="416" y="312" width="1" height="28" fill="#004000"/>
<rect x="415" y="315" width="3" height="23" fill="#004000"/>
<rect x="420" y="288" width="1" height="57" fill="#ff2400"/>
<rect x="419" y="332" width="3" height="6" fill="#ff2400"/>
<rect x="424" y="320" width="1" height="42" fill="#004000"/>
<rect x="423" y="332" width="3" height="23" fill="#004000"/>
<rect x="428" y="349" width="1" height="16" fill="#004000"/>
<rect x="427" y="354" width="3" height="10" fill="#004000"/>
<rect x="432" y="355" width="1" height="11" fill="#ff2400"/>
<rect x="431" y="357" width="3" height="6" fill="#ff2400"/>
<rect x="436" y="347" width="1" height="12" fill="#ff2400"/>
<rect x="435" y="349" width="3" height="9" fill="#ff2400"/>
<rect x="440" y="342" width="1" height="44" fill="#004000"/>
<rect x="439" y="349" width="3" height="14" fill="#004000"/>
<rect x="444" y="362" width="1" height="34" fill="#004000"/>
<rect x="443" y="362" width="3" height="19" fill="#004000"/>
<rect x="448" y="378" width="1" height="34" fill="#004000"/>
<rect x="447" y="380" width="3" height="18" fill="#004000"/>
<rect x="452" y="391" width="1" height="10" fill="#ff2400"/>
<rect x="451" y="394" width="3" height="4" fill="#ff2400"/>
<rect x="456" y="393" width="1" height="8" fill="#004000"/>
<rect x="455" y="394" width="3" height="5" fill="#004000"/>
<rect x="460" y="392" width="1" height="9" fill="#ff2400"/>
<rect x="459" y="392" width="3" height="7" fill="#ff2400"/>
<rect x="464" y="379" width="1" height="26" fill="#ff2400"/>
<rect x="463" y="384" width="3" height="9" fill="#ff2400"/>
<rect x="468" y="373" width="1" height="29" fill="#004000"/>
<rect x="467" y="384" width="3" height="5" fill="#004000"/>
<rect x="472" y="340" width="1" height="52" fill="#ff2400"/>
<rect x="471" y="346" width="3" height="43" fill="#ff2400"/>
<rect x="476" y="328" width="1" height="20" fill="#ff2400"/>
<rect x="475" y="332" width="3" height="15" fill="#ff2400"/>
<rect x="480" y="318" width="1" height="10" fill="#ff2400"/>
<rect x="479" y="320" width="3" height="6" fill="#ff2400"/>
<rect x="484" y="313" width="1" height="12" fill="#004000"/>
<rect x="483" y="320" width="3" height="3" fill="#004000"/>
<rect x="488" y="309" width="1" height="25" fill="#ff2400"/>
<rect x="487" y="321" width="3" height="2" fill="#ff2400"/>
<rect x="492" y="301" width="1" height="21" fill="#ff2400"/>
<rect x="491" y="313" width="3" height="9" fill="#ff2400"/>
<rect x="496" y="304" width="1" height="14" fill="#ff2400"/>
<rect x="495" y="310" width="3" height="4" fill="#ff2400"/>
<rect x="500" y="307" width="1" height="8" fill="#004000"/>
<rect x="499" y="310" width="3" height="5" fill="#004000"/>
<rect x="504" y="310" width="1" height="16" fill="#004000"/>
<rect x="503" y="314" width="3" height="9" fill="#004000"/>
<rect x="508" y="323" width="1" height="8" fill="#004000"/>
<rect x="507" y="323" width="3" height="3" fill="#004000"/>
<rect x="512" y="304" width="1" height="24" fill="#ff2400"/>
<rect x="511" y="315" width="3" height="11" fill="#ff2400"/>
<rect x="516" y="288" width="1" height="28" fill="#ff2400"/>
<rect x="515" y="292" width="3" height="24" fill="#ff2400"/>
<rect x="520" y="214" width="1" height="81" fill="#ff2400"/>
<rect x="519" y="219" width="3" height="73" fill="#ff2400"/>
<rect x="524" y="212" width="1" height="15" fill="#004000"/>
<rect x="523" y="219" width="3" height="3" fill="#004000"/>
<rect x="528" y="210" width="1" height="15" fill="#ff2400"/>
<rect x="527" y="212" width="3" height="10" fill="#ff2400"/>
<rect x="532" y="211" width="1" height="16" fill="#004000"/>
<rect x="531" y="212" width="3" height="13" fill="#004000"/>
<rect x="536" y="222" width="1" height="22" fill="#004000"/>
<rect x="535" y="225" width="3" height="13" fill="#004000"/>
<rect x="540" y="229" width="1" height="24" fill="#004000"/>
<rect x="539" y="238" width="3" height="3" fill="#004000"/>
<rect x="544" y="193" width="1" height="55" fill="#ff2400"/>
<rect x="543" y="193" width="3" height="48" fill="#ff2400"/>
<rect x="548" y="188" width="1" height="40" fill="#004000"/>
<rect x="547" y="193" width="3" height="35" fill="#004000"/>
<rect x="552" y="220" width="1" height="23" fill="#004000"/>
<rect x="551" y="231" width="3" height="10" fill="#004000"/>
<rect x="556" y="226" width="1" height="18" fill="#004000"/>
<rect x="555" y="240" width="3" height="2" fill="#004000"/>
<rect x="560" y="202" width="1" height="42" fill="#ff2400"/>
<rect x="559" y="216" width="3" height="26" fill="#ff2400"/>
<rect x="564" y="197" width="1" height="43" fill="#ff2400"/>
<rect x="563" y="204" width="3" height="13" fill="#ff2400"/>
<rect x="568" y="204" width="1" height="39" fill="#004000"/>
<rect x="567" y="204" width="3" height="33" fill="#004000"/>
<rect x="572" y="233" width="1" height="11" fill="#004000"/>
<rect x="571" y="236" width="3" height="8" fill="#004000"/>
<rect x="576" y="228" width="1" height="18" fill="#ff2400"/>
<rect x="575" y="235" width="3" height="3" fill="#ff2400"/>
<rect x="580" y="234" width="1" height="10" fill="#004000"/>
<rect x="579" y="235" width="3" height="4" fill="#004000"/>
<rect x="584" y="226" width="1" height="26" fill="#004000"/>
<rect x="583" y="239" width="3" height="8" fill="#004000"/>
<rect x="588" y="242" width="1" height="40" fill="#004000"/>
<rect x="587" y="246" width="3" height="19" fill="#004000"/>
<rect x="592" y="207" width="1" height="60" fill="#ff2400"/>
<rect x="591" y="216" width="3" height="49" fill="#ff2400"/>
<rect x="596" y="212" width="1" height="18" fill="#004000"/>
<rect x="595" y="216" width="3" height="10" fill="#004000"/>
<rect x="600" y="210" width="1" height="21" fill="#ff2400"/>
<rect x="599" y="215" width="3" height="11" fill="#ff2400"/>
<rect x="604" y="212" width="1" height="8" fill="#ff2400"/>
<rect x="603" y="212" width="3" height="4" fill="#ff2400"/>
<rect x="608" y="195" width="1" height="28" fill="#ff2400"/>
<rect x="607" y="208" width="3" height="5" fill="#ff2400"/>
<rect x="612" y="197" width="1" height="24" fill="#004000"/>
<rect x="611" y="208" width="3" height="6" fill="#004000"/>
<rect x="616" y="194" width="1" height="34" fill="#ff2400"/>
<rect x="615" y="202" width="3" height="12" fill="#ff2400"/>
<rect x="620" y="166" width="1" height="46" fill="#ff2400"/>
<rect x="619" y="170" width="3" height="33" fill="#ff2400"/>
<rect x="624" y="162" width="1" height="23" fill="#004000"/>
<rect x="623" y="170" width="3" height="3" fill="#004000"/>
<rect x="628" y="162" width="1" height="16" fill="#004000"/>
<rect x="627" y="172" width="3" height="6" fill="#004000"/>
<rect x="632" y="136" width="1" height="42" fill="#ff2400"/>
<rect x="631" y="137" width="3" height="41" fill="#ff2400"/>
<rect x="636" y="102" width="1" height="45" fill="#004000"/>
<rect x="635" y="137" width="3" height="10" fill="#004000"/>
<rect x="640" y="72" width="1" height="96" fill="#ff2400"/>
<rect x="639" y="92" width="3" height="55" fill="#ff2400"/>
<rect x="644" y="69" width="1" height="32" fill="#004000"/>
<rect x="643" y="92" width="3" height="3" fill="#004000"/>
<rect x="648" y="87" width="1" height="11" fill="#004000"/>
<rect x="647" y="94" width="3" height="2" fill="#004000"/>
<rect x="652" y="93" width="1" height="8" fill="#004000"/>
<rect x="651" y="96" width="3" height="1" fill="#004000"/>
<rect x="656" y="70" width="1" height="36" fill="#ff2400"/>
<rect x="655" y="73" width="3" height="24" fill="#ff2400"/>
<rect x="660" y="37" width="1" height="41" fill="#ff2400"/>
<rect x="659" y="51" width="3" height="23" fill="#ff2400"/>
<rect x="664" y="28" width="1" height="40" fill="#004000"/>
<rect x="663" y="51" width="3" height="10" fill="#004000"/>
<rect x="668" y="52" width="1" height="14" fill="#ff2400"/>
<rect x="667" y="55" width="3" height="6" fill="#ff2400"/>
<rect x="672" y="48" width="1" height="11" fill="#ff2400"/>
<rect x="671" y="53" width="3" height="5" fill="#ff2400"/>
<rect x="676" y="51" width="1" height="14" fill="#004000"/>
<rect x="675" y="53" width="3" height="6" fill="#004000"/>
<rect x="680" y="54" width="1" height="26" fill="#004000"/>
<rect x="679" y="58" width="3" height="3" fill="#004000"/>
<rect x="684" y="49" width="1" height="27" fill="#004000"/>
<rect x="683" y="60" width="3" height="12" fill="#004000"/>
<rect x="688" y="50" width="1" height="43" fill="#004000"/>
<rect x="687" y="71" width="3" height="14" fill="#004000"/>
<rect x="692" y="77" width="1" height="14" fill="#004000"/>
<rect x="691" y="84" width="3" height="4" fill="#004000"/>
<rect x="696" y="83" width="1" height="11" fill="#ff2400"/>
<rect x="695" y="85" width="3" height="2" fill="#ff2400"/>
<rect x="700" y="85" width="1" height="7" fill="#004000"/>
<rect x="699" y="85" width="3" height="7" fill="#004000"/>
<rect x="704" y="86" width="1" height="21" fill="#004000"/>
<rect x="703" y="91" width="3" height="9" fill="#004000"/>
<rect x="708" y="91" width="1" height="25" fill="#004000"/>
<rect x="707" y="99" width="3" height="10" fill="#004000"/>
<rect x="712" y="70" width="1" height="56" fill="#004000"/>
<rect x="711" y="109" width="3" height="16" fill="#004000"/>
<rect x="716" y="122" width="1" height="25" fill="#004000"/>
<rect x="715" y="124" width="3" height="3" fill="#004000"/>
<rect x="720" y="93" width="1" height="17" fill="#004000"/>
<rect x="719" y="101" width="3" height="3" fill="#004000"/>
<rect x="724" y="99" width="1" height="11" fill="#004000"/>
<rect x="723" y="103" width="3" height="6" fill="#004000"/>
<rect x="728" y="91" width="1" height="20" fill="#ff2400"/>
<rect x="727" y="99" width="3" height="11" fill="#ff2400"/>
<rect x="732" y="98" width="1" height="44" fill="#004000"/>
<rect x="731" y="99" width="3" height="24" fill="#004000"/>
<rect x="736" y="121" width="1" height="29" fill="#004000"/>
<rect x="735" y="122" width="3" height="19" fill="#004000"/>
<rect x="740" y="137" width="1" height="13" fill="#004000"/>
<rect x="739" y="140" width="3" height="3" fill="#004000"/>
<rect x="744" y="140" width="1" height="9" fill="#004000"/>
<rect x="743" y="142" width="3" height="5" fill="#004000"/>
<rect x="748" y="144" width="1" height="18" fill="#004000"/>
<rect x="747" y="146" width="3" height="9" fill="#004000"/>
<rect x="752" y="128" width="1" height="32" fill="#ff2400"/>
<rect x="751" y="136" width="3" height="19" fill="#ff2400"/>
<rect x="756" y="135" width="1" height="62" fill="#004000"/>
<rect x="755" y="136" width="3" height="46" fill="#004000"/>
<rect x="760" y="154" width="1" height="36" fill="#ff2400"/>
<rect x="759" y="160" width="3" height="22" fill="#ff2400"/>
<rect x="764" y="141" width="1" height="21" fill="#ff2400"/>
<rect x="763" y="142" width="3" height="19" fill="#ff2400"/>
<rect x="768" y="141" width="1" height="25" fill="#004000"/>
<rect x="767" y="142" width="3" height="20" fill="#004000"/>
<rect x="772" y="158" width="1" height="21" fill="#004000"/>
<rect x="771" y="161" width="3" height="11" fill="#004000"/>
<rect x="776" y="157" width="1" height="16" fill="#ff2400"/>
<rect x="775" y="164" width="3" height="8" fill="#ff2400"/>
<rect x="780" y="154" width="1" height="23" fill="#004000"/>
<rect x="779" y="164" width="3" height="4" fill="#004000"/>
<rect x="784" y="145" width="1" height="29" fill="#ff2400"/>
<rect x="783" y="150" width="3" height="19" fill="#ff2400"/>
<rect x="788" y="140" width="1" height="17" fill="#ff2400"/>
<rect x="787" y="149" width="3" height="1" fill="#ff2400"/>
<rect x="792" y="138" width="1" height="13" fill="#ff2400"/>
<rect x="791" y="143" width="3" height="7" fill="#ff2400"/>
<rect x="796" y="138" width="1" height="7" fill="#ff2400"/>
<rect x="795" y="142" width="3" height="2" fill="#ff2400"/>
<rect x="800" y="140" width="1" height="20" fill="#004000"/>
<rect x="799" y="142" width="3" height="11" fill="#004000"/>
<rect x="804" y="151" width="1" height="39" fill="#004000"/>
<rect x="803" y="152" width="3" height="30" fill="#004000"/>
<rect x="808" y="160" width="1" height="42" fill="#ff2400"/>
<rect x="807" y="175" width="3" height="7" fill="#ff2400"/>
<rect x="812" y="175" width="1" height="41" fill="#004000"/>
<rect x="811" y="175" width="3" height="32" fill="#004000"/>
<rect x="816" y="198" width="1" height="12" fill="#ff2400"/>
<rect x="815" y="204" width="3" height="3" fill="#ff2400"/>
<rect x="820" y="194" width="1" height="11" fill="#ff2400"/>
<rect x="819" y="200" width="3" height="5" fill="#ff2400"/>
<rect x="824" y="188" width="1" height="23" fill="#004000"/>
<rect x="823" y="200" width="3" height="6" fill="#004000"/>
<rect x="828" y="201" width="1" height="26" fill="#004000"/>
<rect x="827" y="205" width="3" height="10" fill="#004000"/>
<rect x="832" y="203" width="1" height="65" fill="#004000"/>
<rect x="831" y="214" width="3" height="46" fill="#004000"/>
<rect x="836" y="249" width="1" height="14" fill="#ff2400"/>
<rect x="835" y="250" width="3" height="10" fill="#ff2400"/>
<rect x="840" y="264" width="1" height="24" fill="#004000"/>
<rect x="839" y="278" width="3" height="2" fill="#004000"/>
<rect x="844" y="274" width="1" height="12" fill="#ff2400"/>
<rect x="843" y="276" width="3" height="4" fill="#ff2400"/>
<rect x="848" y="248" width="1" height="30" fill="#ff2400"/>
<rect x="847" y="260" width="3" height="17" fill="#ff2400"/>
<rect x="852" y="220" width="1" height="67" fill="#ff2400"/>
<rect x="851" y="227" width="3" height="33" fill="#ff2400"/>
<rect x="856" y="168" width="1" height="69" fill="#ff2400"/>
<rect x="855" y="169" width="3" height="59" fill="#ff2400"/>
<rect x="860" y="147" width="1" height="32" fill="#ff2400"/>
<rect x="859" y="163" width="3" height="7" fill="#ff2400"/>
<rect x="864" y="68" width="1" height="96" fill="#ff2400"/>
<rect x="863" y="109" width="3" height="55" fill="#ff2400"/>
<rect x="868" y="110" width="1" height="17" fill="#004000"/>
<rect x="867" y="111" width="3" height="14" fill="#004000"/>
<rect x="872" y="99" width="1" height="32" fill="#ff2400"/>
<rect x="871" y="109" width="3" height="16" fill="#ff2400"/>
<rect x="876" y="108" width="1" height="150" fill="#004000"/>
<rect x="875" y="109" width="3" height="104" fill="#004000"/>
<rect x="880" y="163" width="1" height="54" fill="#ff2400"/>
<rect x="879" y="206" width="3" height="7" fill="#ff2400"/>
<rect x="884" y="162" width="1" height="66" fill="#004000"/>
<rect x="883" y="206" width="3" height="16" fill="#004000"/>
<rect x="888" y="204" width="1" height="18" fill="#ff2400"/>
<rect x="887" y="207" width="3" height="11" fill="#ff2400"/>
<rect x="892" y="199" width="1" height="11" fill="#ff2400"/>
<rect x="891" y="201" width="3" height="7" fill="#ff2400"/>
<rect x="896" y="193" width="1" height="11" fill="#ff2400"/>
<rect x="895" y="200" width="3" height="2" fill="#ff2400"/></g>
<rect x="0" y="107" width="1028" height="1" fill="#ff0000"/>
<rect x="0" y="182" width="1028" height="1" fill="#000"/>
<rect x="0" y="296" width="1028" height="1" fill="#0000ff"/>
<rect x="0" y="371" width="1028" height="1" fill="#0000ff"/>
<text x="889" y="115.7" fill="#ff0000" stroke="#ff0000" font-size="10" textLength="25" lengthAdjust="spacingAndGlyphs" text-anchor="start">D1 R1</text>
<text x="889" y="191" fill="#000" stroke="#000" font-size="10" textLength="35" lengthAdjust="spacingAndGlyphs" text-anchor="start">D1 Pivot</text>
<text x="889" y="305" fill="#0000ff" stroke="#0000ff" font-size="10" textLength="24" lengthAdjust="spacingAndGlyphs" text-anchor="start">D1 S1</text>
<text x="889" y="380" fill="#0000ff" stroke="#0000ff" font-size="10" textLength="24" lengthAdjust="spacingAndGlyphs" text-anchor="start">D1 S2</text>
<text x="10" y="13.8" fill="#000" stroke="#000" font-size="10" textLength="68" lengthAdjust="spacingAndGlyphs" text-anchor="start">GBPUSD.ID,H4</text>
<text x="-1.5" y="28.8" fill="#000" stroke="#000" font-size="10" textLength="66" lengthAdjust="spacingAndGlyphs" text-anchor="start">ng Daily Pivots.</text>
<g shape-rendering="auto"><rect x="-2" y="5" width="6" height="11" rx="1.2" fill="#b3221d"/><rect x="0" y="6" width="3" height="8.4" fill="#d24a41"/><rect x="1.2" y="6.3" width="1.5" height="3.2" fill="#e07468"/><rect x="0" y="14" width="3" height="0.7" fill="#e8a79e"/><rect x="0" y="8.3" width="0.6" height="1.4" fill="#f4dcd8"/></g>
<rect x="889" y="1" width="3" height="1" fill="#ff0000"/>
<rect x="904" y="1" width="1" height="1" fill="#ff0000"/>
<rect x="908" y="1" width="1" height="1" fill="#ff0000"/>
<rect x="910" y="1" width="4" height="1" fill="#ff0000"/>
<polygon points="892,1 901,1 896.5,6" fill="#c0c0c0" shape-rendering="auto"/>
<rect x="0" y="0" width="1029" height="1" fill="#000"/>
<rect x="0" y="434" width="1029" height="1" fill="#000"/>
<rect x="0" y="436" width="1029" height="1" fill="#000"/>
<rect x="1029" y="437" width="4" height="1" fill="#000"/>
<rect x="0" y="556" width="1029" height="1" fill="#000"/>
<rect x="1029" y="555" width="4" height="1" fill="#000"/>
<rect x="1028" y="0" width="1" height="435" fill="#000"/>
<rect x="1028" y="436" width="1" height="121" fill="#000"/>
<rect x="1029" y="15" width="4" height="1" fill="#000"/>
<text x="1034.6" y="19" fill="#000" stroke="#000" font-size="10" textLength="31.4" lengthAdjust="spacingAndGlyphs" text-anchor="start">1.33685</text>
<rect x="1029" y="47" width="4" height="1" fill="#000"/>
<text x="1034.6" y="51" fill="#000" stroke="#000" font-size="10" textLength="31.4" lengthAdjust="spacingAndGlyphs" text-anchor="start">1.33200</text>
<rect x="1029" y="79" width="4" height="1" fill="#000"/>
<text x="1034.6" y="83" fill="#000" stroke="#000" font-size="10" textLength="31.4" lengthAdjust="spacingAndGlyphs" text-anchor="start">1.32715</text>
<rect x="1029" y="111" width="4" height="1" fill="#000"/>
<text x="1034.6" y="115" fill="#000" stroke="#000" font-size="10" textLength="31.4" lengthAdjust="spacingAndGlyphs" text-anchor="start">1.32230</text>
<rect x="1029" y="144" width="4" height="1" fill="#000"/>
<text x="1034.6" y="148" fill="#000" stroke="#000" font-size="10" textLength="31.4" lengthAdjust="spacingAndGlyphs" text-anchor="start">1.31745</text>
<rect x="1029" y="176" width="4" height="1" fill="#000"/>
<text x="1034.6" y="180" fill="#000" stroke="#000" font-size="10" textLength="31.4" lengthAdjust="spacingAndGlyphs" text-anchor="start">1.31260</text>
<rect x="1029" y="208" width="4" height="1" fill="#000"/>
<text x="1034.6" y="212" fill="#000" stroke="#000" font-size="10" textLength="31.4" lengthAdjust="spacingAndGlyphs" text-anchor="start">1.30775</text>
<rect x="1029" y="240" width="4" height="1" fill="#000"/>
<text x="1034.6" y="244" fill="#000" stroke="#000" font-size="10" textLength="31.4" lengthAdjust="spacingAndGlyphs" text-anchor="start">1.30290</text>
<rect x="1029" y="272" width="4" height="1" fill="#000"/>
<text x="1034.6" y="276" fill="#000" stroke="#000" font-size="10" textLength="31.4" lengthAdjust="spacingAndGlyphs" text-anchor="start">1.29805</text>
<rect x="1029" y="305" width="4" height="1" fill="#000"/>
<text x="1034.6" y="309" fill="#000" stroke="#000" font-size="10" textLength="31.4" lengthAdjust="spacingAndGlyphs" text-anchor="start">1.29320</text>
<rect x="1029" y="337" width="4" height="1" fill="#000"/>
<text x="1034.6" y="341" fill="#000" stroke="#000" font-size="10" textLength="31.4" lengthAdjust="spacingAndGlyphs" text-anchor="start">1.28835</text>
<rect x="1029" y="369" width="4" height="1" fill="#000"/>
<text x="1034.6" y="373" fill="#000" stroke="#000" font-size="10" textLength="31.4" lengthAdjust="spacingAndGlyphs" text-anchor="start">1.28350</text>
<rect x="1029" y="401" width="4" height="1" fill="#000"/>
<text x="1034.6" y="405" fill="#000" stroke="#000" font-size="10" textLength="31.4" lengthAdjust="spacingAndGlyphs" text-anchor="start">1.27865</text>
<rect x="1031" y="102" width="39" height="11" fill="#ff0000"/><text x="1035" y="111.2" fill="#fff" stroke="#fff" font-size="10" textLength="31" lengthAdjust="spacingAndGlyphs" text-anchor="start">1.32297</text>
<rect x="1031" y="196" width="39" height="11" fill="#c0c0c0"/><text x="1035" y="205.2" fill="#fff" stroke="#fff" font-size="10" textLength="31" lengthAdjust="spacingAndGlyphs" text-anchor="start">1.30893</text>
<rect x="1031" y="177" width="39" height="11" fill="#000"/><text x="1035" y="186.2" fill="#fff" stroke="#fff" font-size="10" textLength="31" lengthAdjust="spacingAndGlyphs" text-anchor="start">1.31167</text>
<rect x="1031" y="291" width="39" height="11" fill="#0000ff"/><text x="1035" y="300.2" fill="#fff" stroke="#fff" font-size="10" textLength="31" lengthAdjust="spacingAndGlyphs" text-anchor="start">1.29453</text>
<rect x="1031" y="366" width="39" height="11" fill="#0000ff"/><text x="1035" y="375.2" fill="#fff" stroke="#fff" font-size="10" textLength="31" lengthAdjust="spacingAndGlyphs" text-anchor="start">1.28323</text>
<g id="hist"><rect x="0" y="490" width="1" height="17" fill="#c0c0c0"/><rect x="4" y="494" width="1" height="13" fill="#c0c0c0"/><rect x="8" y="498" width="1" height="9" fill="#c0c0c0"/><rect x="12" y="501" width="1" height="6" fill="#c0c0c0"/><rect x="16" y="501" width="1" height="6" fill="#c0c0c0"/><rect x="20" y="502" width="1" height="5" fill="#c0c0c0"/><rect x="24" y="502" width="1" height="5" fill="#c0c0c0"/><rect x="28" y="502" width="1" height="5" fill="#c0c0c0"/><rect x="32" y="501" width="1" height="6" fill="#c0c0c0"/><rect x="36" y="499" width="1" height="8" fill="#c0c0c0"/><rect x="40" y="496" width="1" height="11" fill="#c0c0c0"/><rect x="44" y="493" width="1" height="14" fill="#c0c0c0"/><rect x="48" y="492" width="1" height="15" fill="#c0c0c0"/><rect x="52" y="491" width="1" height="16" fill="#c0c0c0"/><rect x="56" y="489" width="1" height="18" fill="#c0c0c0"/><rect x="60" y="485" width="1" height="22" fill="#c0c0c0"/><rect x="64" y="480" width="1" height="27" fill="#c0c0c0"/><rect x="68" y="475" width="1" height="32" fill="#c0c0c0"/><rect x="72" y="471" width="1" height="36" fill="#c0c0c0"/><rect x="76" y="468" width="1" height="39" fill="#c0c0c0"/><rect x="80" y="467" width="1" height="40" fill="#c0c0c0"/><rect x="84" y="468" width="1" height="39" fill="#c0c0c0"/><rect x="88" y="471" width="1" height="36" fill="#c0c0c0"/><rect x="92" y="471" width="1" height="36" fill="#c0c0c0"/><rect x="96" y="469" width="1" height="38" fill="#c0c0c0"/><rect x="100" y="466" width="1" height="41" fill="#c0c0c0"/><rect x="104" y="466" width="1" height="41" fill="#c0c0c0"/><rect x="108" y="467" width="1" height="40" fill="#c0c0c0"/><rect x="112" y="462" width="1" height="45" fill="#c0c0c0"/><rect x="116" y="457" width="1" height="50" fill="#c0c0c0"/><rect x="120" y="455" width="1" height="52" fill="#c0c0c0"/><rect x="124" y="453" width="1" height="54" fill="#c0c0c0"/><rect x="128" y="455" width="1" height="52" fill="#c0c0c0"/><rect x="132" y="456" width="1" height="51" fill="#c0c0c0"/><rect x="136" y="458" width="1" height="49" fill="#c0c0c0"/><rect x="140" y="460" width="1" height="47" fill="#c0c0c0"/><rect x="144" y="463" width="1" height="44" fill="#c0c0c0"/><rect x="148" y="465" width="1" height="42" fill="#c0c0c0"/><rect x="152" y="468" width="1" height="39" fill="#c0c0c0"/><rect x="156" y="468" width="1" height="39" fill="#c0c0c0"/><rect x="160" y="473" width="1" height="34" fill="#c0c0c0"/><rect x="164" y="479" width="1" height="28" fill="#c0c0c0"/><rect x="168" y="484" width="1" height="23" fill="#c0c0c0"/><rect x="172" y="488" width="1" height="19" fill="#c0c0c0"/><rect x="176" y="492" width="1" height="15" fill="#c0c0c0"/><rect x="180" y="495" width="1" height="12" fill="#c0c0c0"/><rect x="184" y="500" width="1" height="7" fill="#c0c0c0"/><rect x="188" y="500" width="1" height="7" fill="#c0c0c0"/><rect x="192" y="500" width="1" height="7" fill="#c0c0c0"/><rect x="196" y="499" width="1" height="8" fill="#c0c0c0"/><rect x="200" y="499" width="1" height="8" fill="#c0c0c0"/><rect x="204" y="500" width="1" height="7" fill="#c0c0c0"/><rect x="208" y="500" width="1" height="7" fill="#c0c0c0"/><rect x="212" y="501" width="1" height="6" fill="#c0c0c0"/><rect x="216" y="502" width="1" height="5" fill="#c0c0c0"/><rect x="220" y="503" width="1" height="4" fill="#c0c0c0"/><rect x="224" y="506" width="1" height="2" fill="#c0c0c0"/><rect x="228" y="506" width="1" height="5" fill="#c0c0c0"/><rect x="232" y="506" width="1" height="5" fill="#c0c0c0"/><rect x="236" y="506" width="1" height="6" fill="#c0c0c0"/><rect x="240" y="506" width="1" height="6" fill="#c0c0c0"/><rect x="244" y="506" width="1" height="6" fill="#c0c0c0"/><rect x="248" y="506" width="1" height="8" fill="#c0c0c0"/><rect x="252" y="506" width="1" height="9" fill="#c0c0c0"/><rect x="256" y="506" width="1" height="11" fill="#c0c0c0"/><rect x="260" y="506" width="1" height="12" fill="#c0c0c0"/><rect x="264" y="506" width="1" height="13" fill="#c0c0c0"/><rect x="268" y="506" width="1" height="14" fill="#c0c0c0"/><rect x="272" y="506" width="1" height="15" fill="#c0c0c0"/><rect x="276" y="506" width="1" height="19" fill="#c0c0c0"/><rect x="280" y="506" width="1" height="24" fill="#c0c0c0"/><rect x="284" y="506" width="1" height="26" fill="#c0c0c0"/><rect x="288" y="506" width="1" height="29" fill="#c0c0c0"/><rect x="292" y="506" width="1" height="30" fill="#c0c0c0"/><rect x="296" y="506" width="1" height="30" fill="#c0c0c0"/><rect x="300" y="506" width="1" height="30" fill="#c0c0c0"/><rect x="304" y="506" width="1" height="30" fill="#c0c0c0"/><rect x="308" y="506" width="1" height="31" fill="#c0c0c0"/><rect x="312" y="506" width="1" height="32" fill="#c0c0c0"/><rect x="316" y="506" width="1" height="33" fill="#c0c0c0"/><rect x="320" y="506" width="1" height="33" fill="#c0c0c0"/><rect x="324" y="506" width="1" height="30" fill="#c0c0c0"/><rect x="328" y="506" width="1" height="28" fill="#c0c0c0"/><rect x="332" y="506" width="1" height="26" fill="#c0c0c0"/><rect x="336" y="506" width="1" height="25" fill="#c0c0c0"/><rect x="340" y="506" width="1" height="24" fill="#c0c0c0"/><rect x="344" y="506" width="1" height="23" fill="#c0c0c0"/><rect x="348" y="506" width="1" height="21" fill="#c0c0c0"/><rect x="352" y="506" width="1" height="20" fill="#c0c0c0"/><rect x="356" y="506" width="1" height="20" fill="#c0c0c0"/><rect x="360" y="506" width="1" height="19" fill="#c0c0c0"/><rect x="364" y="506" width="1" height="19" fill="#c0c0c0"/><rect x="368" y="506" width="1" height="20" fill="#c0c0c0"/><rect x="372" y="506" width="1" height="21" fill="#c0c0c0"/><rect x="376" y="506" width="1" height="25" fill="#c0c0c0"/><rect x="380" y="506" width="1" height="27" fill="#c0c0c0"/><rect x="384" y="506" width="1" height="28" fill="#c0c0c0"/><rect x="388" y="506" width="1" height="29" fill="#c0c0c0"/><rect x="392" y="506" width="1" height="29" fill="#c0c0c0"/><rect x="396" y="506" width="1" height="27" fill="#c0c0c0"/><rect x="400" y="506" width="1" height="25" fill="#c0c0c0"/><rect x="404" y="506" width="1" height="23" fill="#c0c0c0"/><rect x="408" y="506" width="1" height="21" fill="#c0c0c0"/><rect x="412" y="506" width="1" height="19" fill="#c0c0c0"/><rect x="416" y="506" width="1" height="17" fill="#c0c0c0"/><rect x="420" y="506" width="1" height="17" fill="#c0c0c0"/><rect x="424" y="506" width="1" height="18" fill="#c0c0c0"/><rect x="428" y="506" width="1" height="19" fill="#c0c0c0"/><rect x="432" y="506" width="1" height="19" fill="#c0c0c0"/><rect x="436" y="506" width="1" height="19" fill="#c0c0c0"/><rect x="440" y="506" width="1" height="20" fill="#c0c0c0"/><rect x="444" y="506" width="1" height="21" fill="#c0c0c0"/><rect x="448" y="506" width="1" height="23" fill="#c0c0c0"/><rect x="452" y="506" width="1" height="25" fill="#c0c0c0"/><rect x="456" y="506" width="1" height="27" fill="#c0c0c0"/><rect x="460" y="506" width="1" height="27" fill="#c0c0c0"/><rect x="464" y="506" width="1" height="27" fill="#c0c0c0"/><rect x="468" y="506" width="1" height="26" fill="#c0c0c0"/><rect x="472" y="506" width="1" height="22" fill="#c0c0c0"/><rect x="476" y="506" width="1" height="16" fill="#c0c0c0"/><rect x="480" y="506" width="1" height="11" fill="#c0c0c0"/><rect x="484" y="506" width="1" height="7" fill="#c0c0c0"/><rect x="488" y="506" width="1" height="3" fill="#c0c0c0"/><rect x="492" y="505" width="1" height="2" fill="#c0c0c0"/><rect x="496" y="502" width="1" height="5" fill="#c0c0c0"/><rect x="500" y="500" width="1" height="7" fill="#c0c0c0"/><rect x="504" y="499" width="1" height="8" fill="#c0c0c0"/><rect x="508" y="498" width="1" height="9" fill="#c0c0c0"/><rect x="512" y="498" width="1" height="9" fill="#c0c0c0"/><rect x="516" y="495" width="1" height="12" fill="#c0c0c0"/><rect x="520" y="487" width="1" height="20" fill="#c0c0c0"/><rect x="524" y="479" width="1" height="28" fill="#c0c0c0"/><rect x="528" y="474" width="1" height="33" fill="#c0c0c0"/><rect x="532" y="470" width="1" height="37" fill="#c0c0c0"/><rect x="536" y="469" width="1" height="38" fill="#c0c0c0"/><rect x="540" y="469" width="1" height="38" fill="#c0c0c0"/><rect x="544" y="466" width="1" height="41" fill="#c0c0c0"/><rect x="548" y="466" width="1" height="41" fill="#c0c0c0"/><rect x="552" y="467" width="1" height="40" fill="#c0c0c0"/><rect x="556" y="470" width="1" height="37" fill="#c0c0c0"/><rect x="560" y="470" width="1" height="37" fill="#c0c0c0"/><rect x="564" y="469" width="1" height="38" fill="#c0c0c0"/><rect x="568" y="471" width="1" height="36" fill="#c0c0c0"/><rect x="572" y="475" width="1" height="32" fill="#c0c0c0"/><rect x="576" y="477" width="1" height="30" fill="#c0c0c0"/><rect x="580" y="479" width="1" height="28" fill="#c0c0c0"/><rect x="584" y="482" width="1" height="25" fill="#c0c0c0"/><rect x="588" y="485" width="1" height="22" fill="#c0c0c0"/><rect x="592" y="486" width="1" height="21" fill="#c0c0c0"/><rect x="596" y="486" width="1" height="21" fill="#c0c0c0"/><rect x="600" y="485" width="1" height="22" fill="#c0c0c0"/><rect x="604" y="485" width="1" height="22" fill="#c0c0c0"/><rect x="608" y="485" width="1" height="22" fill="#c0c0c0"/><rect x="612" y="485" width="1" height="22" fill="#c0c0c0"/><rect x="616" y="483" width="1" height="24" fill="#c0c0c0"/><rect x="620" y="481" width="1" height="26" fill="#c0c0c0"/><rect x="624" y="479" width="1" height="28" fill="#c0c0c0"/><rect x="628" y="477" width="1" height="30" fill="#c0c0c0"/><rect x="632" y="475" width="1" height="32" fill="#c0c0c0"/><rect x="636" y="472" width="1" height="35" fill="#c0c0c0"/><rect x="640" y="465" width="1" height="42" fill="#c0c0c0"/><rect x="644" y="461" width="1" height="46" fill="#c0c0c0"/><rect x="648" y="458" width="1" height="49" fill="#c0c0c0"/><rect x="652" y="457" width="1" height="50" fill="#c0c0c0"/><rect x="656" y="454" width="1" height="53" fill="#c0c0c0"/><rect x="660" y="451" width="1" height="56" fill="#c0c0c0"/><rect x="664" y="449" width="1" height="58" fill="#c0c0c0"/><rect x="668" y="448" width="1" height="59" fill="#c0c0c0"/><rect x="672" y="447" width="1" height="60" fill="#c0c0c0"/><rect x="676" y="447" width="1" height="60" fill="#c0c0c0"/><rect x="680" y="449" width="1" height="58" fill="#c0c0c0"/><rect x="684" y="452" width="1" height="55" fill="#c0c0c0"/><rect x="688" y="456" width="1" height="51" fill="#c0c0c0"/><rect x="692" y="460" width="1" height="47" fill="#c0c0c0"/><rect x="696" y="464" width="1" height="43" fill="#c0c0c0"/><rect x="700" y="468" width="1" height="39" fill="#c0c0c0"/><rect x="704" y="472" width="1" height="35" fill="#c0c0c0"/><rect x="708" y="476" width="1" height="31" fill="#c0c0c0"/><rect x="712" y="482" width="1" height="25" fill="#c0c0c0"/><rect x="716" y="487" width="1" height="20" fill="#c0c0c0"/><rect x="720" y="488" width="1" height="19" fill="#c0c0c0"/><rect x="724" y="490" width="1" height="17" fill="#c0c0c0"/><rect x="728" y="491" width="1" height="16" fill="#c0c0c0"/><rect x="732" y="494" width="1" height="13" fill="#c0c0c0"/><rect x="736" y="499" width="1" height="8" fill="#c0c0c0"/><rect x="740" y="502" width="1" height="5" fill="#c0c0c0"/><rect x="744" y="506" width="1" height="1" fill="#c0c0c0"/><rect x="748" y="506" width="1" height="3" fill="#c0c0c0"/><rect x="752" y="506" width="1" height="6" fill="#c0c0c0"/><rect x="756" y="506" width="1" height="10" fill="#c0c0c0"/><rect x="760" y="506" width="1" height="12" fill="#c0c0c0"/><rect x="764" y="506" width="1" height="11" fill="#c0c0c0"/><rect x="768" y="506" width="1" height="12" fill="#c0c0c0"/><rect x="772" y="506" width="1" height="14" fill="#c0c0c0"/><rect x="776" y="506" width="1" height="15" fill="#c0c0c0"/><rect x="780" y="506" width="1" height="16" fill="#c0c0c0"/><rect x="784" y="506" width="1" height="15" fill="#c0c0c0"/><rect x="788" y="506" width="1" height="13" fill="#c0c0c0"/><rect x="792" y="506" width="1" height="12" fill="#c0c0c0"/><rect x="796" y="506" width="1" height="11" fill="#c0c0c0"/><rect x="800" y="506" width="1" height="9" fill="#c0c0c0"/><rect x="804" y="506" width="1" height="11" fill="#c0c0c0"/><rect x="808" y="506" width="1" height="14" fill="#c0c0c0"/><rect x="812" y="506" width="1" height="17" fill="#c0c0c0"/><rect x="816" y="506" width="1" height="19" fill="#c0c0c0"/><rect x="820" y="506" width="1" height="21" fill="#c0c0c0"/><rect x="824" y="506" width="1" height="22" fill="#c0c0c0"/><rect x="828" y="506" width="1" height="24" fill="#c0c0c0"/><rect x="832" y="506" width="1" height="28" fill="#c0c0c0"/><rect x="836" y="506" width="1" height="32" fill="#c0c0c0"/><rect x="840" y="506" width="1" height="37" fill="#c0c0c0"/><rect x="844" y="506" width="1" height="40" fill="#c0c0c0"/><rect x="848" y="506" width="1" height="42" fill="#c0c0c0"/><rect x="852" y="506" width="1" height="38" fill="#c0c0c0"/><rect x="856" y="506" width="1" height="31" fill="#c0c0c0"/><rect x="860" y="506" width="1" height="22" fill="#c0c0c0"/><rect x="864" y="506" width="1" height="13" fill="#c0c0c0"/><rect x="868" y="506" width="1" height="3" fill="#c0c0c0"/><rect x="872" y="502" width="1" height="5" fill="#c0c0c0"/><rect x="876" y="504" width="1" height="3" fill="#c0c0c0"/><rect x="880" y="506" width="1" height="2" fill="#c0c0c0"/><rect x="884" y="506" width="1" height="5" fill="#c0c0c0"/><rect x="888" y="506" width="1" height="6" fill="#c0c0c0"/><rect x="892" y="506" width="1" height="7" fill="#c0c0c0"/><rect x="896" y="506" width="1" height="7" fill="#c0c0c0"/></g>
<rect x="0" y="506" width="1" height="1" fill="#c0c0c0"/><rect x="4" y="506" width="3" height="1" fill="#c0c0c0"/><rect x="10" y="506" width="3" height="1" fill="#c0c0c0"/><rect x="16" y="506" width="3" height="1" fill="#c0c0c0"/><rect x="22" y="506" width="3" height="1" fill="#c0c0c0"/><rect x="28" y="506" width="3" height="1" fill="#c0c0c0"/><rect x="34" y="506" width="3" height="1" fill="#c0c0c0"/><rect x="40" y="506" width="3" height="1" fill="#c0c0c0"/><rect x="46" y="506" width="3" height="1" fill="#c0c0c0"/><rect x="52" y="506" width="3" height="1" fill="#c0c0c0"/><rect x="58" y="506" width="3" height="1" fill="#c0c0c0"/><rect x="64" y="506" width="3" height="1" fill="#c0c0c0"/><rect x="70" y="506" width="3" height="1" fill="#c0c0c0"/><rect x="76" y="506" width="3" height="1" fill="#c0c0c0"/><rect x="82" y="506" width="3" height="1" fill="#c0c0c0"/><rect x="88" y="506" width="3" height="1" fill="#c0c0c0"/><rect x="94" y="506" width="3" height="1" fill="#c0c0c0"/><rect x="100" y="506" width="3" height="1" fill="#c0c0c0"/><rect x="106" y="506" width="3" height="1" fill="#c0c0c0"/><rect x="112" y="506" width="3" height="1" fill="#c0c0c0"/><rect x="118" y="506" width="3" height="1" fill="#c0c0c0"/><rect x="124" y="506" width="3" height="1" fill="#c0c0c0"/><rect x="130" y="506" width="3" height="1" fill="#c0c0c0"/><rect x="136" y="506" width="3" height="1" fill="#c0c0c0"/><rect x="142" y="506" width="3" height="1" fill="#c0c0c0"/><rect x="148" y="506" width="3" height="1" fill="#c0c0c0"/><rect x="154" y="506" width="3" height="1" fill="#c0c0c0"/><rect x="160" y="506" width="3" height="1" fill="#c0c0c0"/><rect x="166" y="506" width="3" height="1" fill="#c0c0c0"/><rect x="172" y="506" width="3" height="1" fill="#c0c0c0"/><rect x="178" y="506" width="3" height="1" fill="#c0c0c0"/><rect x="184" y="506" width="3" height="1" fill="#c0c0c0"/><rect x="190" y="506" width="3" height="1" fill="#c0c0c0"/><rect x="196" y="506" width="3" height="1" fill="#c0c0c0"/><rect x="202" y="506" width="3" height="1" fill="#c0c0c0"/><rect x="208" y="506" width="3" height="1" fill="#c0c0c0"/><rect x="214" y="506" width="3" height="1" fill="#c0c0c0"/><rect x="220" y="506" width="3" height="1" fill="#c0c0c0"/><rect x="226" y="506" width="3" height="1" fill="#c0c0c0"/><rect x="232" y="506" width="3" height="1" fill="#c0c0c0"/><rect x="238" y="506" width="3" height="1" fill="#c0c0c0"/><rect x="244" y="506" width="3" height="1" fill="#c0c0c0"/><rect x="250" y="506" width="3" height="1" fill="#c0c0c0"/><rect x="256" y="506" width="3" height="1" fill="#c0c0c0"/><rect x="262" y="506" width="3" height="1" fill="#c0c0c0"/><rect x="268" y="506" width="3" height="1" fill="#c0c0c0"/><rect x="274" y="506" width="3" height="1" fill="#c0c0c0"/><rect x="280" y="506" width="3" height="1" fill="#c0c0c0"/><rect x="286" y="506" width="3" height="1" fill="#c0c0c0"/><rect x="292" y="506" width="3" height="1" fill="#c0c0c0"/><rect x="298" y="506" width="3" height="1" fill="#c0c0c0"/><rect x="304" y="506" width="3" height="1" fill="#c0c0c0"/><rect x="310" y="506" width="3" height="1" fill="#c0c0c0"/><rect x="316" y="506" width="3" height="1" fill="#c0c0c0"/><rect x="322" y="506" width="3" height="1" fill="#c0c0c0"/><rect x="328" y="506" width="3" height="1" fill="#c0c0c0"/><rect x="334" y="506" width="3" height="1" fill="#c0c0c0"/><rect x="340" y="506" width="3" height="1" fill="#c0c0c0"/><rect x="346" y="506" width="3" height="1" fill="#c0c0c0"/><rect x="352" y="506" width="3" height="1" fill="#c0c0c0"/><rect x="358" y="506" width="3" height="1" fill="#c0c0c0"/><rect x="364" y="506" width="3" height="1" fill="#c0c0c0"/><rect x="370" y="506" width="3" height="1" fill="#c0c0c0"/><rect x="376" y="506" width="3" height="1" fill="#c0c0c0"/><rect x="382" y="506" width="3" height="1" fill="#c0c0c0"/><rect x="388" y="506" width="3" height="1" fill="#c0c0c0"/><rect x="394" y="506" width="3" height="1" fill="#c0c0c0"/><rect x="400" y="506" width="3" height="1" fill="#c0c0c0"/><rect x="406" y="506" width="3" height="1" fill="#c0c0c0"/><rect x="412" y="506" width="3" height="1" fill="#c0c0c0"/><rect x="418" y="506" width="3" height="1" fill="#c0c0c0"/><rect x="424" y="506" width="3" height="1" fill="#c0c0c0"/><rect x="430" y="506" width="3" height="1" fill="#c0c0c0"/><rect x="436" y="506" width="3" height="1" fill="#c0c0c0"/><rect x="442" y="506" width="3" height="1" fill="#c0c0c0"/><rect x="448" y="506" width="3" height="1" fill="#c0c0c0"/><rect x="454" y="506" width="3" height="1" fill="#c0c0c0"/><rect x="460" y="506" width="3" height="1" fill="#c0c0c0"/><rect x="466" y="506" width="3" height="1" fill="#c0c0c0"/><rect x="472" y="506" width="3" height="1" fill="#c0c0c0"/><rect x="478" y="506" width="3" height="1" fill="#c0c0c0"/><rect x="484" y="506" width="3" height="1" fill="#c0c0c0"/><rect x="490" y="506" width="3" height="1" fill="#c0c0c0"/><rect x="496" y="506" width="3" height="1" fill="#c0c0c0"/><rect x="502" y="506" width="3" height="1" fill="#c0c0c0"/><rect x="508" y="506" width="3" height="1" fill="#c0c0c0"/><rect x="514" y="506" width="3" height="1" fill="#c0c0c0"/><rect x="520" y="506" width="3" height="1" fill="#c0c0c0"/><rect x="526" y="506" width="3" height="1" fill="#c0c0c0"/><rect x="532" y="506" width="3" height="1" fill="#c0c0c0"/><rect x="538" y="506" width="3" height="1" fill="#c0c0c0"/><rect x="544" y="506" width="3" height="1" fill="#c0c0c0"/><rect x="550" y="506" width="3" height="1" fill="#c0c0c0"/><rect x="556" y="506" width="3" height="1" fill="#c0c0c0"/><rect x="562" y="506" width="3" height="1" fill="#c0c0c0"/><rect x="568" y="506" width="3" height="1" fill="#c0c0c0"/><rect x="574" y="506" width="3" height="1" fill="#c0c0c0"/><rect x="580" y="506" width="3" height="1" fill="#c0c0c0"/><rect x="586" y="506" width="3" height="1" fill="#c0c0c0"/><rect x="592" y="506" width="3" height="1" fill="#c0c0c0"/><rect x="598" y="506" width="3" height="1" fill="#c0c0c0"/><rect x="604" y="506" width="3" height="1" fill="#c0c0c0"/><rect x="610" y="506" width="3" height="1" fill="#c0c0c0"/><rect x="616" y="506" width="3" height="1" fill="#c0c0c0"/><rect x="622" y="506" width="3" height="1" fill="#c0c0c0"/><rect x="628" y="506" width="3" height="1" fill="#c0c0c0"/><rect x="634" y="506" width="3" height="1" fill="#c0c0c0"/><rect x="640" y="506" width="3" height="1" fill="#c0c0c0"/><rect x="646" y="506" width="3" height="1" fill="#c0c0c0"/><rect x="652" y="506" width="3" height="1" fill="#c0c0c0"/><rect x="658" y="506" width="3" height="1" fill="#c0c0c0"/><rect x="664" y="506" width="3" height="1" fill="#c0c0c0"/><rect x="670" y="506" width="3" height="1" fill="#c0c0c0"/><rect x="676" y="506" width="3" height="1" fill="#c0c0c0"/><rect x="682" y="506" width="3" height="1" fill="#c0c0c0"/><rect x="688" y="506" width="3" height="1" fill="#c0c0c0"/><rect x="694" y="506" width="3" height="1" fill="#c0c0c0"/><rect x="700" y="506" width="3" height="1" fill="#c0c0c0"/><rect x="706" y="506" width="3" height="1" fill="#c0c0c0"/><rect x="712" y="506" width="3" height="1" fill="#c0c0c0"/><rect x="718" y="506" width="3" height="1" fill="#c0c0c0"/><rect x="724" y="506" width="3" height="1" fill="#c0c0c0"/><rect x="730" y="506" width="3" height="1" fill="#c0c0c0"/><rect x="736" y="506" width="3" height="1" fill="#c0c0c0"/><rect x="742" y="506" width="3" height="1" fill="#c0c0c0"/><rect x="748" y="506" width="3" height="1" fill="#c0c0c0"/><rect x="754" y="506" width="3" height="1" fill="#c0c0c0"/><rect x="760" y="506" width="3" height="1" fill="#c0c0c0"/><rect x="766" y="506" width="3" height="1" fill="#c0c0c0"/><rect x="772" y="506" width="3" height="1" fill="#c0c0c0"/><rect x="778" y="506" width="3" height="1" fill="#c0c0c0"/><rect x="784" y="506" width="3" height="1" fill="#c0c0c0"/><rect x="790" y="506" width="3" height="1" fill="#c0c0c0"/><rect x="796" y="506" width="3" height="1" fill="#c0c0c0"/><rect x="802" y="506" width="3" height="1" fill="#c0c0c0"/><rect x="808" y="506" width="3" height="1" fill="#c0c0c0"/><rect x="814" y="506" width="3" height="1" fill="#c0c0c0"/><rect x="820" y="506" width="3" height="1" fill="#c0c0c0"/><rect x="826" y="506" width="3" height="1" fill="#c0c0c0"/><rect x="832" y="506" width="3" height="1" fill="#c0c0c0"/><rect x="838" y="506" width="3" height="1" fill="#c0c0c0"/><rect x="844" y="506" width="3" height="1" fill="#c0c0c0"/><rect x="850" y="506" width="3" height="1" fill="#c0c0c0"/><rect x="856" y="506" width="3" height="1" fill="#c0c0c0"/><rect x="862" y="506" width="3" height="1" fill="#c0c0c0"/><rect x="868" y="506" width="3" height="1" fill="#c0c0c0"/><rect x="874" y="506" width="3" height="1" fill="#c0c0c0"/><rect x="880" y="506" width="3" height="1" fill="#c0c0c0"/><rect x="886" y="506" width="3" height="1" fill="#c0c0c0"/><rect x="892" y="506" width="3" height="1" fill="#c0c0c0"/><rect x="898" y="506" width="3" height="1" fill="#c0c0c0"/><rect x="904" y="506" width="3" height="1" fill="#c0c0c0"/><rect x="910" y="506" width="3" height="1" fill="#c0c0c0"/><rect x="916" y="506" width="3" height="1" fill="#c0c0c0"/><rect x="922" y="506" width="3" height="1" fill="#c0c0c0"/><rect x="928" y="506" width="3" height="1" fill="#c0c0c0"/><rect x="934" y="506" width="3" height="1" fill="#c0c0c0"/><rect x="940" y="506" width="3" height="1" fill="#c0c0c0"/><rect x="946" y="506" width="3" height="1" fill="#c0c0c0"/><rect x="952" y="506" width="3" height="1" fill="#c0c0c0"/><rect x="958" y="506" width="3" height="1" fill="#c0c0c0"/><rect x="964" y="506" width="3" height="1" fill="#c0c0c0"/><rect x="970" y="506" width="3" height="1" fill="#c0c0c0"/><rect x="976" y="506" width="3" height="1" fill="#c0c0c0"/><rect x="982" y="506" width="3" height="1" fill="#c0c0c0"/><rect x="988" y="506" width="3" height="1" fill="#c0c0c0"/><rect x="994" y="506" width="3" height="1" fill="#c0c0c0"/><rect x="1000" y="506" width="3" height="1" fill="#c0c0c0"/><rect x="1006" y="506" width="3" height="1" fill="#c0c0c0"/><rect x="1012" y="506" width="3" height="1" fill="#c0c0c0"/><rect x="1018" y="506" width="3" height="1" fill="#c0c0c0"/><rect x="1024" y="506" width="3" height="1" fill="#c0c0c0"/>
<path d="M0.5,479v1M1.5,480v1M2.5,480v1M3.5,480v1M4.5,480v1M5.5,481v1M6.5,481v1M7.5,482v1M8.5,483v1M9.5,483v1M10.5,484v1M11.5,485v1M12.5,485v1M13.5,486v1M14.5,487v1M15.5,487v1M16.5,488v1M17.5,489v1M18.5,490v1M19.5,490v1M20.5,491v1M21.5,492v1M22.5,493v1M23.5,494v1M24.5,494v1M25.5,495v1M26.5,496v1M27.5,497v1M28.5,497v1M29.5,498v1M30.5,498v1M31.5,498v1M32.5,498v1M33.5,499v1M34.5,499v1M35.5,499v1M36.5,499v1M37.5,500v1M38.5,500v1M39.5,500v1M40.5,499v1M41.5,499v1M42.5,499v1M43.5,499v1M44.5,499v1M45.5,498v1M46.5,498v1M47.5,498v1M48.5,498v1M49.5,497v1M50.5,497v1M51.5,497v1M52.5,496v1M53.5,496v1M54.5,496v1M55.5,495v1M56.5,495v1M57.5,495v1M58.5,494v1M59.5,494v1M60.5,493v1M61.5,492v1M62.5,492v1M63.5,491v1M64.5,490v1M65.5,490v1M66.5,489v1M67.5,488v1M68.5,487v1M69.5,487v1M70.5,486v1M71.5,485v1M72.5,484v1M73.5,483v1M74.5,482v1M75.5,481v1M76.5,481v1M77.5,480v1M78.5,479v1M79.5,478v1M80.5,478v1M81.5,477v1M82.5,477v1M83.5,476v1M84.5,475v1M85.5,475v1M86.5,474v1M87.5,474v1M88.5,473v1M89.5,473v1M90.5,472v1M91.5,472v1M92.5,471v1M93.5,471v1M94.5,471v1M95.5,470v1M96.5,470v1M97.5,469v1M98.5,469v1M99.5,469v1M100.5,468v1M101.5,468v1M102.5,468v1M103.5,468v1M104.5,468v1M105.5,468v1M106.5,468v1M107.5,467v1M108.5,467v1M109.5,467v1M110.5,467v1M111.5,466v1M112.5,466v1M113.5,466v1M114.5,466v1M115.5,465v1M116.5,465v1M117.5,465v1M118.5,464v1M119.5,464v1M120.5,464v1M121.5,463v1M122.5,463v1M123.5,463v1M124.5,462v1M125.5,462v1M126.5,461v1M127.5,461v1M128.5,460v1M129.5,460v1M130.5,460v1M131.5,459v1M132.5,459v1M133.5,459v1M134.5,458v1M135.5,458v1M136.5,458v1M137.5,458v1M138.5,457v1M139.5,457v1M140.5,457v1M141.5,457v1M142.5,457v1M143.5,457v1M144.5,457v1M145.5,457v1M146.5,457v1M147.5,457v1M148.5,458v1M149.5,458v1M150.5,458v1M151.5,459v1M152.5,459v1M153.5,459v1M154.5,460v1M155.5,460v1M156.5,461v1M157.5,461v1M158.5,462v1M159.5,462v1M160.5,463v1M161.5,463v1M162.5,464v1M163.5,465v1M164.5,466v1M165.5,466v1M166.5,467v1M167.5,468v1M168.5,469v1M169.5,470v1M170.5,471v1M171.5,471v1M172.5,472v1M173.5,473v1M174.5,474v1M175.5,475v1M176.5,476v1M177.5,476v1M178.5,477v1M179.5,478v1M180.5,479v1M181.5,480v1M182.5,481v1M183.5,482v1M184.5,483v1M185.5,484v1M186.5,485v1M187.5,486v1M188.5,487v1M189.5,488v1M190.5,489v1M191.5,490v1M192.5,490v1M193.5,491v1M194.5,492v1M195.5,492v1M196.5,493v1M197.5,494v1M198.5,494v1M199.5,494v1M200.5,495v1M201.5,495v1M202.5,496v1M203.5,496v1M204.5,496v1M205.5,497v1M206.5,497v1M207.5,498v1M208.5,498v1M209.5,498v1M210.5,498v1M211.5,499v1M212.5,499v1M213.5,499v1M214.5,499v1M215.5,500v1M216.5,500v1M217.5,500v1M218.5,500v1M219.5,500v1M220.5,500v1M221.5,501v1M222.5,501v1M223.5,501v1M224.5,501v1M225.5,501v1M226.5,501v1M227.5,502v1M228.5,502v1M229.5,502v1M230.5,503v1M231.5,503v1M232.5,504v1M233.5,504v1M234.5,504v1M235.5,505v1M236.5,505v1M237.5,505v1M238.5,506v1M239.5,506v1M240.5,506v1M241.5,506v1M242.5,506v1M243.5,507v1M244.5,507v1M245.5,507v1M246.5,507v1M247.5,508v1M248.5,508v1M249.5,508v1M250.5,509v1M251.5,509v1M252.5,509v1M253.5,510v1M254.5,510v1M255.5,510v1M256.5,511v1M257.5,511v1M258.5,511v1M259.5,511v1M260.5,512v1M261.5,512v1M262.5,512v1M263.5,512v1M264.5,513v1M265.5,513v1M266.5,513v1M267.5,513v1M268.5,514v1M269.5,514v1M270.5,514v1M271.5,515v1M272.5,515v1M273.5,515v1M274.5,516v1M275.5,516v1M276.5,517v1M277.5,517v1M278.5,518v1M279.5,518v1M280.5,518v1M281.5,519v1M282.5,519v1M283.5,520v1M284.5,520v1M285.5,521v1M286.5,521v1M287.5,522v1M288.5,522v1M289.5,523v1M290.5,523v1M291.5,524v1M292.5,524v1M293.5,525v1M294.5,525v1M295.5,526v1M296.5,526v1M297.5,527v1M298.5,527v1M299.5,528v1M300.5,528v1M301.5,529v1M302.5,529v1M303.5,530v1M304.5,530v1M305.5,531v1M306.5,531v1M307.5,532v1M308.5,532v1M309.5,533v1M310.5,533v1M311.5,533v1M312.5,534v1M313.5,534v1M314.5,534v1M315.5,535v1M316.5,535v1M317.5,535v1M318.5,536v1M319.5,536v1M320.5,536v1M321.5,536v1M322.5,536v1M323.5,536v1M324.5,536v1M325.5,536v1M326.5,536v1M327.5,536v1M328.5,536v1M329.5,536v1M330.5,535v1M331.5,535v1M332.5,535v1M333.5,535v1M334.5,535v1M335.5,534v1M336.5,534v1M337.5,534v1M338.5,534v1M339.5,534v1M340.5,534v1M341.5,533v1M342.5,533v1M343.5,532v1M344.5,532v1M345.5,532v1M346.5,531v1M347.5,531v1M348.5,530v1M349.5,530v1M350.5,530v1M351.5,529v1M352.5,529v1M353.5,529v1M354.5,528v1M355.5,528v1M356.5,528v1M357.5,528v1M358.5,527v1M359.5,527v1M360.5,527v1M361.5,526v1M362.5,526v1M363.5,526v1M364.5,526v1M365.5,526v1M366.5,525v1M367.5,525v1M368.5,525v1M369.5,525v1M370.5,525v1M371.5,525v1M372.5,525v1M373.5,525v1M374.5,525v1M375.5,525v1M376.5,525v1M377.5,525v1M378.5,526v1M379.5,526v1M380.5,526v1M381.5,526v1M382.5,527v1M383.5,527v1M384.5,527v1M385.5,527v1M386.5,528v1M387.5,528v1M388.5,528v1M389.5,529v1M390.5,529v1M391.5,529v1M392.5,529v1M393.5,530v1M394.5,530v1M395.5,530v1M396.5,530v1M397.5,531v1M398.5,531v1M399.5,531v1M400.5,531v1M401.5,531v1M402.5,531v1M403.5,531v1M404.5,531v1M405.5,531v1M406.5,531v1M407.5,531v1M408.5,531v1M409.5,530v1M410.5,530v1M411.5,530v1M412.5,530v1M413.5,529v1M414.5,529v1M415.5,529v1M416.5,529v1M417.5,528v1M418.5,528v1M419.5,528v1M420.5,528v1M421.5,527v1M422.5,527v1M423.5,527v1M424.5,526v1M425.5,526v1M426.5,526v1M427.5,525v1M428.5,525v1M429.5,525v1M430.5,524v1M431.5,524v1M432.5,524v1M433.5,524v1M434.5,524v1M435.5,524v1M436.5,524v1M437.5,524v1M438.5,523v1M439.5,523v1M440.5,523v1M441.5,523v1M442.5,524v1M443.5,524v1M444.5,524v1M445.5,524v1M446.5,524v1M447.5,524v1M448.5,524v1M449.5,524v1M450.5,525v1M451.5,525v1M452.5,525v1M453.5,525v1M454.5,526v1M455.5,526v1M456.5,526v1M457.5,527v1M458.5,527v1M459.5,527v1M460.5,527v1M461.5,528v1M462.5,528v1M463.5,528v1M464.5,528v1M465.5,528v1M466.5,528v1M467.5,529v1M468.5,529v1M469.5,529v1M470.5,529v1M471.5,529v1M472.5,529v1M473.5,529v1M474.5,529v1M475.5,528v1M476.5,528v1M477.5,528v1M478.5,528v1M479.5,528v1M480.5,527v1M481.5,527v1M482.5,526v1M483.5,526v1M484.5,525v1M485.5,525v1M486.5,524v1M487.5,524v1M488.5,523v1M489.5,523v1M490.5,522v1M491.5,521v1M492.5,520v1M493.5,519v1M494.5,518v1M495.5,517v1M496.5,516v1M497.5,515v1M498.5,515v1M499.5,514v1M500.5,513v1M501.5,512v1M502.5,511v1M503.5,510v1M504.5,509v1M505.5,508v1M506.5,507v1M507.5,506v1M508.5,505v1M509.5,505v1M510.5,504v1M511.5,504v1M512.5,503v1M513.5,503v1M514.5,502v1M515.5,501v1M516.5,501v1M517.5,500v1M518.5,499v1M519.5,499v1M520.5,498v1M521.5,497v1M522.5,497v1M523.5,496v1M524.5,495v1M525.5,494v1M526.5,493v1M527.5,492v1M528.5,491v1M529.5,490v1M530.5,489v1M531.5,488v1M532.5,487v1M533.5,486v1M534.5,486v1M535.5,485v1M536.5,484v1M537.5,483v1M538.5,482v1M539.5,482v1M540.5,481v1M541.5,480v1M542.5,479v1M543.5,478v1M544.5,477v1M545.5,476v1M546.5,475v1M547.5,474v1M548.5,473v1M549.5,472v1M550.5,472v1M551.5,471v1M552.5,471v1M553.5,470v1M554.5,470v1M555.5,469v1M556.5,469v1M557.5,469v1M558.5,468v1M559.5,468v1M560.5,468v1M561.5,468v1M562.5,468v1M563.5,468v1M564.5,468v1M565.5,468v1M566.5,468v1M567.5,468v1M568.5,468v1M569.5,468v1M570.5,468v1M571.5,469v1M572.5,469v1M573.5,469v1M574.5,469v1M575.5,470v1M576.5,470v1M577.5,470v1M578.5,470v1M579.5,471v1M580.5,471v1M581.5,471v1M582.5,472v1M583.5,472v1M584.5,473v1M585.5,473v1M586.5,474v1M587.5,474v1M588.5,475v1M589.5,475v1M590.5,476v1M591.5,476v1M592.5,477v1M593.5,477v1M594.5,478v1M595.5,478v1M596.5,479v1M597.5,479v1M598.5,480v1M599.5,480v1M600.5,480v1M601.5,481v1M602.5,481v1M603.5,481v1M604.5,482v1M605.5,482v1M606.5,482v1M607.5,482v1M608.5,483v1M609.5,483v1M610.5,483v1M611.5,483v1M612.5,483v1M613.5,484v1M614.5,484v1M615.5,484v1M616.5,484v1M617.5,484v1M618.5,484v1M619.5,484v1M620.5,484v1M621.5,483v1M622.5,483v1M623.5,483v1M624.5,483v1M625.5,483v1M626.5,482v1M627.5,482v1M628.5,482v1M629.5,481v1M630.5,481v1M631.5,481v1M632.5,480v1M633.5,480v1M634.5,479v1M635.5,479v1M636.5,478v1M637.5,478v1M638.5,477v1M639.5,477v1M640.5,476v1M641.5,476v1M642.5,475v1M643.5,475v1M644.5,474v1M645.5,473v1M646.5,473v1M647.5,472v1M648.5,472v1M649.5,471v1M650.5,470v1M651.5,469v1M652.5,469v1M653.5,468v1M654.5,467v1M655.5,466v1M656.5,465v1M657.5,464v1M658.5,464v1M659.5,463v1M660.5,462v1M661.5,461v1M662.5,461v1M663.5,460v1M664.5,459v1M665.5,458v1M666.5,458v1M667.5,457v1M668.5,456v1M669.5,456v1M670.5,455v1M671.5,454v1M672.5,454v1M673.5,453v1M674.5,453v1M675.5,452v1M676.5,452v1M677.5,452v1M678.5,451v1M679.5,451v1M680.5,450v1M681.5,450v1M682.5,450v1M683.5,450v1M684.5,450v1M685.5,450v1M686.5,450v1M687.5,450v1M688.5,450v1M689.5,450v1M690.5,450v1M691.5,450v1M692.5,450v1M693.5,450v1M694.5,450v1M695.5,451v1M696.5,451v1M697.5,452v1M698.5,452v1M699.5,453v1M700.5,453v1M701.5,454v1M702.5,455v1M703.5,456v1M704.5,457v1M705.5,457v1M706.5,458v1M707.5,459v1M708.5,460v1M709.5,461v1M710.5,462v1M711.5,463v1M712.5,464v1M713.5,465v1M714.5,466v1M715.5,467v2M716.5,469v1M717.5,470v1M718.5,471v1M719.5,472v1M720.5,473v1M721.5,474v1M722.5,475v1M723.5,476v1M724.5,477v1M725.5,478v1M726.5,479v1M727.5,480v1M728.5,481v1M729.5,482v1M730.5,483v1M731.5,483v1M732.5,484v1M733.5,485v1M734.5,486v1M735.5,487v1M736.5,488v1M737.5,488v1M738.5,489v1M739.5,490v1M740.5,491v1M741.5,491v1M742.5,492v1M743.5,493v1M744.5,494v1M745.5,494v1M746.5,495v1M747.5,496v1M748.5,497v1M749.5,497v1M750.5,498v1M751.5,499v1M752.5,499v1M753.5,500v1M754.5,501v1M755.5,502v1M756.5,502v1M757.5,503v1M758.5,504v1M759.5,504v1M760.5,505v1M761.5,506v1M762.5,506v1M763.5,507v1M764.5,507v1M765.5,508v1M766.5,509v1M767.5,509v1M768.5,510v1M769.5,510v1M770.5,511v1M771.5,511v1M772.5,512v1M773.5,512v1M774.5,513v1M775.5,513v1M776.5,514v1M777.5,514v1M778.5,515v1M779.5,515v1M780.5,516v1M781.5,516v1M782.5,516v1M783.5,517v1M784.5,517v1M785.5,517v1M786.5,518v1M787.5,518v1M788.5,518v1M789.5,518v1M790.5,518v1M791.5,518v1M792.5,518v1M793.5,518v1M794.5,518v1M795.5,518v1M796.5,518v1M797.5,518v1M798.5,518v1M799.5,518v1M800.5,518v1M801.5,518v1M802.5,518v1M803.5,518v1M804.5,518v1M805.5,518v1M806.5,518v1M807.5,518v1M808.5,518v1M809.5,517v1M810.5,517v1M811.5,517v1M812.5,518v1M813.5,518v1M814.5,518v1M815.5,518v1M816.5,518v1M817.5,518v1M818.5,518v1M819.5,519v1M820.5,519v1M821.5,519v1M822.5,519v1M823.5,520v1M824.5,520v1M825.5,520v1M826.5,520v1M827.5,521v1M828.5,521v1M829.5,521v1M830.5,522v1M831.5,523v1M832.5,523v1M833.5,524v1M834.5,524v1M835.5,525v1M836.5,526v1M837.5,526v1M838.5,527v1M839.5,528v1M840.5,528v1M841.5,529v1M842.5,530v1M843.5,530v1M844.5,531v1M845.5,532v1M846.5,532v1M847.5,533v1M848.5,533v1M849.5,534v1M850.5,534v1M851.5,535v1M852.5,535v1M853.5,536v1M854.5,536v1M855.5,537v1M856.5,537v1M857.5,537v1M858.5,537v1M859.5,537v1M860.5,537v1M861.5,537v1M862.5,536v1M863.5,536v1M864.5,535v1M865.5,535v1M866.5,534v1M867.5,534v1M868.5,533v1M869.5,532v1M870.5,531v1M871.5,530v1M872.5,529v1M873.5,528v1M874.5,527v1M875.5,526v1M876.5,525v1M877.5,524v1M878.5,523v1M879.5,522v1M880.5,521v1M881.5,520v1M882.5,519v1M883.5,518v1M884.5,517v1M885.5,516v1M886.5,515v1M887.5,514v1M888.5,513v1M889.5,513v1M890.5,512v1M891.5,511v1M892.5,510v1M893.5,510v1M894.5,510v1M895.5,509v1M896.5,509v1" fill="none" stroke="#ff0000" stroke-width="1"/>
<path d="M0.5,490v1M1.5,491v1M2.5,492v1M3.5,493v1M4.5,494v1M5.5,494v1M6.5,495v1M7.5,496v1M8.5,497v1M9.5,498v1M10.5,499v1M11.5,500v1M12.5,501v1M13.5,501v1M14.5,501v1M15.5,501v1M16.5,501v1M17.5,501v1M18.5,501v1M19.5,501v1M20.5,501v1M21.5,501v1M22.5,501v1M23.5,501v1M24.5,501v1M25.5,501v1M26.5,501v1M27.5,501v1M28.5,501v1M29.5,501v1M30.5,501v1M31.5,500v1M32.5,500v1M33.5,500v1M34.5,499v1M35.5,499v1M36.5,498v1M37.5,497v1M38.5,496v1M39.5,496v1M40.5,495v1M41.5,494v1M42.5,494v1M43.5,493v1M44.5,493v1M45.5,492v1M46.5,492v1M47.5,491v1M48.5,491v1M49.5,491v1M50.5,491v1M51.5,491v1M52.5,491v1M53.5,491v1M54.5,490v1M55.5,489v1M56.5,488v1M57.5,487v1M58.5,486v1M59.5,485v1M60.5,484v1M61.5,483v1M62.5,481v2M63.5,480v1M64.5,479v1M65.5,477v2M66.5,476v1M67.5,475v1M68.5,474v1M69.5,473v1M70.5,472v1M71.5,471v1M72.5,470v1M73.5,469v1M74.5,468v1M75.5,467v1M76.5,467v1M77.5,467v1M78.5,467v1M79.5,467v1M80.5,467v1M81.5,467v1M82.5,467v1M83.5,467v1M84.5,468v1M85.5,469v1M86.5,469v1M87.5,470v1M88.5,470v1M89.5,471v1M90.5,471v1M91.5,471v1M92.5,471v1M93.5,471v1M94.5,470v1M95.5,469v1M96.5,468v1M97.5,467v1M98.5,466v1M99.5,466v1M100.5,465v1M101.5,465v1M102.5,466v1M103.5,466v1M104.5,466v1M105.5,466v1M106.5,466v1M107.5,467v1M108.5,466v1M109.5,465v1M110.5,464v1M111.5,462v2M112.5,461v1M113.5,460v1M114.5,458v2M115.5,457v1M116.5,456v1M117.5,455v1M118.5,455v1M119.5,455v1M120.5,454v1M121.5,454v1M122.5,453v1M123.5,453v1M124.5,453v1M125.5,453v1M126.5,454v1M127.5,454v1M128.5,454v1M129.5,455v1M130.5,455v1M131.5,456v1M132.5,456v1M133.5,456v1M134.5,457v1M135.5,457v1M136.5,457v1M137.5,458v1M138.5,459v1M139.5,459v1M140.5,460v1M141.5,461v1M142.5,461v1M143.5,462v1M144.5,463v1M145.5,463v1M146.5,464v1M147.5,464v1M148.5,465v1M149.5,466v1M150.5,466v1M151.5,467v1M152.5,467v1M153.5,467v1M154.5,467v1M155.5,468v1M156.5,468v1M157.5,469v1M158.5,470v2M159.5,472v1M160.5,473v2M161.5,475v1M162.5,476v1M163.5,477v2M164.5,479v1M165.5,480v1M166.5,481v2M167.5,483v1M168.5,484v1M169.5,485v1M170.5,486v1M171.5,487v1M172.5,488v1M173.5,489v1M174.5,490v1M175.5,491v1M176.5,492v1M177.5,493v1M178.5,494v1M179.5,494v1M180.5,495v1M181.5,496v2M182.5,498v1M183.5,499v1M184.5,500v1M185.5,500v1M186.5,500v1M187.5,500v1M188.5,500v1M189.5,500v1M190.5,500v1M191.5,500v1M192.5,500v1M193.5,500v1M194.5,499v1M195.5,499v1M196.5,499v1M197.5,499v1M198.5,499v1M199.5,499v1M200.5,499v1M201.5,499v1M202.5,499v1M203.5,499v1M204.5,499v1M205.5,500v1M206.5,500v1M207.5,500v1M208.5,500v1M209.5,500v1M210.5,500v1M211.5,500v1M212.5,501v1M213.5,501v1M214.5,501v1M215.5,501v1M216.5,501v1M217.5,502v1M218.5,502v1M219.5,502v1M220.5,503v1M221.5,504v1M222.5,505v1M223.5,506v1M224.5,507v1M225.5,507v1M226.5,508v1M227.5,509v1M228.5,510v1M229.5,510v1M230.5,510v1M231.5,510v1M232.5,510v1M233.5,510v1M234.5,510v1M235.5,510v1M236.5,510v1M237.5,510v1M238.5,510v1M239.5,510v1M240.5,510v1M241.5,510v1M242.5,511v1M243.5,511v1M244.5,511v1M245.5,511v1M246.5,511v1M247.5,512v1M248.5,512v1M249.5,513v1M250.5,513v1M251.5,514v1M252.5,514v1M253.5,514v1M254.5,515v1M255.5,515v1M256.5,516v1M257.5,516v1M258.5,517v1M259.5,517v1M260.5,517v1M261.5,517v1M262.5,517v1M263.5,518v1M264.5,518v1M265.5,518v1M266.5,518v1M267.5,518v1M268.5,519v1M269.5,519v1M270.5,519v1M271.5,519v1M272.5,520v1M273.5,521v1M274.5,522v1M275.5,523v1M276.5,524v1M277.5,525v2M278.5,527v1M279.5,528v1M280.5,529v1M281.5,529v1M282.5,530v1M283.5,530v1M284.5,531v1M285.5,532v1M286.5,532v1M287.5,533v1M288.5,533v1M289.5,534v1M290.5,534v1M291.5,534v1M292.5,534v1M293.5,534v1M294.5,534v1M295.5,534v1M296.5,535v1M297.5,535v1M298.5,535v1M299.5,535v1M300.5,535v1M301.5,535v1M302.5,535v1M303.5,535v1M304.5,535v1M305.5,535v1M306.5,535v1M307.5,536v1M308.5,536v1M309.5,536v1M310.5,536v1M311.5,537v1M312.5,537v1M313.5,537v1M314.5,537v1M315.5,537v1M316.5,537v1M317.5,537v1M318.5,537v1M319.5,537v1M320.5,537v1M321.5,536v1M322.5,536v1M323.5,535v1M324.5,535v1M325.5,534v1M326.5,533v1M327.5,533v1M328.5,532v1M329.5,532v1M330.5,532v1M331.5,531v1M332.5,531v1M333.5,530v1M334.5,530v1M335.5,529v1M336.5,529v1M337.5,529v1M338.5,528v1M339.5,528v1M340.5,528v1M341.5,528v1M342.5,528v1M343.5,528v1M344.5,528v1M345.5,527v1M346.5,527v1M347.5,526v1M348.5,525v1M349.5,525v1M350.5,525v1M351.5,525v1M352.5,525v1M353.5,524v1M354.5,524v1M355.5,524v1M356.5,524v1M357.5,524v1M358.5,524v1M359.5,524v1M360.5,524v1M361.5,524v1M362.5,524v1M363.5,523v1M364.5,523v1M365.5,524v1M366.5,524v1M367.5,524v1M368.5,525v1M369.5,525v1M370.5,525v1M371.5,526v1M372.5,526v1M373.5,527v1M374.5,528v1M375.5,529v1M376.5,530v1M377.5,530v1M378.5,531v1M379.5,531v1M380.5,532v1M381.5,532v1M382.5,532v1M383.5,533v1M384.5,533v1M385.5,533v1M386.5,533v1M387.5,533v1M388.5,533v1M389.5,533v1M390.5,533v1M391.5,533v1M392.5,533v1M393.5,532v1M394.5,532v1M395.5,531v1M396.5,531v1M397.5,530v1M398.5,530v1M399.5,529v1M400.5,529v1M401.5,528v1M402.5,528v1M403.5,528v1M404.5,527v1M405.5,527v1M406.5,526v1M407.5,526v1M408.5,526v1M409.5,525v1M410.5,524v1M411.5,524v1M412.5,523v1M413.5,523v1M414.5,522v1M415.5,522v1M416.5,522v1M417.5,521v1M418.5,521v1M419.5,521v1M420.5,521v1M421.5,521v1M422.5,522v1M423.5,522v1M424.5,522v1M425.5,523v1M426.5,523v1M427.5,523v1M428.5,524v1M429.5,524v1M430.5,524v1M431.5,524v1M432.5,524v1M433.5,524v1M434.5,524v1M435.5,523v1M436.5,523v1M437.5,523v1M438.5,523v1M439.5,524v1M440.5,524v1M441.5,525v1M442.5,525v1M443.5,526v1M444.5,526v1M445.5,527v1M446.5,527v1M447.5,528v1M448.5,528v1M449.5,529v1M450.5,529v1M451.5,529v1M452.5,530v1M453.5,530v1M454.5,531v1M455.5,531v1M456.5,532v1M457.5,532v1M458.5,532v1M459.5,532v1M460.5,531v1M461.5,531v1M462.5,531v1M463.5,531v1M464.5,531v1M465.5,531v1M466.5,531v1M467.5,531v1M468.5,530v1M469.5,529v1M470.5,528v1M471.5,527v1M472.5,525v2M473.5,524v1M474.5,523v1M475.5,521v2M476.5,520v1M477.5,519v1M478.5,518v1M479.5,516v2M480.5,515v1M481.5,514v1M482.5,513v1M483.5,512v1M484.5,511v1M485.5,510v1M486.5,509v1M487.5,508v1M488.5,507v1M489.5,506v1M490.5,505v1M491.5,505v1M492.5,504v1M493.5,503v1M494.5,503v1M495.5,502v1M496.5,501v1M497.5,500v1M498.5,500v1M499.5,499v1M500.5,499v1M501.5,499v1M502.5,499v1M503.5,498v1M504.5,498v1M505.5,498v1M506.5,498v1M507.5,498v1M508.5,498v1M509.5,497v1M510.5,497v1M511.5,497v1M512.5,497v1M513.5,496v1M514.5,495v1M515.5,495v1M516.5,494v1M517.5,492v2M518.5,490v2M519.5,487v3M520.5,485v2M521.5,483v2M522.5,481v2M523.5,479v2M524.5,478v1M525.5,477v1M526.5,475v2M527.5,474v1M528.5,473v1M529.5,471v2M530.5,470v1M531.5,470v1M532.5,470v1M533.5,469v1M534.5,469v1M535.5,468v1M536.5,468v1M537.5,468v1M538.5,468v1M539.5,469v1M540.5,468v1M541.5,468v1M542.5,467v1M543.5,466v1M544.5,466v1M545.5,465v1M546.5,465v1M547.5,465v1M548.5,465v1M549.5,465v1M550.5,466v1M551.5,467v1M552.5,467v1M553.5,468v1M554.5,468v1M555.5,469v1M556.5,469v1M557.5,469v1M558.5,469v1M559.5,469v1M560.5,469v1M561.5,469v1M562.5,469v1M563.5,469v1M564.5,469v1M565.5,469v1M566.5,470v1M567.5,471v1M568.5,471v1M569.5,472v1M570.5,473v1M571.5,474v1M572.5,475v1M573.5,475v1M574.5,476v1M575.5,476v1M576.5,477v1M577.5,478v1M578.5,478v1M579.5,479v1M580.5,479v1M581.5,480v1M582.5,480v1M583.5,481v1M584.5,482v1M585.5,483v1M586.5,484v1M587.5,484v1M588.5,485v1M589.5,486v1M590.5,486v1M591.5,486v1M592.5,485v1M593.5,485v1M594.5,485v1M595.5,485v1M596.5,485v1M597.5,485v1M598.5,485v1M599.5,485v1M600.5,485v1M601.5,485v1M602.5,485v1M603.5,485v1M604.5,485v1M605.5,485v1M606.5,484v1M607.5,484v1M608.5,484v1M609.5,484v1M610.5,484v1M611.5,484v1M612.5,484v1M613.5,484v1M614.5,483v1M615.5,483v1M616.5,482v1M617.5,482v1M618.5,481v1M619.5,480v1M620.5,480v1M621.5,479v1M622.5,479v1M623.5,478v1M624.5,478v1M625.5,478v1M626.5,477v1M627.5,477v1M628.5,477v1M629.5,476v1M630.5,475v1M631.5,474v1M632.5,474v1M633.5,473v1M634.5,472v1M635.5,472v1M636.5,471v1M637.5,469v2M638.5,467v2M639.5,465v2M640.5,464v1M641.5,463v1M642.5,462v1M643.5,461v1M644.5,460v1M645.5,459v1M646.5,458v1M647.5,458v1M648.5,458v1M649.5,457v1M650.5,457v1M651.5,456v1M652.5,456v1M653.5,456v1M654.5,455v1M655.5,454v1M656.5,453v1M657.5,452v1M658.5,451v1M659.5,451v1M660.5,450v1M661.5,449v1M662.5,449v1M663.5,448v1M664.5,448v1M665.5,448v1M666.5,448v1M667.5,447v1M668.5,447v1M669.5,447v1M670.5,447v1M671.5,446v1M672.5,446v1M673.5,446v1M674.5,447v1M675.5,447v1M676.5,447v1M677.5,447v1M678.5,447v1M679.5,448v1M680.5,449v1M681.5,449v1M682.5,450v1M683.5,451v1M684.5,452v1M685.5,453v1M686.5,454v1M687.5,455v1M688.5,456v1M689.5,457v1M690.5,458v1M691.5,459v1M692.5,460v1M693.5,461v1M694.5,462v1M695.5,463v1M696.5,464v1M697.5,465v1M698.5,466v1M699.5,467v1M700.5,468v1M701.5,469v1M702.5,470v1M703.5,471v1M704.5,472v1M705.5,473v1M706.5,474v1M707.5,475v1M708.5,476v1M709.5,477v2M710.5,479v1M711.5,480v2M712.5,482v1M713.5,483v2M714.5,485v1M715.5,486v1M716.5,486v1M717.5,487v1M718.5,487v1M719.5,488v1M720.5,488v1M721.5,489v1M722.5,489v1M723.5,489v1M724.5,490v1M725.5,490v1M726.5,490v1M727.5,491v1M728.5,491v1M729.5,492v1M730.5,492v1M731.5,493v1M732.5,494v1M733.5,495v1M734.5,496v1M735.5,497v2M736.5,499v1M737.5,500v1M738.5,500v1M739.5,501v1M740.5,502v1M741.5,503v1M742.5,504v1M743.5,505v1M744.5,505v1M745.5,506v1M746.5,507v1M747.5,508v1M748.5,508v1M749.5,509v1M750.5,509v1M751.5,510v1M752.5,511v1M753.5,512v1M754.5,513v1M755.5,514v1M756.5,515v1M757.5,515v1M758.5,516v1M759.5,516v1M760.5,516v1M761.5,516v1M762.5,516v1M763.5,516v1M764.5,516v1M765.5,516v1M766.5,516v1M767.5,517v1M768.5,517v1M769.5,517v1M770.5,518v1M771.5,518v1M772.5,519v1M773.5,519v1M774.5,519v1M775.5,520v1M776.5,520v1M777.5,520v1M778.5,520v1M779.5,521v1M780.5,521v1M781.5,520v1M782.5,520v1M783.5,519v1M784.5,519v1M785.5,519v1M786.5,518v1M787.5,518v1M788.5,518v1M789.5,517v1M790.5,517v1M791.5,516v1M792.5,516v1M793.5,516v1M794.5,515v1M795.5,515v1M796.5,515v1M797.5,515v1M798.5,514v1M799.5,514v1M800.5,514v1M801.5,515v1M802.5,515v1M803.5,516v1M804.5,516v1M805.5,517v1M806.5,517v1M807.5,518v1M808.5,519v1M809.5,519v1M810.5,520v1M811.5,521v1M812.5,522v1M813.5,522v1M814.5,523v1M815.5,523v1M816.5,524v1M817.5,524v1M818.5,525v1M819.5,525v1M820.5,525v1M821.5,526v1M822.5,526v1M823.5,526v1M824.5,527v1M825.5,527v1M826.5,527v1M827.5,528v1M828.5,529v1M829.5,530v1M830.5,531v1M831.5,532v1M832.5,533v1M833.5,534v1M834.5,535v1M835.5,536v1M836.5,537v2M837.5,539v1M838.5,540v1M839.5,541v1M840.5,542v1M841.5,543v1M842.5,544v1M843.5,544v1M844.5,544v1M845.5,545v1M846.5,545v1M847.5,546v1M848.5,546v1M849.5,545v1M850.5,544v1M851.5,543v1M852.5,542v1M853.5,540v2M854.5,538v2M855.5,536v2M856.5,533v3M857.5,531v2M858.5,529v2M859.5,527v2M860.5,525v2M861.5,523v2M862.5,520v3M863.5,518v2M864.5,515v3M865.5,512v3M866.5,510v2M867.5,508v2M868.5,506v2M869.5,505v1M870.5,503v2M871.5,502v1M872.5,501v1M873.5,501v1M874.5,502v1M875.5,503v1M876.5,504v1M877.5,505v1M878.5,506v1M879.5,506v1M880.5,507v1M881.5,508v1M882.5,508v1M883.5,509v1M884.5,509v1M885.5,510v1M886.5,510v1M887.5,510v1M888.5,511v1M889.5,511v1M890.5,511v1M891.5,511v1M892.5,512v1M893.5,512v1M894.5,512v1M895.5,512v1M896.5,512v1" fill="none" stroke="#0000ff" stroke-width="1"/>
<text x="1.4" y="448.5" fill="#000" stroke="#000" font-size="10" textLength="36.1" lengthAdjust="spacingAndGlyphs" text-anchor="start">(12,26,9)</text>
<text x="40.8" y="448.5" fill="#000" stroke="#000" font-size="10" textLength="41.1" lengthAdjust="spacingAndGlyphs" text-anchor="start">-0.000803</text>
<text x="85.2" y="448.5" fill="#000" stroke="#000" font-size="10" textLength="41.1" lengthAdjust="spacingAndGlyphs" text-anchor="start">-0.000363</text>
<text x="129.6" y="448.5" fill="#000" stroke="#000" font-size="10" textLength="63.8" lengthAdjust="spacingAndGlyphs" text-anchor="start">MACD(12,26,1)</text>
<text x="198.6" y="448.5" fill="#000" stroke="#000" font-size="10" textLength="39.6" lengthAdjust="spacingAndGlyphs" text-anchor="start">-0.000803</text>
<text x="242.5" y="448.5" fill="#000" stroke="#000" font-size="10" textLength="39.3" lengthAdjust="spacingAndGlyphs" text-anchor="start">-0.000803</text>
<text x="1034" y="445" fill="#000" stroke="#000" font-size="10" textLength="37.2" lengthAdjust="spacingAndGlyphs" text-anchor="start">0.008618</text>
<text x="1034" y="509" fill="#000" stroke="#000" font-size="10" textLength="37.2" lengthAdjust="spacingAndGlyphs" text-anchor="start">0.000000</text>
<text x="1034" y="554" fill="#000" stroke="#000" font-size="10" textLength="40.2" lengthAdjust="spacingAndGlyphs" text-anchor="start">-0.006230</text>
<text x="-32" y="569" fill="#000" stroke="#000" font-size="10" textLength="50" lengthAdjust="spacingAndGlyphs" text-anchor="start">17 Jan 2019</text>
<rect x="32" y="557" width="1" height="3" fill="#000"/>
<text x="32" y="569" fill="#000" stroke="#000" font-size="10" textLength="51.7" lengthAdjust="spacingAndGlyphs" text-anchor="start">22 Jan 08:00</text>
<rect x="96" y="557" width="1" height="3" fill="#000"/>
<text x="96" y="569" fill="#000" stroke="#000" font-size="10" textLength="51.7" lengthAdjust="spacingAndGlyphs" text-anchor="start">25 Jan 00:00</text>
<rect x="160" y="557" width="1" height="3" fill="#000"/>
<text x="160" y="569" fill="#000" stroke="#000" font-size="10" textLength="51.7" lengthAdjust="spacingAndGlyphs" text-anchor="start">29 Jan 16:00</text>
<rect x="224" y="557" width="1" height="3" fill="#000"/>
<text x="224" y="569" fill="#000" stroke="#000" font-size="10" textLength="49.2" lengthAdjust="spacingAndGlyphs" text-anchor="start">1 Feb 08:00</text>
<rect x="288" y="557" width="1" height="3" fill="#000"/>
<text x="288" y="569" fill="#000" stroke="#000" font-size="10" textLength="49.2" lengthAdjust="spacingAndGlyphs" text-anchor="start">6 Feb 00:00</text>
<rect x="352" y="557" width="1" height="3" fill="#000"/>
<text x="352" y="569" fill="#000" stroke="#000" font-size="10" textLength="49.2" lengthAdjust="spacingAndGlyphs" text-anchor="start">8 Feb 16:00</text>
<rect x="416" y="557" width="1" height="3" fill="#000"/>
<text x="416" y="569" fill="#000" stroke="#000" font-size="10" textLength="53.8" lengthAdjust="spacingAndGlyphs" text-anchor="start">13 Feb 08:00</text>
<rect x="480" y="557" width="1" height="3" fill="#000"/>
<text x="480" y="569" fill="#000" stroke="#000" font-size="10" textLength="53.8" lengthAdjust="spacingAndGlyphs" text-anchor="start">18 Feb 00:00</text>
<rect x="544" y="557" width="1" height="3" fill="#000"/>
<text x="544" y="569" fill="#000" stroke="#000" font-size="10" textLength="53.8" lengthAdjust="spacingAndGlyphs" text-anchor="start">20 Feb 16:00</text>
<rect x="608" y="557" width="1" height="3" fill="#000"/>
<text x="608" y="569" fill="#000" stroke="#000" font-size="10" textLength="53.8" lengthAdjust="spacingAndGlyphs" text-anchor="start">25 Feb 08:00</text>
<rect x="672" y="557" width="1" height="3" fill="#000"/>
<text x="672" y="569" fill="#000" stroke="#000" font-size="10" textLength="53.8" lengthAdjust="spacingAndGlyphs" text-anchor="start">28 Feb 00:00</text>
<rect x="736" y="557" width="1" height="3" fill="#000"/>
<text x="736" y="569" fill="#000" stroke="#000" font-size="10" textLength="48.4" lengthAdjust="spacingAndGlyphs" text-anchor="start">4 Mar 16:00</text>
<rect x="800" y="557" width="1" height="3" fill="#000"/>
<text x="800" y="569" fill="#000" stroke="#000" font-size="10" textLength="48.4" lengthAdjust="spacingAndGlyphs" text-anchor="start">7 Mar 08:00</text>
<rect x="864" y="557" width="1" height="3" fill="#000"/>
<text x="864" y="569" fill="#000" stroke="#000" font-size="10" textLength="53.7" lengthAdjust="spacingAndGlyphs" text-anchor="start">12 Mar 00:00</text>
</svg>
</body></html>
